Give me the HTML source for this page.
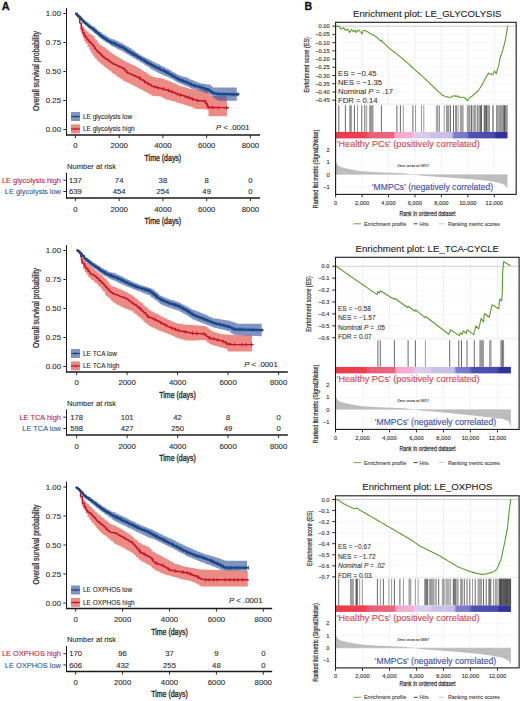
<!DOCTYPE html><html><head><meta charset="utf-8"><style>html,body{margin:0;padding:0;background:#fff;overflow:hidden;}svg{display:block;font-family:"Liberation Sans",sans-serif;}</style></head><body><svg width="520" height="701" viewBox="0 0 520 701" font-family="Liberation Sans, sans-serif">
<rect width="520" height="701" fill="#fff"/>
<text x="1.8" y="10.2" font-size="10.9" font-weight="bold" fill="#111" stroke="#111" stroke-width="0.3">A</text>
<text x="304.4" y="10.0" font-size="10.6" font-weight="bold" fill="#111" stroke="#111" stroke-width="0.3">B</text>
<polygon points="75.40,13.00 76.94,13.00 76.94,14.32 78.62,14.32 78.62,15.80 80.76,15.80 80.76,22.99 82.31,22.99 82.31,26.29 83.92,26.29 83.92,28.63 85.64,28.63 85.64,30.43 86.83,30.43 86.83,31.59 88.45,31.59 88.45,33.16 90.21,33.16 90.21,34.36 92.19,34.36 92.19,35.55 93.27,35.55 93.27,36.37 94.62,36.37 94.62,38.54 95.69,38.54 95.69,40.26 97.69,40.26 97.69,43.23 99.54,43.23 99.54,44.69 100.55,44.69 100.55,45.49 102.77,45.49 102.77,47.05 104.96,47.05 104.96,48.37 106.76,48.37 106.76,49.63 108.51,49.63 108.51,51.09 109.67,51.09 109.67,52.06 110.65,52.06 110.65,52.80 112.29,52.80 112.29,53.87 113.32,53.87 113.32,54.55 114.53,54.55 114.53,55.32 115.80,55.32 115.80,56.11 116.79,56.11 116.79,56.72 118.35,56.72 118.35,57.68 119.87,57.68 119.87,58.62 121.91,58.62 121.91,59.87 123.53,59.87 123.53,60.76 125.31,60.76 125.31,61.64 126.91,61.64 126.91,62.43 128.72,62.43 128.72,63.32 130.27,63.32 130.27,64.09 131.58,64.09 131.58,64.74 133.82,64.74 133.82,65.86 136.05,65.86 136.05,66.98 138.09,66.98 138.09,67.99 139.96,67.99 139.96,68.97 141.32,68.97 141.32,69.89 142.57,69.89 142.57,70.73 143.90,70.73 143.90,71.63 144.95,71.63 144.95,72.34 146.89,72.34 146.89,73.64 148.37,73.64 148.37,74.63 150.41,74.63 150.41,75.93 151.87,75.93 151.87,76.86 154.05,76.86 154.05,77.30 156.10,77.30 156.10,77.64 157.06,77.64 157.06,77.80 158.29,77.80 158.29,78.01 160.41,78.01 160.41,78.37 161.97,78.37 161.97,78.86 164.19,78.86 164.19,79.60 165.66,79.60 165.66,80.11 166.71,80.11 166.71,80.50 168.47,80.50 168.47,81.15 170.43,81.15 170.43,81.86 171.74,81.86 171.74,82.34 172.81,82.34 172.81,82.73 174.19,82.73 174.19,83.38 176.39,83.38 176.39,84.57 178.32,84.57 178.32,85.45 179.43,85.45 179.43,85.77 180.70,85.77 180.70,86.13 181.79,86.13 181.79,86.44 182.83,86.44 182.83,86.74 184.81,86.74 184.81,87.30 186.00,87.30 186.00,87.64 187.67,87.64 187.67,88.16 189.21,88.16 189.21,88.63 190.41,88.63 190.41,89.01 192.31,89.01 192.31,89.51 193.44,89.51 193.44,89.56 195.22,89.56 195.22,89.64 196.33,89.64 196.33,89.69 197.83,89.69 197.83,89.75 199.06,89.75 199.06,89.80 200.36,89.80 200.36,89.86 202.57,89.86 202.57,89.95 204.56,89.95 204.56,90.04 205.90,90.04 205.90,90.10 208.00,90.10 208.00,93.05 209.23,93.05 209.23,94.86 210.69,94.86 210.69,96.00 212.75,96.00 212.75,96.00 214.53,96.00 214.53,96.00 215.62,96.00 215.62,96.00 217.84,96.00 217.84,96.00 219.07,96.00 219.07,96.00 220.37,96.00 220.37,96.00 222.31,96.00 222.31,96.00 223.70,96.00 223.70,96.00 225.03,96.00 225.03,96.00 226.09,96.00 226.09,96.00 226.90,96.00 226.90,96.00 226.90,116.30 226.90,116.30 225.79,116.30 225.79,116.30 224.04,116.30 224.04,116.30 223.03,116.30 223.03,116.30 222.06,116.30 222.06,116.30 220.79,116.30 220.79,116.30 219.39,116.30 219.39,116.30 217.45,116.30 217.45,116.30 216.14,116.30 216.14,116.30 215.17,116.30 215.17,116.30 213.05,116.30 213.05,116.30 211.13,116.30 211.13,116.30 209.93,116.30 209.93,116.30 208.50,116.30 208.50,109.73 206.36,109.73 206.36,109.35 205.18,109.35 205.18,109.24 203.00,109.24 203.00,109.17 201.42,109.17 201.42,109.06 199.24,109.06 199.24,108.99 197.67,108.99 197.67,108.92 196.35,108.92 196.35,108.86 195.12,108.86 195.12,108.60 193.57,108.60 193.57,107.68 192.54,107.68 192.54,106.84 190.77,106.84 190.77,106.43 189.37,106.43 189.37,106.04 188.05,106.04 188.05,105.75 187.05,105.75 187.05,105.21 185.20,105.21 185.20,104.86 184.01,104.86 184.01,104.37 182.35,104.37 182.35,104.05 181.25,104.05 181.25,103.47 179.31,103.47 179.31,103.04 177.85,103.04 177.85,102.43 176.34,102.43 176.34,101.91 175.10,101.91 175.10,101.23 173.47,101.23 173.47,100.92 171.96,100.92 171.96,100.52 169.95,100.52 169.95,100.32 168.95,100.32 168.95,100.00 167.35,100.00 167.35,99.61 165.36,99.61 165.36,98.74 163.74,98.74 163.74,97.73 162.32,97.73 162.32,96.83 161.06,96.83 161.06,96.46 159.95,96.46 159.95,96.34 158.13,96.34 158.13,96.22 156.28,96.22 156.28,96.13 154.86,96.13 154.86,96.04 153.44,96.04 153.44,95.74 151.63,95.74 151.63,94.44 149.42,94.44 149.42,93.18 147.23,93.18 147.23,92.13 145.34,92.13 145.34,91.58 144.34,91.58 144.34,90.77 142.89,90.77 142.89,89.90 141.32,89.90 141.32,88.95 139.59,88.95 139.59,88.20 138.10,88.20 138.10,87.46 136.62,87.46 136.62,86.46 134.62,86.46 134.62,85.87 133.44,85.87 133.44,85.36 132.41,85.36 132.41,84.43 130.56,84.43 130.56,83.86 129.39,83.86 129.39,82.99 127.64,82.99 127.64,82.32 126.28,82.32 126.28,81.76 125.15,81.76 125.15,81.02 123.64,81.02 123.64,80.46 122.54,80.46 122.54,78.94 120.37,78.94 120.37,77.39 118.14,77.39 118.14,76.64 117.07,76.64 117.07,75.52 115.46,75.52 115.46,73.97 113.32,73.97 113.32,73.15 112.29,73.15 112.29,72.37 111.30,72.37 111.30,70.79 109.27,70.79 109.27,69.66 107.79,69.66 107.79,68.60 106.40,68.60 106.40,67.16 104.56,67.16 104.56,66.32 103.50,66.32 103.50,64.73 101.49,64.73 101.49,63.89 100.46,63.89 100.46,62.16 98.34,62.16 98.34,61.13 97.17,61.13 97.17,59.32 95.65,59.32 95.65,57.96 94.50,57.96 94.50,55.66 92.69,55.66 92.69,53.01 91.02,53.01 91.02,50.28 89.29,50.28 89.29,47.06 87.45,47.06 87.45,43.45 85.45,43.45 85.45,40.94 84.14,40.94 84.14,37.81 82.70,37.81 82.70,34.98 81.72,34.98 81.72,31.67 80.58,31.67 80.58,20.45 78.77,20.45 78.77,16.60 76.97,16.60 76.97,14.00 75.40,14.00" fill="rgba(222,62,48,0.6)" />
<polygon points="75.40,13.00 76.53,13.00 76.53,13.83 78.14,13.83 78.14,15.02 79.74,15.02 79.74,16.20 81.54,16.20 81.54,17.80 82.58,17.80 82.58,18.82 83.68,18.82 83.68,19.88 84.69,19.88 84.69,20.83 85.78,20.83 85.78,21.61 87.44,21.61 87.44,22.80 88.43,22.80 88.43,23.51 89.86,23.51 89.86,24.53 90.94,24.53 90.94,25.31 92.11,25.31 92.11,26.14 93.43,26.14 93.43,27.11 95.21,27.11 95.21,28.52 96.73,28.52 96.73,29.72 97.59,29.72 97.59,30.40 98.74,30.40 98.74,31.31 99.74,31.31 99.74,32.10 101.56,32.10 101.56,33.54 103.31,33.54 103.31,34.61 105.05,34.61 105.05,35.65 106.81,35.65 106.81,36.71 108.49,36.71 108.49,37.71 110.39,37.71 110.39,38.78 112.12,38.78 112.12,39.25 113.25,39.25 113.25,39.55 115.04,39.55 115.04,40.26 116.43,40.26 116.43,40.93 118.11,40.93 118.11,41.76 119.58,41.76 119.58,42.48 120.90,42.48 120.90,43.12 122.15,43.12 122.15,43.73 123.47,43.73 123.47,44.48 124.66,44.48 124.66,45.21 125.64,45.21 125.64,45.81 127.39,45.81 127.39,46.88 129.13,46.88 129.13,47.94 131.07,47.94 131.07,49.13 132.69,49.13 132.69,50.24 134.15,50.24 134.15,51.24 135.82,51.24 135.82,52.39 136.82,52.39 136.82,53.07 138.41,53.07 138.41,54.17 139.75,54.17 139.75,55.08 140.79,55.08 140.79,55.60 141.86,55.60 141.86,56.14 143.28,56.14 143.28,56.86 144.40,56.86 144.40,57.43 145.76,57.43 145.76,58.12 147.28,58.12 147.28,58.88 148.56,58.88 148.56,59.54 149.55,59.54 149.55,60.06 150.94,60.06 150.94,60.79 152.04,60.79 152.04,61.37 153.14,61.37 153.14,61.92 154.20,61.92 154.20,62.45 155.45,62.45 155.45,63.08 156.37,63.08 156.37,63.54 157.94,63.54 157.94,64.32 159.85,64.32 159.85,65.28 161.13,65.28 161.13,65.92 162.77,65.92 162.77,66.75 164.66,66.75 164.66,67.70 165.55,67.70 165.55,68.15 166.55,68.15 166.55,68.66 168.29,68.66 168.29,69.54 170.07,69.54 170.07,70.52 171.62,70.52 171.62,71.45 172.64,71.45 172.64,72.05 173.95,72.05 173.95,72.82 175.76,72.82 175.76,73.90 177.59,73.90 177.59,74.98 179.33,74.98 179.33,75.55 180.40,75.55 180.40,75.87 182.19,75.87 182.19,76.42 183.45,76.42 183.45,76.81 185.10,76.81 185.10,77.31 186.09,77.31 186.09,77.62 188.02,77.62 188.02,78.46 189.53,78.46 189.53,79.14 191.18,79.14 191.18,79.88 192.26,79.88 192.26,80.36 193.79,80.36 193.79,81.01 195.28,81.01 195.28,81.65 196.78,81.65 196.78,82.29 198.03,82.29 198.03,82.82 199.68,82.82 199.68,83.29 200.90,83.29 200.90,83.49 202.07,83.49 202.07,83.68 203.10,83.68 203.10,83.84 204.70,83.84 204.70,84.10 205.67,84.10 205.67,84.25 206.76,84.25 206.76,84.43 207.68,84.43 207.68,84.58 209.24,84.58 209.24,84.83 210.70,84.83 210.70,85.65 212.15,85.65 212.15,87.10 213.04,87.10 213.04,87.45 214.37,87.45 214.37,87.45 215.59,87.45 215.59,87.45 216.54,87.45 216.54,87.45 217.38,87.45 217.38,87.45 219.34,87.45 219.34,87.45 220.31,87.45 220.31,87.45 221.49,87.45 221.49,87.45 222.63,87.45 222.63,87.45 224.14,87.45 224.14,87.45 225.07,87.45 225.07,87.45 226.43,87.45 226.43,87.45 227.68,87.45 227.68,87.45 229.46,87.45 229.46,87.45 230.31,87.45 230.31,87.45 231.52,87.45 231.52,87.45 232.92,87.45 232.92,87.45 234.84,87.45 234.84,87.45 236.26,87.45 236.26,87.45 236.80,87.45 236.80,87.45 236.80,100.65 236.80,100.65 236.15,100.65 236.15,100.65 234.44,100.65 234.44,100.65 232.99,100.65 232.99,100.65 231.07,100.65 231.07,100.65 229.80,100.65 229.80,100.65 228.55,100.65 228.55,100.65 226.77,100.65 226.77,100.65 225.36,100.65 225.36,100.65 223.67,100.65 223.67,100.65 221.78,100.65 221.78,100.65 220.27,100.65 220.27,100.65 218.80,100.65 218.80,100.65 217.55,100.65 217.55,99.63 215.85,99.63 215.85,98.91 214.69,98.91 214.69,97.75 212.82,97.75 212.82,96.07 211.30,96.07 211.30,94.68 210.19,94.68 210.19,94.13 209.05,94.13 209.05,93.51 207.23,93.51 207.23,93.14 206.13,93.14 206.13,92.78 205.07,92.78 205.07,92.44 204.07,92.44 204.07,92.14 203.19,92.14 203.19,91.76 202.07,91.76 202.07,91.34 200.83,91.34 200.83,90.70 198.94,90.70 198.94,90.38 197.78,90.38 197.78,89.98 196.28,89.98 196.28,89.47 194.34,89.47 194.34,89.16 193.15,89.16 193.15,88.92 192.27,88.92 192.27,88.40 191.00,88.40 191.00,87.90 189.87,87.90 189.87,87.28 188.51,87.28 188.51,86.59 186.96,86.59 186.96,86.14 185.91,86.14 185.91,85.66 184.73,85.66 184.73,85.21 183.60,85.21 183.60,84.45 181.71,84.45 181.71,83.86 180.23,83.86 180.23,83.37 179.00,83.37 179.00,82.84 177.69,82.84 177.69,81.72 175.79,81.72 175.79,80.75 174.16,80.75 174.16,80.24 173.30,80.24 173.30,79.36 171.82,79.36 171.82,78.40 170.19,78.40 170.19,77.80 169.19,77.80 169.19,77.41 168.28,77.41 168.28,76.63 166.38,76.63 166.38,75.89 164.57,75.89 164.57,75.43 163.47,75.43 163.47,74.87 162.10,74.87 162.10,74.48 161.15,74.48 161.15,73.78 159.65,73.78 159.65,73.13 158.32,73.13 158.32,72.46 156.93,72.46 156.93,71.80 155.58,71.80 155.58,71.10 154.14,71.10 154.14,70.31 152.54,70.31 152.54,69.41 151.16,69.41 151.16,68.69 150.21,68.69 150.21,67.60 148.79,67.60 148.79,66.92 147.82,66.92 147.82,65.89 146.15,65.89 146.15,65.36 145.28,65.36 145.28,64.66 144.12,64.66 144.12,64.08 143.18,64.08 143.18,63.01 141.43,63.01 141.43,62.42 140.47,62.42 140.47,61.58 139.07,61.58 139.07,60.55 137.34,60.55 137.34,59.91 136.25,59.91 136.25,59.11 134.91,59.11 134.91,58.48 133.85,58.48 133.85,57.64 132.43,57.64 132.43,56.56 130.61,56.56 130.61,55.99 129.67,55.99 129.67,55.36 128.62,55.36 128.62,54.43 127.07,54.43 127.07,53.53 125.57,53.53 125.57,52.96 124.61,52.96 124.61,51.99 123.00,51.99 123.00,51.06 121.18,51.06 121.18,50.32 119.66,50.32 119.66,49.67 118.33,49.67 118.33,48.71 116.38,48.71 116.38,48.08 115.09,48.08 115.09,47.01 113.15,47.01 113.15,46.33 112.09,46.33 112.09,45.74 111.15,45.74 111.15,44.96 109.94,44.96 109.94,44.34 108.96,44.34 108.96,43.35 107.39,43.35 107.39,42.70 106.36,42.70 106.36,41.70 104.78,41.70 104.78,40.78 103.32,40.78 103.32,40.14 102.31,40.14 102.31,38.96 100.77,38.96 100.77,37.48 99.03,37.48 99.03,36.52 97.89,36.52 97.89,35.47 96.65,35.47 96.65,33.90 94.80,33.90 94.80,32.97 93.71,32.97 93.71,32.14 92.74,32.14 92.74,30.65 91.03,30.65 91.03,29.54 89.75,29.54 89.75,28.14 88.14,28.14 88.14,27.12 86.96,27.12 86.96,25.75 85.38,25.75 85.38,24.14 83.72,24.14 83.72,22.94 82.59,22.94 82.59,21.73 81.45,21.73 81.45,19.52 79.56,19.52 79.56,17.44 77.99,17.44 77.99,15.27 76.36,15.27 76.36,14.00 75.40,14.00" fill="rgba(55,88,160,0.64)" />
<polyline points="75.40,13.50 77.29,13.50 77.29,15.81 78.02,15.81 78.02,16.28 79.75,16.28 79.75,23.09 81.27,23.09 81.27,28.96 82.71,28.96 82.71,32.72 84.12,32.72 84.12,35.25 85.33,35.25 85.33,37.27 86.92,37.27 86.92,39.74 88.80,39.74 88.80,41.45 90.03,41.45 90.03,42.54 90.73,42.54 90.73,43.14 91.98,43.14 91.98,44.51 93.12,44.51 93.12,45.90 94.46,45.90 94.46,47.97 95.41,47.97 95.41,49.34 96.49,49.34 96.49,50.64 97.80,50.64 97.80,52.30 99.33,52.30 99.33,53.50 101.14,53.50 101.14,55.56 102.74,55.56 102.74,56.95 104.39,56.95 104.39,58.15 105.50,58.15 105.50,59.06 107.40,59.06 107.40,60.07 109.03,60.07 109.03,61.40 110.28,61.40 110.28,62.17 111.56,62.17 111.56,63.05 112.86,63.05 112.86,63.75 113.97,63.75 113.97,64.39 115.79,64.39 115.79,65.10 117.18,65.10 117.18,65.95 118.77,65.95 118.77,66.55 119.71,66.55 119.71,66.94 121.27,66.94 121.27,67.62 123.10,67.62 123.10,68.82 124.94,68.82 124.94,70.71 126.83,70.71 126.83,72.79 128.14,72.79 128.14,73.24 129.63,73.24 129.63,73.85 130.69,73.85 130.69,74.12 132.00,74.12 132.00,75.03 133.46,75.03 133.46,75.41 135.18,75.41 135.18,76.53 137.01,76.53 137.01,77.23 138.63,77.23 138.63,77.99 140.13,77.99 140.13,78.87 141.07,78.87 141.07,79.67 141.86,79.67 141.86,80.00 143.62,80.00 143.62,80.95 144.54,80.95 144.54,81.76 145.74,81.76 145.74,82.41 146.43,82.41 146.43,82.69 147.31,82.69 147.31,83.33 148.07,83.33 148.07,83.90 148.75,83.90 148.75,84.28 149.43,84.28 149.43,84.57 151.13,84.57 151.13,85.75 152.02,85.75 152.02,86.58 153.17,86.58 153.17,86.58 155.11,86.58 155.11,87.05 155.81,87.05 155.81,87.28 157.26,87.28 157.26,87.76 158.05,87.76 158.05,87.77 158.74,87.77 158.74,87.97 160.39,87.97 160.39,88.45 162.21,88.45 162.21,88.96 163.98,88.96 163.98,89.44 165.25,89.44 165.25,89.61 166.76,89.61 166.76,90.09 167.54,90.09 167.54,90.44 169.33,90.44 169.33,90.99 170.74,90.99 170.74,91.64 172.06,91.64 172.06,92.04 173.96,92.04 173.96,92.82 175.39,92.82 175.39,93.46 176.07,93.46 176.07,93.78 176.90,93.78 176.90,93.91 177.59,93.91 177.59,94.22 178.37,94.22 178.37,94.58 179.68,94.58 179.68,94.96 181.54,94.96 181.54,95.31 182.49,95.31 182.49,95.39 183.47,95.39 183.47,95.87 184.93,95.87 184.93,96.58 186.50,96.58 186.50,97.01 187.70,97.01 187.70,97.56 188.36,97.56 188.36,97.60 189.54,97.60 189.54,98.05 191.13,98.05 191.13,98.68 191.91,98.68 191.91,98.94 192.86,98.94 192.86,99.23 194.19,99.23 194.19,99.70 195.24,99.70 195.24,100.06 196.17,100.06 196.17,100.43 198.07,100.43 198.07,100.70 199.29,100.70 199.29,100.73 200.69,100.73 200.69,100.73 201.88,100.73 201.88,101.00 202.77,101.00 202.77,101.00 204.46,101.00 204.46,101.19 205.79,101.19 205.79,103.71 207.23,103.71 207.23,106.86 209.16,106.86 209.16,107.45 209.84,107.45 209.84,107.57 210.62,107.57 210.62,107.57 212.36,107.57 212.36,107.57 213.03,107.57 213.03,107.57 214.21,107.57 214.21,107.57 215.13,107.57 215.13,107.57 215.88,107.57 215.88,107.57 217.02,107.57 217.02,107.67 217.76,107.67 217.76,107.67 218.66,107.67 218.66,107.67 219.82,107.67 219.82,107.67 221.45,107.67 221.45,107.67 222.26,107.67 222.26,107.67 223.02,107.67 223.02,107.67 224.50,107.67 224.50,107.68 226.05,107.68 226.05,107.68 227.56,107.68 227.56,107.68 228.80,107.68 228.80,107.68" fill="none" stroke="#c8102a" stroke-width="1.4" stroke-linejoin="round" />
<polyline points="75.40,13.50 76.03,13.50 76.03,14.27 77.30,14.27 77.30,15.43 78.29,15.43 78.29,16.53 79.45,16.53 79.45,17.85 80.04,17.85 80.04,18.24 81.37,18.24 81.37,19.70 82.64,19.70 82.64,20.83 83.58,20.83 83.58,21.98 84.31,21.98 84.31,22.77 85.71,22.77 85.71,23.70 86.24,23.70 86.24,24.29 87.68,24.29 87.68,25.43 88.39,25.43 88.39,26.04 88.92,26.04 88.92,26.40 89.86,26.40 89.86,27.14 90.59,27.14 90.59,27.57 91.31,27.57 91.31,28.14 92.10,28.14 92.10,28.56 93.44,28.56 93.44,29.73 94.58,29.73 94.58,30.65 96.07,30.65 96.07,32.21 96.70,32.21 96.70,32.61 97.92,32.61 97.92,33.77 99.35,33.77 99.35,34.82 100.68,34.82 100.68,35.95 101.49,35.95 101.49,36.56 102.87,36.56 102.87,37.59 103.87,37.59 103.87,38.19 104.41,38.19 104.41,38.45 105.71,38.45 105.71,39.38 106.38,39.38 106.38,39.85 107.58,39.85 107.58,40.62 108.46,40.62 108.46,41.09 109.47,41.09 109.47,41.81 110.49,41.81 110.49,42.26 111.48,42.26 111.48,42.55 112.02,42.55 112.02,42.97 113.50,42.97 113.50,43.53 114.40,43.53 114.40,43.79 115.40,43.79 115.40,44.51 116.67,44.51 116.67,44.98 118.03,44.98 118.03,45.54 119.04,45.54 119.04,46.24 120.12,46.24 120.12,46.61 120.89,46.61 120.89,47.00 122.35,47.00 122.35,47.53 123.63,47.53 123.63,48.53 125.02,48.53 125.02,49.35 126.33,49.35 126.33,50.09 127.39,50.09 127.39,50.71 127.94,50.71 127.94,51.18 129.01,51.18 129.01,51.63 130.02,51.63 130.02,52.33 130.88,52.33 130.88,52.82 131.91,52.82 131.91,53.52 133.03,53.52 133.03,54.13 133.55,54.13 133.55,54.37 134.23,54.37 134.23,54.88 135.59,54.88 135.59,55.75 136.89,55.75 136.89,56.53 137.65,56.53 137.65,56.98 138.82,56.98 138.82,57.45 139.34,57.45 139.34,57.74 140.59,57.74 140.59,58.57 141.20,58.57 141.20,59.06 142.04,59.06 142.04,59.41 142.70,59.41 142.70,59.95 143.37,59.95 143.37,60.28 144.58,60.28 144.58,61.07 145.41,61.07 145.41,61.58 145.93,61.58 145.93,61.88 146.85,61.88 146.85,62.38 147.46,62.38 147.46,62.97 148.47,62.97 148.47,63.35 149.58,63.35 149.58,64.12 150.10,64.12 150.10,64.15 150.74,64.15 150.74,64.70 151.40,64.70 151.40,65.05 152.58,65.05 152.58,65.60 153.30,65.60 153.30,66.09 154.60,66.09 154.60,66.60 155.32,66.60 155.32,67.01 156.22,67.01 156.22,67.43 157.04,67.43 157.04,67.86 157.60,67.86 157.60,68.04 159.07,68.04 159.07,68.95 159.87,68.95 159.87,69.34 160.68,69.34 160.68,69.77 161.93,69.77 161.93,70.23 162.68,70.23 162.68,70.48 164.06,70.48 164.06,71.17 165.38,71.17 165.38,72.10 166.45,72.10 166.45,72.39 167.81,72.39 167.81,73.31 169.02,73.31 169.02,73.76 169.90,73.76 169.90,74.24 170.60,74.24 170.60,74.76 171.54,74.76 171.54,75.18 172.14,75.18 172.14,75.69 172.94,75.69 172.94,76.12 173.76,76.12 173.76,76.73 175.16,76.73 175.16,77.32 175.86,77.32 175.86,77.84 177.35,77.84 177.35,78.87 178.19,78.87 178.19,79.11 179.36,79.11 179.36,79.77 180.79,79.77 180.79,80.19 182.18,80.19 182.18,80.85 183.16,80.85 183.16,81.33 183.90,81.33 183.90,81.55 184.48,81.55 184.48,81.61 185.89,81.61 185.89,82.19 187.15,82.19 187.15,82.86 188.49,82.86 188.49,83.39 189.33,83.39 189.33,83.74 190.70,83.74 190.70,84.45 192.15,84.45 192.15,85.16 192.79,85.16 192.79,85.24 193.39,85.24 193.39,85.25 193.97,85.25 193.97,85.66 195.25,85.66 195.25,86.01 196.10,86.01 196.10,86.18 197.38,86.18 197.38,86.47 198.45,86.47 198.45,86.72 199.03,86.72 199.03,86.90 200.42,86.90 200.42,87.42 201.85,87.42 201.85,87.83 202.62,87.83 202.62,88.17 203.95,88.17 203.95,88.35 205.12,88.35 205.12,88.74 205.74,88.74 205.74,89.17 206.28,89.17 206.28,89.17 207.76,89.17 207.76,89.66 208.38,89.66 208.38,89.77 209.12,89.77 209.12,90.34 209.72,90.34 209.72,90.90 210.60,90.90 210.60,91.65 212.01,91.65 212.01,92.63 212.77,92.63 212.77,93.14 213.37,93.14 213.37,93.30 213.90,93.30 213.90,93.30 215.39,93.30 215.39,93.56 216.48,93.56 216.48,93.80 217.30,93.80 217.30,93.83 218.71,93.83 218.71,94.16 220.18,94.16 220.18,94.16 220.90,94.16 220.90,94.16 222.38,94.16 222.38,94.16 223.56,94.16 223.56,94.16 224.32,94.16 224.32,94.16 225.13,94.16 225.13,94.16 225.71,94.16 225.71,94.16 227.19,94.16 227.19,94.17 228.35,94.17 228.35,94.25 229.79,94.25 229.79,94.25 230.59,94.25 230.59,94.25 231.41,94.25 231.41,94.37 232.80,94.37 232.80,94.37 233.64,94.37 233.64,94.37 234.72,94.37 234.72,94.37 235.46,94.37 235.46,94.37 236.21,94.37 236.21,94.37 237.26,94.37 237.26,94.37 237.83,94.37 237.83,94.42 238.62,94.42 238.62,94.48 238.80,94.48 238.80,94.51" fill="none" stroke="#1b4787" stroke-width="2.1" stroke-linejoin="round" />
<line x1="140.00" y1="76.09" x2="140.00" y2="79.89" stroke="#c8102a" stroke-width="0.85" />
<line x1="144.62" y1="79.86" x2="144.62" y2="83.66" stroke="#c8102a" stroke-width="0.85" />
<line x1="148.37" y1="82.00" x2="148.37" y2="85.80" stroke="#c8102a" stroke-width="0.85" />
<line x1="154.63" y1="84.68" x2="154.63" y2="88.48" stroke="#c8102a" stroke-width="0.85" />
<line x1="157.99" y1="85.86" x2="157.99" y2="89.66" stroke="#c8102a" stroke-width="0.85" />
<line x1="163.67" y1="87.06" x2="163.67" y2="90.86" stroke="#c8102a" stroke-width="0.85" />
<line x1="168.50" y1="88.54" x2="168.50" y2="92.34" stroke="#c8102a" stroke-width="0.85" />
<line x1="171.79" y1="89.74" x2="171.79" y2="93.54" stroke="#c8102a" stroke-width="0.85" />
<line x1="177.33" y1="92.01" x2="177.33" y2="95.81" stroke="#c8102a" stroke-width="0.85" />
<line x1="180.51" y1="93.06" x2="180.51" y2="96.86" stroke="#c8102a" stroke-width="0.85" />
<line x1="185.68" y1="94.68" x2="185.68" y2="98.48" stroke="#c8102a" stroke-width="0.85" />
<line x1="189.03" y1="95.70" x2="189.03" y2="99.50" stroke="#c8102a" stroke-width="0.85" />
<line x1="192.48" y1="97.04" x2="192.48" y2="100.84" stroke="#c8102a" stroke-width="0.85" />
<line x1="197.61" y1="98.53" x2="197.61" y2="102.33" stroke="#c8102a" stroke-width="0.85" />
<line x1="204.74" y1="99.29" x2="204.74" y2="103.09" stroke="#c8102a" stroke-width="0.85" />
<line x1="208.36" y1="104.96" x2="208.36" y2="108.76" stroke="#c8102a" stroke-width="0.85" />
<line x1="212.48" y1="105.67" x2="212.48" y2="109.47" stroke="#c8102a" stroke-width="0.85" />
<line x1="218.61" y1="105.77" x2="218.61" y2="109.57" stroke="#c8102a" stroke-width="0.85" />
<line x1="226.35" y1="105.78" x2="226.35" y2="109.58" stroke="#c8102a" stroke-width="0.85" />
<line x1="100.00" y1="32.92" x2="100.00" y2="36.72" stroke="#1b4787" stroke-width="0.7" />
<line x1="102.07" y1="34.66" x2="102.07" y2="38.46" stroke="#1b4787" stroke-width="0.7" />
<line x1="105.42" y1="36.55" x2="105.42" y2="40.35" stroke="#1b4787" stroke-width="0.7" />
<line x1="106.72" y1="37.95" x2="106.72" y2="41.75" stroke="#1b4787" stroke-width="0.7" />
<line x1="109.81" y1="39.91" x2="109.81" y2="43.71" stroke="#1b4787" stroke-width="0.7" />
<line x1="111.65" y1="40.65" x2="111.65" y2="44.45" stroke="#1b4787" stroke-width="0.7" />
<line x1="113.17" y1="41.07" x2="113.17" y2="44.87" stroke="#1b4787" stroke-width="0.7" />
<line x1="114.63" y1="41.89" x2="114.63" y2="45.69" stroke="#1b4787" stroke-width="0.7" />
<line x1="116.50" y1="42.61" x2="116.50" y2="46.41" stroke="#1b4787" stroke-width="0.7" />
<line x1="119.50" y1="44.34" x2="119.50" y2="48.14" stroke="#1b4787" stroke-width="0.7" />
<line x1="121.10" y1="45.10" x2="121.10" y2="48.90" stroke="#1b4787" stroke-width="0.7" />
<line x1="123.58" y1="45.63" x2="123.58" y2="49.43" stroke="#1b4787" stroke-width="0.7" />
<line x1="126.18" y1="47.45" x2="126.18" y2="51.25" stroke="#1b4787" stroke-width="0.7" />
<line x1="128.20" y1="49.28" x2="128.20" y2="53.08" stroke="#1b4787" stroke-width="0.7" />
<line x1="130.61" y1="50.43" x2="130.61" y2="54.23" stroke="#1b4787" stroke-width="0.7" />
<line x1="131.94" y1="51.62" x2="131.94" y2="55.42" stroke="#1b4787" stroke-width="0.7" />
<line x1="133.28" y1="52.23" x2="133.28" y2="56.03" stroke="#1b4787" stroke-width="0.7" />
<line x1="134.93" y1="52.98" x2="134.93" y2="56.78" stroke="#1b4787" stroke-width="0.7" />
<line x1="137.63" y1="54.63" x2="137.63" y2="58.43" stroke="#1b4787" stroke-width="0.7" />
<line x1="139.77" y1="55.84" x2="139.77" y2="59.64" stroke="#1b4787" stroke-width="0.7" />
<line x1="141.66" y1="57.16" x2="141.66" y2="60.96" stroke="#1b4787" stroke-width="0.7" />
<line x1="144.15" y1="58.38" x2="144.15" y2="62.18" stroke="#1b4787" stroke-width="0.7" />
<line x1="146.34" y1="59.98" x2="146.34" y2="63.78" stroke="#1b4787" stroke-width="0.7" />
<line x1="148.20" y1="61.07" x2="148.20" y2="64.87" stroke="#1b4787" stroke-width="0.7" />
<line x1="151.15" y1="62.80" x2="151.15" y2="66.60" stroke="#1b4787" stroke-width="0.7" />
<line x1="153.89" y1="64.19" x2="153.89" y2="67.99" stroke="#1b4787" stroke-width="0.7" />
<line x1="155.62" y1="65.11" x2="155.62" y2="68.91" stroke="#1b4787" stroke-width="0.7" />
<line x1="158.09" y1="66.14" x2="158.09" y2="69.94" stroke="#1b4787" stroke-width="0.7" />
<line x1="160.44" y1="67.44" x2="160.44" y2="71.24" stroke="#1b4787" stroke-width="0.7" />
<line x1="163.57" y1="68.58" x2="163.57" y2="72.38" stroke="#1b4787" stroke-width="0.7" />
<line x1="166.37" y1="70.20" x2="166.37" y2="74.00" stroke="#1b4787" stroke-width="0.7" />
<line x1="168.21" y1="71.41" x2="168.21" y2="75.21" stroke="#1b4787" stroke-width="0.7" />
<line x1="171.56" y1="73.28" x2="171.56" y2="77.08" stroke="#1b4787" stroke-width="0.7" />
<line x1="173.02" y1="74.22" x2="173.02" y2="78.02" stroke="#1b4787" stroke-width="0.7" />
<line x1="175.14" y1="74.83" x2="175.14" y2="78.63" stroke="#1b4787" stroke-width="0.7" />
<line x1="178.01" y1="76.97" x2="178.01" y2="80.77" stroke="#1b4787" stroke-width="0.7" />
<line x1="179.54" y1="77.87" x2="179.54" y2="81.67" stroke="#1b4787" stroke-width="0.7" />
<line x1="181.82" y1="78.29" x2="181.82" y2="82.09" stroke="#1b4787" stroke-width="0.7" />
<line x1="183.11" y1="78.95" x2="183.11" y2="82.75" stroke="#1b4787" stroke-width="0.7" />
<line x1="185.78" y1="79.71" x2="185.78" y2="83.51" stroke="#1b4787" stroke-width="0.7" />
<line x1="188.66" y1="81.49" x2="188.66" y2="85.29" stroke="#1b4787" stroke-width="0.7" />
<line x1="191.12" y1="82.55" x2="191.12" y2="86.35" stroke="#1b4787" stroke-width="0.7" />
<line x1="194.24" y1="83.76" x2="194.24" y2="87.56" stroke="#1b4787" stroke-width="0.7" />
<line x1="196.13" y1="84.28" x2="196.13" y2="88.08" stroke="#1b4787" stroke-width="0.7" />
<line x1="198.86" y1="84.82" x2="198.86" y2="88.62" stroke="#1b4787" stroke-width="0.7" />
<line x1="201.37" y1="85.52" x2="201.37" y2="89.32" stroke="#1b4787" stroke-width="0.7" />
<line x1="203.85" y1="86.27" x2="203.85" y2="90.07" stroke="#1b4787" stroke-width="0.7" />
<line x1="206.05" y1="87.27" x2="206.05" y2="91.07" stroke="#1b4787" stroke-width="0.7" />
<line x1="209.10" y1="87.87" x2="209.10" y2="91.67" stroke="#1b4787" stroke-width="0.7" />
<line x1="212.38" y1="90.73" x2="212.38" y2="94.53" stroke="#1b4787" stroke-width="0.7" />
<line x1="214.62" y1="91.40" x2="214.62" y2="95.20" stroke="#1b4787" stroke-width="0.7" />
<line x1="217.28" y1="91.90" x2="217.28" y2="95.70" stroke="#1b4787" stroke-width="0.7" />
<line x1="218.62" y1="91.93" x2="218.62" y2="95.73" stroke="#1b4787" stroke-width="0.7" />
<line x1="221.36" y1="92.26" x2="221.36" y2="96.06" stroke="#1b4787" stroke-width="0.7" />
<line x1="223.98" y1="92.26" x2="223.98" y2="96.06" stroke="#1b4787" stroke-width="0.7" />
<line x1="227.37" y1="92.27" x2="227.37" y2="96.07" stroke="#1b4787" stroke-width="0.7" />
<line x1="230.38" y1="92.35" x2="230.38" y2="96.15" stroke="#1b4787" stroke-width="0.7" />
<line x1="232.20" y1="92.47" x2="232.20" y2="96.27" stroke="#1b4787" stroke-width="0.7" />
<line x1="234.25" y1="92.47" x2="234.25" y2="96.27" stroke="#1b4787" stroke-width="0.7" />
<line x1="236.92" y1="92.47" x2="236.92" y2="96.27" stroke="#1b4787" stroke-width="0.7" />
<line x1="238.17" y1="92.52" x2="238.17" y2="96.32" stroke="#1b4787" stroke-width="0.7" />
<line x1="66.50" y1="8.00" x2="66.50" y2="135.50" stroke="#1a1a1a" stroke-width="1" />
<line x1="66.00" y1="135.00" x2="260.00" y2="135.00" stroke="#1a1a1a" stroke-width="1.35" />
<line x1="63.30" y1="13.50" x2="66.50" y2="13.50" stroke="#1a1a1a" stroke-width="0.9" />
<text x="61.00" y="16.20" font-size="7.8" text-anchor="end" fill="#2a2a2a" stroke="#2a2a2a" stroke-width="0.1" >1.00</text>
<line x1="63.30" y1="42.50" x2="66.50" y2="42.50" stroke="#1a1a1a" stroke-width="0.9" />
<text x="61.00" y="45.20" font-size="7.8" text-anchor="end" fill="#2a2a2a" stroke="#2a2a2a" stroke-width="0.1" >0.75</text>
<line x1="63.30" y1="71.50" x2="66.50" y2="71.50" stroke="#1a1a1a" stroke-width="0.9" />
<text x="61.00" y="74.20" font-size="7.8" text-anchor="end" fill="#2a2a2a" stroke="#2a2a2a" stroke-width="0.1" >0.50</text>
<line x1="63.30" y1="100.50" x2="66.50" y2="100.50" stroke="#1a1a1a" stroke-width="0.9" />
<text x="61.00" y="103.20" font-size="7.8" text-anchor="end" fill="#2a2a2a" stroke="#2a2a2a" stroke-width="0.1" >0.25</text>
<line x1="63.30" y1="129.50" x2="66.50" y2="129.50" stroke="#1a1a1a" stroke-width="0.9" />
<text x="61.00" y="132.20" font-size="7.8" text-anchor="end" fill="#2a2a2a" stroke="#2a2a2a" stroke-width="0.1" >0.00</text>
<line x1="75.40" y1="135.00" x2="75.40" y2="138.20" stroke="#1a1a1a" stroke-width="0.9" />
<text x="75.40" y="148.30" font-size="7.8" text-anchor="middle" fill="#2a2a2a" stroke="#2a2a2a" stroke-width="0.1" >0</text>
<line x1="119.15" y1="135.00" x2="119.15" y2="138.20" stroke="#1a1a1a" stroke-width="0.9" />
<text x="119.15" y="148.30" font-size="7.8" text-anchor="middle" fill="#2a2a2a" stroke="#2a2a2a" stroke-width="0.1" >2000</text>
<line x1="162.90" y1="135.00" x2="162.90" y2="138.20" stroke="#1a1a1a" stroke-width="0.9" />
<text x="162.90" y="148.30" font-size="7.8" text-anchor="middle" fill="#2a2a2a" stroke="#2a2a2a" stroke-width="0.1" >4000</text>
<line x1="206.65" y1="135.00" x2="206.65" y2="138.20" stroke="#1a1a1a" stroke-width="0.9" />
<text x="206.65" y="148.30" font-size="7.8" text-anchor="middle" fill="#2a2a2a" stroke="#2a2a2a" stroke-width="0.1" >6000</text>
<line x1="250.40" y1="135.00" x2="250.40" y2="138.20" stroke="#1a1a1a" stroke-width="0.9" />
<text x="250.40" y="148.30" font-size="7.8" text-anchor="middle" fill="#2a2a2a" stroke="#2a2a2a" stroke-width="0.1" >8000</text>
<text x="144.60" y="161.20" font-size="8.6" fill="#2a2a2a" stroke="#2a2a2a" stroke-width="0.35" textLength="36.60" lengthAdjust="spacingAndGlyphs">Time (days)</text>
<text transform="translate(39.00,71.00) rotate(-90)" x="-40.00" y="0" font-size="8.6" fill="#2a2a2a" stroke="#2a2a2a" stroke-width="0.25" textLength="80.00" lengthAdjust="spacingAndGlyphs">Overall survival probability</text>
<rect x="71" y="112" width="9" height="9" fill="rgba(55,88,160,0.64)"/>
<line x1="71.00" y1="116.50" x2="80.00" y2="116.50" stroke="#1b4787" stroke-width="1.2" />
<line x1="75.50" y1="115.00" x2="75.50" y2="118.00" stroke="#1b4787" stroke-width="0.7" />
<rect x="71" y="124.4" width="9" height="9" fill="rgba(222,62,48,0.6)"/>
<line x1="71.00" y1="129.00" x2="80.00" y2="129.00" stroke="#c8102a" stroke-width="1.2" />
<line x1="75.50" y1="127.50" x2="75.50" y2="130.50" stroke="#c8102a" stroke-width="0.7" />
<text x="83.00" y="118.90" font-size="6.5" text-anchor="start" fill="#2a2a2a" stroke="#2a2a2a" stroke-width="0.1" >LE glycolysis low</text>
<text x="83.00" y="131.40" font-size="6.5" text-anchor="start" fill="#2a2a2a" stroke="#2a2a2a" stroke-width="0.1" >LE glycolysis high</text>
<text x="249.60" y="129.80" font-size="7.8" text-anchor="end" fill="#2a2a2a" stroke="#2a2a2a" stroke-width="0.1"><tspan font-style="italic">P</tspan> &lt; .0001</text>
<text x="67.00" y="168.80" font-size="7.55" text-anchor="start" fill="#2a2a2a" stroke="#2a2a2a" stroke-width="0.1" >Number at risk</text>
<line x1="66.50" y1="172.50" x2="66.50" y2="198.50" stroke="#1a1a1a" stroke-width="1" />
<line x1="66.00" y1="198.00" x2="260.00" y2="198.00" stroke="#1a1a1a" stroke-width="1.35" />
<line x1="63.30" y1="180.20" x2="66.50" y2="180.20" stroke="#1a1a1a" stroke-width="0.9" />
<line x1="63.30" y1="191.50" x2="66.50" y2="191.50" stroke="#1a1a1a" stroke-width="0.9" />
<text x="61.00" y="182.90" font-size="7.45" text-anchor="end" fill="#c4203c" stroke="#c4203c" stroke-width="0.1" >LE glycolysis high</text>
<text x="61.00" y="194.10" font-size="7.45" text-anchor="end" fill="#215d9b" stroke="#215d9b" stroke-width="0.1" >LE glycolysis low</text>
<text x="75.40" y="182.90" font-size="7.7" text-anchor="middle" fill="#2a2a2a" stroke="#2a2a2a" stroke-width="0.1" >137</text>
<text x="75.40" y="194.10" font-size="7.7" text-anchor="middle" fill="#2a2a2a" stroke="#2a2a2a" stroke-width="0.1" >639</text>
<text x="119.15" y="182.90" font-size="7.7" text-anchor="middle" fill="#2a2a2a" stroke="#2a2a2a" stroke-width="0.1" >74</text>
<text x="119.15" y="194.10" font-size="7.7" text-anchor="middle" fill="#2a2a2a" stroke="#2a2a2a" stroke-width="0.1" >454</text>
<text x="162.90" y="182.90" font-size="7.7" text-anchor="middle" fill="#2a2a2a" stroke="#2a2a2a" stroke-width="0.1" >38</text>
<text x="162.90" y="194.10" font-size="7.7" text-anchor="middle" fill="#2a2a2a" stroke="#2a2a2a" stroke-width="0.1" >254</text>
<text x="206.65" y="182.90" font-size="7.7" text-anchor="middle" fill="#2a2a2a" stroke="#2a2a2a" stroke-width="0.1" >8</text>
<text x="206.65" y="194.10" font-size="7.7" text-anchor="middle" fill="#2a2a2a" stroke="#2a2a2a" stroke-width="0.1" >49</text>
<text x="250.40" y="182.90" font-size="7.7" text-anchor="middle" fill="#2a2a2a" stroke="#2a2a2a" stroke-width="0.1" >0</text>
<text x="250.40" y="194.10" font-size="7.7" text-anchor="middle" fill="#2a2a2a" stroke="#2a2a2a" stroke-width="0.1" >0</text>
<line x1="75.40" y1="198.00" x2="75.40" y2="201.20" stroke="#1a1a1a" stroke-width="0.9" />
<text x="75.40" y="211.50" font-size="7.8" text-anchor="middle" fill="#2a2a2a" stroke="#2a2a2a" stroke-width="0.1" >0</text>
<line x1="119.15" y1="198.00" x2="119.15" y2="201.20" stroke="#1a1a1a" stroke-width="0.9" />
<text x="119.15" y="211.50" font-size="7.8" text-anchor="middle" fill="#2a2a2a" stroke="#2a2a2a" stroke-width="0.1" >2000</text>
<line x1="162.90" y1="198.00" x2="162.90" y2="201.20" stroke="#1a1a1a" stroke-width="0.9" />
<text x="162.90" y="211.50" font-size="7.8" text-anchor="middle" fill="#2a2a2a" stroke="#2a2a2a" stroke-width="0.1" >4000</text>
<line x1="206.65" y1="198.00" x2="206.65" y2="201.20" stroke="#1a1a1a" stroke-width="0.9" />
<text x="206.65" y="211.50" font-size="7.8" text-anchor="middle" fill="#2a2a2a" stroke="#2a2a2a" stroke-width="0.1" >6000</text>
<line x1="250.40" y1="198.00" x2="250.40" y2="201.20" stroke="#1a1a1a" stroke-width="0.9" />
<text x="250.40" y="211.50" font-size="7.8" text-anchor="middle" fill="#2a2a2a" stroke="#2a2a2a" stroke-width="0.1" >8000</text>
<text x="144.60" y="223.70" font-size="8.6" fill="#2a2a2a" stroke="#2a2a2a" stroke-width="0.35" textLength="36.60" lengthAdjust="spacingAndGlyphs">Time (days)</text>
<polygon points="76.60,249.80 78.63,249.80 78.63,250.92 80.52,250.92 80.52,254.25 82.50,254.25 82.50,258.70 84.38,258.70 84.38,260.94 86.23,260.94 86.23,262.52 88.07,262.52 88.07,264.01 89.44,264.01 89.44,265.24 91.49,265.24 91.49,267.29 93.33,267.29 93.33,269.08 94.92,269.08 94.92,270.34 95.99,270.34 95.99,271.19 97.74,271.19 97.74,272.58 98.84,272.58 98.84,273.47 100.63,273.47 100.63,274.93 102.80,274.93 102.80,276.88 104.50,276.88 104.50,278.53 106.71,278.53 106.71,280.87 108.53,280.87 108.53,283.14 109.81,283.14 109.81,284.72 111.12,284.72 111.12,285.65 112.82,285.65 112.82,286.46 114.63,286.46 114.63,287.29 116.30,287.29 116.30,287.98 118.05,287.98 118.05,288.71 119.60,288.71 119.60,289.35 121.14,289.35 121.14,289.99 122.84,289.99 122.84,290.72 124.32,290.72 124.32,291.48 125.43,291.48 125.43,292.05 127.01,292.05 127.01,292.86 128.04,292.86 128.04,293.38 130.17,293.38 130.17,294.48 131.17,294.48 131.17,295.02 132.50,295.02 132.50,296.07 133.63,296.07 133.63,296.98 135.40,296.98 135.40,298.39 137.18,298.39 137.18,299.81 138.50,299.81 138.50,300.86 139.56,300.86 139.56,301.71 140.81,301.71 140.81,302.84 142.81,302.84 142.81,304.66 144.31,304.66 144.31,306.03 145.50,306.03 145.50,307.12 147.54,307.12 147.54,308.98 148.60,308.98 148.60,309.82 150.72,309.82 150.72,311.07 151.68,311.07 151.68,311.63 153.72,311.63 153.72,312.68 154.78,312.68 154.78,313.21 155.91,313.21 155.91,313.77 158.02,313.77 158.02,314.82 159.68,314.82 159.68,315.65 161.19,315.65 161.19,316.41 162.61,316.41 162.61,317.14 163.97,317.14 163.97,317.85 164.95,317.85 164.95,318.35 166.99,318.35 166.99,319.40 168.20,319.40 168.20,320.03 170.26,320.03 170.26,320.92 171.76,320.92 171.76,321.47 173.63,321.47 173.63,322.15 175.19,322.15 175.19,322.72 176.46,322.72 176.46,323.19 177.54,323.19 177.54,323.59 178.84,323.59 178.84,323.79 180.99,323.79 180.99,324.05 182.00,324.05 182.00,324.17 183.85,324.17 183.85,324.40 185.72,324.40 185.72,324.63 187.12,324.63 187.12,324.76 188.54,324.76 188.54,324.87 189.78,324.87 189.78,324.97 191.80,324.97 191.80,325.12 193.58,325.12 193.58,325.26 194.69,325.26 194.69,325.34 196.15,325.34 196.15,325.46 198.02,325.46 198.02,325.60 199.83,325.60 199.83,325.74 200.93,325.74 200.93,325.82 202.35,325.82 202.35,325.93 203.88,325.93 203.88,326.05 205.42,326.05 205.42,326.74 207.61,326.74 207.61,328.26 209.01,328.26 209.01,329.24 209.98,329.24 209.98,329.91 211.06,329.91 211.06,330.66 212.43,330.66 212.43,331.61 214.51,331.61 214.51,332.33 216.45,332.33 216.45,332.90 217.82,332.90 217.82,333.30 219.36,333.30 219.36,333.75 220.36,333.75 220.36,334.04 221.91,334.04 221.91,334.27 222.94,334.27 222.94,334.34 224.88,334.34 224.88,334.48 226.45,334.48 226.45,334.59 228.61,334.59 228.61,334.74 230.15,334.74 230.15,334.85 231.33,334.85 231.33,334.93 232.65,334.93 232.65,335.00 234.72,335.00 234.72,335.00 236.08,335.00 236.08,335.00 237.73,335.00 237.73,335.00 239.24,335.00 239.24,335.00 240.84,335.00 240.84,335.00 242.80,335.00 242.80,335.00 243.97,335.00 243.97,335.00 245.03,335.00 245.03,335.00 246.79,335.00 246.79,335.00 248.50,335.00 248.50,335.00 250.38,335.00 250.38,335.00 251.41,335.00 251.41,335.00 251.90,335.00 251.90,335.00 251.90,351.40 251.90,351.40 251.64,351.40 251.64,351.40 249.76,351.40 249.76,351.40 247.96,351.40 247.96,351.40 246.99,351.40 246.99,351.40 245.02,351.40 245.02,351.40 243.40,351.40 243.40,351.40 241.55,351.40 241.55,351.40 239.50,351.40 239.50,351.40 238.06,351.40 238.06,351.40 235.95,351.40 235.95,351.40 234.86,351.40 234.86,351.40 232.89,351.40 232.89,351.40 231.67,351.40 231.67,351.40 230.33,351.40 230.33,351.40 229.13,351.40 229.13,351.40 227.71,351.40 227.71,349.37 226.10,349.37 226.10,348.52 224.49,348.52 224.49,348.10 223.06,348.10 223.06,347.79 221.98,347.79 221.98,347.30 220.31,347.30 220.31,346.92 218.99,346.92 218.99,346.40 217.22,346.40 217.22,345.89 215.46,345.89 215.46,345.39 213.74,345.39 213.74,344.92 212.15,344.92 212.15,344.53 210.82,344.53 210.82,344.01 209.26,344.01 209.26,342.55 207.43,342.55 207.43,341.69 206.36,341.69 206.36,340.21 204.19,340.21 204.19,340.25 202.32,340.25 202.32,340.30 200.50,340.30 200.50,340.33 199.26,340.33 199.26,340.37 197.50,340.37 197.50,340.41 195.74,340.41 195.74,340.45 193.94,340.45 193.94,340.50 192.06,340.50 192.06,340.55 189.93,340.55 189.93,340.58 188.74,340.58 188.74,340.61 187.60,340.61 187.60,340.60 186.06,340.60 186.06,340.20 184.53,340.20 184.53,339.80 182.97,339.80 182.97,339.30 181.07,339.30 181.07,338.85 179.36,338.85 179.36,338.49 177.99,338.49 177.99,337.70 176.15,337.70 176.15,337.18 175.03,337.18 175.03,336.44 173.42,336.44 173.42,335.66 171.74,335.66 171.74,335.08 170.48,335.08 170.48,334.45 169.12,334.45 169.12,333.99 167.79,333.99 167.79,333.26 165.71,333.26 165.71,332.53 163.64,332.53 163.64,332.09 162.38,332.09 162.38,331.53 160.78,331.53 160.78,330.84 159.21,330.84 159.21,330.20 157.79,330.20 157.79,329.51 156.25,329.51 156.25,328.54 154.09,328.54 154.09,327.69 152.20,327.69 152.20,327.06 150.98,327.06 150.98,326.47 149.86,326.47 149.86,325.81 148.60,325.81 148.60,324.58 146.94,324.58 146.94,322.94 144.92,322.94 144.92,321.81 143.61,321.81 143.61,320.46 142.26,320.46 142.26,318.61 140.41,318.61 140.41,317.51 139.21,317.51 139.21,316.19 137.57,316.19 137.57,314.78 135.81,314.78 135.81,313.58 134.31,313.58 134.31,312.76 133.30,312.76 133.30,311.37 131.57,311.37 131.57,310.68 130.30,310.68 130.30,310.08 128.80,310.08 128.80,309.67 127.78,309.67 127.78,309.04 126.21,309.04 126.21,308.59 125.07,308.59 125.07,308.17 124.03,308.17 124.03,307.44 122.29,307.44 122.29,306.46 120.32,306.46 120.32,305.57 118.54,305.57 118.54,304.73 116.86,304.73 116.86,304.21 115.82,304.21 115.82,303.02 113.71,303.02 113.71,301.57 112.19,301.57 112.19,300.40 110.98,300.40 110.98,299.12 109.56,299.12 109.56,297.29 107.33,297.29 107.33,296.09 105.92,296.09 105.92,294.46 104.77,294.46 104.77,291.59 102.75,291.59 102.75,289.53 101.22,289.53 101.22,287.35 99.42,287.35 99.42,286.01 98.31,286.01 98.31,284.50 96.90,284.50 96.90,282.89 94.93,282.89 94.93,281.59 93.32,281.59 93.32,280.00 91.36,280.00 91.36,279.05 90.20,279.05 90.20,276.93 88.13,276.93 88.13,274.62 86.53,274.62 86.53,272.05 84.76,272.05 84.76,268.94 83.00,268.94 83.00,263.58 81.28,263.58 81.28,257.09 79.96,257.09 79.96,252.44 77.91,252.44 77.91,250.80 76.60,250.80" fill="rgba(222,62,48,0.6)" />
<polygon points="76.60,249.80 77.87,249.80 77.87,250.36 79.76,250.36 79.76,251.20 81.23,251.20 81.23,252.59 82.15,252.59 82.15,253.72 83.03,253.72 83.03,254.81 84.14,254.81 84.14,256.17 85.16,256.17 85.16,257.13 86.42,257.13 86.42,258.01 87.72,258.01 87.72,258.91 89.63,258.91 89.63,260.23 90.98,260.23 90.98,261.17 92.43,261.17 92.43,262.17 93.62,262.17 93.62,262.97 95.46,262.97 95.46,264.14 97.21,264.14 97.21,265.26 98.23,265.26 98.23,265.91 99.98,265.91 99.98,267.03 101.30,267.03 101.30,267.87 102.35,267.87 102.35,268.46 103.72,268.46 103.72,269.17 104.80,269.17 104.80,269.72 106.29,269.72 106.29,270.49 108.07,270.49 108.07,271.40 109.38,271.40 109.38,272.08 110.73,272.08 110.73,272.58 112.33,272.58 112.33,272.82 113.60,272.82 113.60,273.00 115.09,273.00 115.09,273.59 116.31,273.59 116.31,274.19 117.39,274.19 117.39,274.71 119.27,274.71 119.27,275.63 120.63,275.63 120.63,276.29 122.50,276.29 122.50,277.20 124.18,277.20 124.18,278.05 125.42,278.05 125.42,278.68 127.12,278.68 127.12,279.54 128.24,279.54 128.24,280.10 130.01,280.10 130.01,281.00 131.80,281.00 131.80,281.83 133.53,281.83 133.53,282.51 134.94,282.51 134.94,283.07 136.75,283.07 136.75,283.78 138.60,283.78 138.60,284.51 139.70,284.51 139.70,284.95 141.07,284.95 141.07,285.37 142.55,285.37 142.55,285.82 143.96,285.82 143.96,286.25 145.68,286.25 145.68,286.78 146.82,286.78 146.82,287.13 148.24,287.13 148.24,287.57 149.30,287.57 149.30,287.99 151.17,287.99 151.17,288.74 152.65,288.74 152.65,289.59 153.91,289.59 153.91,290.60 155.60,290.60 155.60,291.95 156.71,291.95 156.71,292.84 158.38,292.84 158.38,294.18 159.30,294.18 159.30,294.91 160.28,294.91 160.28,295.69 161.29,295.69 161.29,296.22 163.13,296.22 163.13,296.96 164.79,296.96 164.79,297.63 166.74,297.63 166.74,298.41 167.71,298.41 167.71,298.79 168.58,298.79 168.58,299.14 170.20,299.14 170.20,299.70 171.25,299.70 171.25,300.03 173.11,300.03 173.11,300.62 175.06,300.62 175.06,301.24 175.93,301.24 175.93,301.52 177.86,301.52 177.86,302.17 179.04,302.17 179.04,302.78 180.80,302.78 180.80,303.70 181.95,303.70 181.95,304.30 182.84,304.30 182.84,304.76 184.69,304.76 184.69,305.72 185.68,305.72 185.68,306.24 187.42,306.24 187.42,307.20 189.29,307.20 189.29,308.27 190.56,308.27 190.56,309.00 192.12,309.00 192.12,309.85 193.84,309.85 193.84,310.31 194.73,310.31 194.73,310.55 195.97,310.55 195.97,310.88 196.85,310.88 196.85,311.22 198.29,311.22 198.29,311.86 199.82,311.86 199.82,312.54 200.99,312.54 200.99,313.05 201.84,313.05 201.84,313.43 203.09,313.43 203.09,313.99 204.85,313.99 204.85,314.77 206.67,314.77 206.67,315.58 208.29,315.58 208.29,316.29 209.21,316.29 209.21,316.70 210.09,316.70 210.09,317.09 211.22,317.09 211.22,317.59 212.51,317.59 212.51,318.17 213.83,318.17 213.83,318.42 214.98,318.42 214.98,318.60 216.89,318.60 216.89,318.89 218.19,318.89 218.19,319.09 219.56,319.09 219.56,319.30 220.78,319.30 220.78,319.49 222.35,319.49 222.35,319.73 223.68,319.73 223.68,319.93 225.04,319.93 225.04,320.14 226.69,320.14 226.69,320.40 228.63,320.40 228.63,320.69 230.45,320.69 230.45,321.26 231.49,321.26 231.49,321.63 232.46,321.63 232.46,321.97 234.06,321.97 234.06,322.54 235.95,322.54 235.95,323.21 237.62,323.21 237.62,323.65 238.99,323.65 238.99,323.65 239.96,323.65 239.96,323.65 241.79,323.65 241.79,323.65 242.88,323.65 242.88,323.65 243.79,323.65 243.79,323.65 245.12,323.65 245.12,323.65 246.05,323.65 246.05,323.65 247.38,323.65 247.38,323.65 249.05,323.65 249.05,323.65 250.27,323.65 250.27,323.65 251.20,323.65 251.20,323.65 252.11,323.65 252.11,323.65 253.59,323.65 253.59,323.65 254.79,323.65 254.79,323.65 256.63,323.65 256.63,323.65 257.81,323.65 257.81,323.65 259.39,323.65 259.39,323.65 260.29,323.65 260.29,323.65 261.70,323.65 261.70,323.65 261.70,336.35 261.70,336.30 260.89,336.30 260.89,336.23 259.61,336.23 259.61,336.13 257.92,336.13 257.92,336.02 256.02,336.02 256.02,335.93 254.52,335.93 254.52,335.86 253.24,335.86 253.24,335.76 251.54,335.76 251.54,335.70 250.47,335.70 250.47,335.65 249.60,335.65 249.60,335.60 248.69,335.60 248.69,335.49 246.87,335.49 246.87,335.43 245.79,335.43 245.79,335.36 244.60,335.36 244.60,335.27 243.02,335.27 243.02,335.19 241.62,335.19 241.62,335.10 240.06,335.10 240.06,334.99 238.22,334.99 238.22,334.91 236.84,334.91 236.84,334.81 235.07,334.81 235.07,334.75 234.09,334.75 234.09,334.70 233.25,334.70 233.25,333.85 231.48,333.85 231.48,332.92 230.52,332.92 230.52,331.61 229.17,331.61 229.17,331.00 227.22,331.00 227.22,330.52 225.31,330.52 225.31,330.28 224.34,330.28 224.34,330.04 223.40,330.04 223.40,329.55 221.46,329.55 221.46,329.20 220.04,329.20 220.04,328.97 219.16,328.97 219.16,328.70 218.07,328.70 218.07,328.47 217.16,328.47 217.16,327.99 215.26,327.99 215.26,327.74 214.26,327.74 214.26,327.45 213.08,327.45 213.08,326.77 211.22,326.77 211.22,326.16 209.70,326.16 209.70,325.47 207.93,325.47 207.93,325.05 206.87,325.05 206.87,324.65 205.86,324.65 205.86,324.17 204.64,324.17 204.64,323.47 202.88,323.47 202.88,322.88 201.39,322.88 201.39,322.42 200.22,322.42 200.22,321.88 198.86,321.88 198.86,321.29 197.35,321.29 197.35,320.91 196.40,320.91 196.40,320.46 195.24,320.46 195.24,319.81 193.54,319.81 193.54,319.22 192.00,319.22 192.00,318.25 190.63,318.25 190.63,316.93 188.77,316.93 188.77,315.92 187.35,315.92 187.35,314.98 185.96,314.98 185.96,314.16 184.37,314.16 184.37,313.67 183.43,313.67 183.43,313.04 182.23,313.04 182.23,312.37 180.93,312.37 180.93,311.66 179.57,311.66 179.57,310.87 178.06,310.87 178.06,310.29 176.46,310.29 176.46,309.97 175.47,309.97 175.47,309.62 174.35,309.62 174.35,309.09 172.69,309.09 172.69,308.47 170.74,308.47 170.74,307.84 168.84,307.84 168.84,307.29 167.45,307.29 167.45,306.82 166.27,306.82 166.27,306.27 164.90,306.27 164.90,305.66 163.38,305.66 163.38,305.18 162.18,305.18 162.18,304.60 160.73,304.60 160.73,303.95 159.85,303.95 159.85,303.00 158.66,303.00 158.66,301.54 156.84,301.54 156.84,299.98 154.89,299.98 154.89,299.21 153.92,299.21 153.92,297.74 152.09,297.74 152.09,297.07 151.06,297.07 151.06,296.53 150.22,296.53 150.22,295.37 148.40,295.37 148.40,294.83 147.15,294.83 147.15,294.41 146.11,294.41 146.11,293.76 144.48,293.76 144.48,293.23 143.14,293.23 143.14,292.84 142.18,292.84 142.18,292.31 140.84,292.31 140.84,291.61 139.09,291.61 139.09,291.08 137.75,291.08 137.75,290.72 136.84,290.72 136.84,289.96 134.92,289.96 134.92,289.44 133.59,289.44 133.59,288.78 131.93,288.78 131.93,288.31 130.75,288.31 130.75,287.51 128.83,287.51 128.83,287.07 127.74,287.07 127.74,286.44 126.22,286.44 126.22,285.81 124.70,285.81 124.70,285.22 123.26,285.22 123.26,284.44 121.53,284.44 121.53,283.70 119.96,283.70 119.96,283.29 119.10,283.29 119.10,282.83 118.13,282.83 118.13,282.34 117.10,282.34 117.10,281.51 115.36,281.51 115.36,281.01 114.30,281.01 114.30,280.24 112.39,280.24 112.39,279.85 111.36,279.85 111.36,279.31 110.05,279.31 110.05,278.45 108.55,278.45 108.55,277.84 107.48,277.84 107.48,276.80 105.66,276.80 105.66,275.81 103.93,275.81 103.93,275.01 102.54,275.01 102.54,274.52 101.69,274.52 101.69,273.78 100.68,273.78 100.68,272.81 99.35,272.81 99.35,271.46 97.50,271.46 97.50,270.35 95.99,270.35 95.99,268.92 94.04,268.92 94.04,267.62 92.37,267.62 92.37,266.42 90.96,266.42 90.96,264.78 89.02,264.78 89.02,263.69 87.73,263.69 87.73,262.11 85.87,262.11 85.87,261.15 84.73,261.15 84.73,259.20 83.35,259.20 83.35,257.30 82.05,257.30 82.05,255.32 80.69,255.32 80.69,253.58 79.21,253.58 79.21,252.22 77.94,252.22 77.94,250.80 76.60,250.80" fill="rgba(55,88,160,0.64)" />
<polyline points="76.60,250.30 77.40,250.30 77.40,251.09 78.25,251.09 78.25,251.49 78.98,251.49 78.98,252.19 79.65,252.19 79.65,253.43 80.63,253.43 80.63,256.46 81.47,256.46 81.47,259.95 82.15,259.95 82.15,262.66 82.95,262.66 82.95,263.71 84.69,263.71 84.69,266.61 86.13,266.61 86.13,268.77 88.04,268.77 88.04,271.23 89.67,271.23 89.67,273.37 90.95,273.37 90.95,274.12 91.72,274.12 91.72,274.49 93.10,274.49 93.10,274.98 94.03,274.98 94.03,275.65 95.10,275.65 95.10,276.46 96.52,276.46 96.52,277.82 97.44,277.82 97.44,278.65 99.14,278.65 99.14,280.45 100.78,280.45 100.78,281.89 101.79,281.89 101.79,282.97 103.66,282.97 103.66,284.87 105.40,284.87 105.40,286.99 106.67,286.99 106.67,288.17 107.68,288.17 107.68,289.35 109.32,289.35 109.32,291.13 110.06,291.13 110.06,291.79 111.35,291.79 111.35,292.57 112.65,292.57 112.65,293.45 113.60,293.45 113.60,293.70 114.32,293.70 114.32,294.24 115.26,294.24 115.26,294.62 117.05,294.62 117.05,295.03 118.18,295.03 118.18,295.66 119.63,295.66 119.63,296.42 120.69,296.42 120.69,296.90 122.61,296.90 122.61,297.32 124.50,297.32 124.50,298.30 126.07,298.30 126.07,298.78 127.78,298.78 127.78,299.88 128.83,299.88 128.83,300.66 130.17,300.66 130.17,301.89 132.04,301.89 132.04,303.14 133.36,303.14 133.36,304.14 134.85,304.14 134.85,304.80 136.09,304.80 136.09,305.91 137.49,305.91 137.49,306.98 138.66,306.98 138.66,307.96 139.47,307.96 139.47,308.37 141.10,308.37 141.10,310.12 142.43,310.12 142.43,311.39 143.86,311.39 143.86,312.70 145.67,312.70 145.67,314.59 147.31,314.59 147.31,316.27 148.41,316.27 148.41,317.28 150.26,317.28 150.26,317.89 151.24,317.89 151.24,318.04 152.54,318.04 152.54,318.77 154.04,318.77 154.04,319.36 154.79,319.36 154.79,319.82 156.58,319.82 156.58,320.70 158.51,320.70 158.51,321.91 159.17,321.91 159.17,322.01 160.39,322.01 160.39,322.72 161.43,322.72 161.43,323.23 162.83,323.23 162.83,324.02 164.48,324.02 164.48,324.90 165.56,324.90 165.56,325.31 166.77,325.31 166.77,326.04 167.45,326.04 167.45,326.39 168.36,326.39 168.36,326.89 170.22,326.89 170.22,327.50 171.01,327.50 171.01,327.76 171.82,327.76 171.82,328.31 172.89,328.31 172.89,328.55 174.72,328.55 174.72,329.43 176.36,329.43 176.36,330.17 177.82,330.17 177.82,330.50 179.06,330.50 179.06,330.89 180.93,330.89 180.93,331.05 181.99,331.05 181.99,331.51 183.88,331.51 183.88,331.69 184.69,331.69 184.69,331.76 186.45,331.76 186.45,332.39 188.11,332.39 188.11,332.49 189.96,332.49 189.96,332.86 191.27,332.86 191.27,333.19 192.15,333.19 192.15,333.19 193.07,333.19 193.07,333.35 194.17,333.35 194.17,333.35 196.08,333.35 196.08,333.52 197.52,333.52 197.52,333.64 198.35,333.64 198.35,333.64 199.76,333.64 199.76,333.67 201.03,333.67 201.03,333.70 202.48,333.70 202.48,333.84 204.14,333.84 204.14,333.84 204.91,333.84 204.91,334.25 205.95,334.25 205.95,335.51 206.67,335.51 206.67,336.66 208.56,336.66 208.56,337.95 210.29,337.95 210.29,338.55 211.02,338.55 211.02,338.68 212.42,338.68 212.42,338.83 213.08,338.83 213.08,338.88 214.87,338.88 214.87,339.41 216.52,339.41 216.52,340.02 218.16,340.02 218.16,340.20 219.67,340.20 219.67,340.40 220.49,340.40 220.49,340.65 221.68,340.65 221.68,340.95 223.00,340.95 223.00,341.49 223.73,341.49 223.73,341.61 225.04,341.61 225.04,342.57 226.33,342.57 226.33,343.41 227.19,343.41 227.19,344.06 228.95,344.06 228.95,344.26 229.66,344.26 229.66,344.29 231.55,344.29 231.55,344.60 233.12,344.60 233.12,344.60 234.07,344.60 234.07,344.60 235.37,344.60 235.37,344.60 237.13,344.60 237.13,344.60 238.33,344.60 238.33,344.60 239.03,344.60 239.03,344.60 240.80,344.60 240.80,344.60 242.43,344.60 242.43,344.60 243.16,344.60 243.16,344.60 245.06,344.60 245.06,344.60 246.44,344.60 246.44,344.60 248.36,344.60 248.36,344.60 249.87,344.60 249.87,344.60 250.85,344.60 250.85,344.60 252.70,344.60 252.70,344.60 253.60,344.60 253.60,344.60" fill="none" stroke="#c8102a" stroke-width="1.4" stroke-linejoin="round" />
<polyline points="76.60,250.30 77.90,250.30 77.90,251.15 79.12,251.15 79.12,252.07 79.76,252.07 79.76,252.79 80.43,252.79 80.43,253.26 81.49,253.26 81.49,254.45 82.16,254.45 82.16,255.37 82.68,255.37 82.68,256.06 84.11,256.06 84.11,257.80 84.75,257.80 84.75,258.73 85.67,258.73 85.67,259.27 87.11,259.27 87.11,260.61 88.26,260.61 88.26,261.46 89.61,261.46 89.61,262.63 90.95,262.63 90.95,263.63 91.54,263.63 91.54,264.00 92.17,264.00 92.17,264.50 93.27,264.50 93.27,265.32 94.55,265.32 94.55,266.28 96.01,266.28 96.01,267.14 97.50,267.14 97.50,268.10 98.75,268.10 98.75,268.95 99.73,268.95 99.73,269.80 100.28,269.80 100.28,270.21 101.07,270.21 101.07,270.53 101.57,270.53 101.57,271.07 102.41,271.07 102.41,271.40 103.76,271.40 103.76,272.30 104.51,272.30 104.51,272.78 105.41,272.78 105.41,273.40 106.23,273.40 106.23,273.86 107.02,273.86 107.02,274.23 107.92,274.23 107.92,274.45 108.62,274.45 108.62,274.72 110.04,274.72 110.04,275.39 111.52,275.39 111.52,276.10 112.99,276.10 112.99,276.69 113.62,276.69 113.62,276.89 114.96,276.89 114.96,277.30 115.70,277.30 115.70,277.54 116.56,277.54 116.56,277.93 117.82,277.93 117.82,278.46 118.72,278.46 118.72,279.08 119.78,279.08 119.78,279.32 120.77,279.32 120.77,279.76 122.11,279.76 122.11,280.63 123.39,280.63 123.39,281.01 124.11,281.01 124.11,281.60 125.49,281.60 125.49,282.27 126.23,282.27 126.23,282.48 127.70,282.48 127.70,283.22 128.37,283.22 128.37,283.54 129.26,283.54 129.26,284.02 130.60,284.02 130.60,284.67 131.88,284.67 131.88,285.32 132.45,285.32 132.45,285.47 133.92,285.47 133.92,285.87 134.89,285.87 134.89,286.18 135.80,286.18 135.80,286.67 136.80,286.67 136.80,287.08 138.17,287.08 138.17,287.50 139.59,287.50 139.59,287.94 140.48,287.94 140.48,288.32 141.70,288.32 141.70,288.69 143.16,288.69 143.16,288.88 143.74,288.88 143.74,289.10 144.62,289.10 144.62,289.53 146.02,289.53 146.02,289.97 146.63,289.97 146.63,290.12 147.89,290.12 147.89,290.35 148.89,290.35 148.89,290.85 150.23,290.85 150.23,291.87 151.15,291.87 151.15,292.25 151.74,292.25 151.74,292.62 152.75,292.62 152.75,293.39 153.54,293.39 153.54,294.28 155.03,294.28 155.03,295.48 156.16,295.48 156.16,296.35 157.35,296.35 157.35,297.23 157.88,297.23 157.88,297.68 158.74,297.68 158.74,298.32 159.80,298.32 159.80,299.04 160.78,299.04 160.78,299.81 161.82,299.81 161.82,300.31 163.12,300.31 163.12,300.68 163.90,300.68 163.90,301.25 165.31,301.25 165.31,301.79 165.82,301.79 165.82,301.87 166.98,301.87 166.98,302.35 167.98,302.35 167.98,302.76 169.22,302.76 169.22,303.39 169.87,303.39 169.87,303.39 170.95,303.39 170.95,303.76 172.07,303.76 172.07,304.28 173.41,304.28 173.41,304.57 174.88,304.57 174.88,305.08 176.12,305.08 176.12,305.57 177.59,305.57 177.59,305.91 178.34,305.91 178.34,306.14 179.66,306.14 179.66,307.06 180.84,307.06 180.84,307.58 181.64,307.58 181.64,307.89 183.03,307.89 183.03,308.68 184.05,308.68 184.05,309.17 184.61,309.17 184.61,309.58 185.20,309.58 185.20,309.87 186.15,309.87 186.15,310.37 187.41,310.37 187.41,311.32 188.78,311.32 188.78,312.15 190.27,312.15 190.27,313.19 191.20,313.19 191.20,314.01 192.63,314.01 192.63,314.69 193.27,314.69 193.27,315.09 194.56,315.09 194.56,315.54 195.78,315.54 195.78,316.09 196.88,316.09 196.88,316.41 197.79,316.41 197.79,316.97 199.18,316.97 199.18,317.45 200.45,317.45 200.45,317.95 201.88,317.95 201.88,318.47 203.05,318.47 203.05,319.11 203.77,319.11 203.77,319.18 205.20,319.18 205.20,319.72 206.51,319.72 206.51,320.29 207.95,320.29 207.95,320.99 209.17,320.99 209.17,321.27 210.48,321.27 210.48,321.82 211.71,321.82 211.71,322.36 212.60,322.36 212.60,322.62 213.61,322.62 213.61,323.12 214.56,323.12 214.56,323.30 215.11,323.30 215.11,323.54 216.11,323.54 216.11,323.74 217.27,323.74 217.27,324.00 218.37,324.00 218.37,324.09 219.19,324.09 219.19,324.34 220.05,324.34 220.05,324.66 220.84,324.66 220.84,324.93 222.14,324.93 222.14,325.29 223.63,325.29 223.63,325.44 224.98,325.44 224.98,325.87 225.95,325.87 225.95,326.00 227.36,326.00 227.36,326.63 228.29,326.63 228.29,326.73 229.71,326.73 229.71,327.19 231.11,327.19 231.11,327.82 232.07,327.82 232.07,328.40 232.58,328.40 232.58,328.61 233.63,328.61 233.63,329.29 234.73,329.29 234.73,329.34 235.38,329.34 235.38,329.34 235.88,329.34 235.88,329.34 236.91,329.34 236.91,329.50 238.04,329.50 238.04,329.50 238.89,329.50 238.89,329.50 239.97,329.50 239.97,329.50 241.13,329.50 241.13,329.53 242.33,329.53 242.33,329.53 243.74,329.53 243.74,329.55 245.18,329.55 245.18,329.71 246.50,329.71 246.50,329.71 247.44,329.71 247.44,329.71 248.48,329.71 248.48,329.71 249.38,329.71 249.38,329.86 250.85,329.86 250.85,329.90 252.18,329.90 252.18,329.90 253.25,329.90 253.25,329.90 254.12,329.90 254.12,329.90 255.53,329.90 255.53,330.03 256.07,330.03 256.07,330.03 257.25,330.03 257.25,330.07 258.09,330.07 258.09,330.07 259.17,330.07 259.17,330.07 259.94,330.07 259.94,330.07 261.34,330.07 261.34,330.07 262.08,330.07 262.08,330.12 263.37,330.12 263.37,330.12 263.40,330.12 263.40,330.12" fill="none" stroke="#1b4787" stroke-width="2.1" stroke-linejoin="round" />
<line x1="140.00" y1="306.47" x2="140.00" y2="310.27" stroke="#c8102a" stroke-width="0.85" />
<line x1="147.73" y1="314.37" x2="147.73" y2="318.17" stroke="#c8102a" stroke-width="0.85" />
<line x1="154.67" y1="317.46" x2="154.67" y2="321.26" stroke="#c8102a" stroke-width="0.85" />
<line x1="161.07" y1="320.82" x2="161.07" y2="324.62" stroke="#c8102a" stroke-width="0.85" />
<line x1="165.99" y1="323.41" x2="165.99" y2="327.21" stroke="#c8102a" stroke-width="0.85" />
<line x1="171.89" y1="326.41" x2="171.89" y2="330.21" stroke="#c8102a" stroke-width="0.85" />
<line x1="175.21" y1="327.53" x2="175.21" y2="331.33" stroke="#c8102a" stroke-width="0.85" />
<line x1="178.72" y1="328.60" x2="178.72" y2="332.40" stroke="#c8102a" stroke-width="0.85" />
<line x1="185.37" y1="329.86" x2="185.37" y2="333.66" stroke="#c8102a" stroke-width="0.85" />
<line x1="192.52" y1="331.29" x2="192.52" y2="335.09" stroke="#c8102a" stroke-width="0.85" />
<line x1="196.90" y1="331.62" x2="196.90" y2="335.42" stroke="#c8102a" stroke-width="0.85" />
<line x1="203.98" y1="331.94" x2="203.98" y2="335.74" stroke="#c8102a" stroke-width="0.85" />
<line x1="210.06" y1="336.05" x2="210.06" y2="339.85" stroke="#c8102a" stroke-width="0.85" />
<line x1="213.72" y1="336.98" x2="213.72" y2="340.78" stroke="#c8102a" stroke-width="0.85" />
<line x1="217.87" y1="338.12" x2="217.87" y2="341.92" stroke="#c8102a" stroke-width="0.85" />
<line x1="223.02" y1="339.59" x2="223.02" y2="343.39" stroke="#c8102a" stroke-width="0.85" />
<line x1="226.60" y1="341.51" x2="226.60" y2="345.31" stroke="#c8102a" stroke-width="0.85" />
<line x1="229.65" y1="342.36" x2="229.65" y2="346.16" stroke="#c8102a" stroke-width="0.85" />
<line x1="234.42" y1="342.70" x2="234.42" y2="346.50" stroke="#c8102a" stroke-width="0.85" />
<line x1="241.98" y1="342.70" x2="241.98" y2="346.50" stroke="#c8102a" stroke-width="0.85" />
<line x1="246.03" y1="342.70" x2="246.03" y2="346.50" stroke="#c8102a" stroke-width="0.85" />
<line x1="251.33" y1="342.70" x2="251.33" y2="346.50" stroke="#c8102a" stroke-width="0.85" />
<line x1="100.00" y1="267.90" x2="100.00" y2="271.70" stroke="#1b4787" stroke-width="0.7" />
<line x1="102.06" y1="269.17" x2="102.06" y2="272.97" stroke="#1b4787" stroke-width="0.7" />
<line x1="105.35" y1="270.88" x2="105.35" y2="274.68" stroke="#1b4787" stroke-width="0.7" />
<line x1="108.00" y1="272.55" x2="108.00" y2="276.35" stroke="#1b4787" stroke-width="0.7" />
<line x1="110.32" y1="273.49" x2="110.32" y2="277.29" stroke="#1b4787" stroke-width="0.7" />
<line x1="111.52" y1="273.49" x2="111.52" y2="277.29" stroke="#1b4787" stroke-width="0.7" />
<line x1="113.83" y1="274.99" x2="113.83" y2="278.79" stroke="#1b4787" stroke-width="0.7" />
<line x1="116.93" y1="276.03" x2="116.93" y2="279.83" stroke="#1b4787" stroke-width="0.7" />
<line x1="118.67" y1="276.56" x2="118.67" y2="280.36" stroke="#1b4787" stroke-width="0.7" />
<line x1="120.87" y1="277.86" x2="120.87" y2="281.66" stroke="#1b4787" stroke-width="0.7" />
<line x1="124.11" y1="279.11" x2="124.11" y2="282.91" stroke="#1b4787" stroke-width="0.7" />
<line x1="127.13" y1="280.58" x2="127.13" y2="284.38" stroke="#1b4787" stroke-width="0.7" />
<line x1="128.66" y1="281.64" x2="128.66" y2="285.44" stroke="#1b4787" stroke-width="0.7" />
<line x1="131.36" y1="282.77" x2="131.36" y2="286.57" stroke="#1b4787" stroke-width="0.7" />
<line x1="134.24" y1="283.97" x2="134.24" y2="287.77" stroke="#1b4787" stroke-width="0.7" />
<line x1="136.17" y1="284.77" x2="136.17" y2="288.57" stroke="#1b4787" stroke-width="0.7" />
<line x1="139.31" y1="285.60" x2="139.31" y2="289.40" stroke="#1b4787" stroke-width="0.7" />
<line x1="142.49" y1="286.79" x2="142.49" y2="290.59" stroke="#1b4787" stroke-width="0.7" />
<line x1="144.52" y1="287.20" x2="144.52" y2="291.00" stroke="#1b4787" stroke-width="0.7" />
<line x1="146.33" y1="288.07" x2="146.33" y2="291.87" stroke="#1b4787" stroke-width="0.7" />
<line x1="147.60" y1="288.22" x2="147.60" y2="292.02" stroke="#1b4787" stroke-width="0.7" />
<line x1="149.20" y1="288.95" x2="149.20" y2="292.75" stroke="#1b4787" stroke-width="0.7" />
<line x1="150.99" y1="289.97" x2="150.99" y2="293.77" stroke="#1b4787" stroke-width="0.7" />
<line x1="152.77" y1="291.49" x2="152.77" y2="295.29" stroke="#1b4787" stroke-width="0.7" />
<line x1="154.12" y1="292.38" x2="154.12" y2="296.18" stroke="#1b4787" stroke-width="0.7" />
<line x1="155.52" y1="293.58" x2="155.52" y2="297.38" stroke="#1b4787" stroke-width="0.7" />
<line x1="157.13" y1="294.45" x2="157.13" y2="298.25" stroke="#1b4787" stroke-width="0.7" />
<line x1="160.25" y1="297.14" x2="160.25" y2="300.94" stroke="#1b4787" stroke-width="0.7" />
<line x1="161.64" y1="297.91" x2="161.64" y2="301.71" stroke="#1b4787" stroke-width="0.7" />
<line x1="163.80" y1="298.78" x2="163.80" y2="302.58" stroke="#1b4787" stroke-width="0.7" />
<line x1="166.14" y1="299.97" x2="166.14" y2="303.77" stroke="#1b4787" stroke-width="0.7" />
<line x1="168.29" y1="300.86" x2="168.29" y2="304.66" stroke="#1b4787" stroke-width="0.7" />
<line x1="170.68" y1="301.49" x2="170.68" y2="305.29" stroke="#1b4787" stroke-width="0.7" />
<line x1="173.52" y1="302.67" x2="173.52" y2="306.47" stroke="#1b4787" stroke-width="0.7" />
<line x1="174.81" y1="302.67" x2="174.81" y2="306.47" stroke="#1b4787" stroke-width="0.7" />
<line x1="176.04" y1="303.18" x2="176.04" y2="306.98" stroke="#1b4787" stroke-width="0.7" />
<line x1="178.27" y1="304.01" x2="178.27" y2="307.81" stroke="#1b4787" stroke-width="0.7" />
<line x1="180.73" y1="305.16" x2="180.73" y2="308.96" stroke="#1b4787" stroke-width="0.7" />
<line x1="183.20" y1="306.78" x2="183.20" y2="310.58" stroke="#1b4787" stroke-width="0.7" />
<line x1="185.90" y1="307.97" x2="185.90" y2="311.77" stroke="#1b4787" stroke-width="0.7" />
<line x1="187.55" y1="309.42" x2="187.55" y2="313.22" stroke="#1b4787" stroke-width="0.7" />
<line x1="189.52" y1="310.25" x2="189.52" y2="314.05" stroke="#1b4787" stroke-width="0.7" />
<line x1="192.56" y1="312.11" x2="192.56" y2="315.91" stroke="#1b4787" stroke-width="0.7" />
<line x1="194.40" y1="313.19" x2="194.40" y2="316.99" stroke="#1b4787" stroke-width="0.7" />
<line x1="196.44" y1="314.19" x2="196.44" y2="317.99" stroke="#1b4787" stroke-width="0.7" />
<line x1="199.75" y1="315.55" x2="199.75" y2="319.35" stroke="#1b4787" stroke-width="0.7" />
<line x1="201.77" y1="316.05" x2="201.77" y2="319.85" stroke="#1b4787" stroke-width="0.7" />
<line x1="203.74" y1="317.21" x2="203.74" y2="321.01" stroke="#1b4787" stroke-width="0.7" />
<line x1="205.03" y1="317.28" x2="205.03" y2="321.08" stroke="#1b4787" stroke-width="0.7" />
<line x1="207.71" y1="318.39" x2="207.71" y2="322.19" stroke="#1b4787" stroke-width="0.7" />
<line x1="209.94" y1="319.37" x2="209.94" y2="323.17" stroke="#1b4787" stroke-width="0.7" />
<line x1="212.08" y1="320.46" x2="212.08" y2="324.26" stroke="#1b4787" stroke-width="0.7" />
<line x1="215.29" y1="321.64" x2="215.29" y2="325.44" stroke="#1b4787" stroke-width="0.7" />
<line x1="216.56" y1="321.84" x2="216.56" y2="325.64" stroke="#1b4787" stroke-width="0.7" />
<line x1="218.74" y1="322.19" x2="218.74" y2="325.99" stroke="#1b4787" stroke-width="0.7" />
<line x1="220.21" y1="322.76" x2="220.21" y2="326.56" stroke="#1b4787" stroke-width="0.7" />
<line x1="223.37" y1="323.39" x2="223.37" y2="327.19" stroke="#1b4787" stroke-width="0.7" />
<line x1="225.16" y1="323.97" x2="225.16" y2="327.77" stroke="#1b4787" stroke-width="0.7" />
<line x1="227.67" y1="324.73" x2="227.67" y2="328.53" stroke="#1b4787" stroke-width="0.7" />
<line x1="229.01" y1="324.83" x2="229.01" y2="328.63" stroke="#1b4787" stroke-width="0.7" />
<line x1="232.22" y1="326.50" x2="232.22" y2="330.30" stroke="#1b4787" stroke-width="0.7" />
<line x1="234.50" y1="327.39" x2="234.50" y2="331.19" stroke="#1b4787" stroke-width="0.7" />
<line x1="235.82" y1="327.44" x2="235.82" y2="331.24" stroke="#1b4787" stroke-width="0.7" />
<line x1="238.24" y1="327.60" x2="238.24" y2="331.40" stroke="#1b4787" stroke-width="0.7" />
<line x1="239.95" y1="327.60" x2="239.95" y2="331.40" stroke="#1b4787" stroke-width="0.7" />
<line x1="241.18" y1="327.63" x2="241.18" y2="331.43" stroke="#1b4787" stroke-width="0.7" />
<line x1="242.94" y1="327.63" x2="242.94" y2="331.43" stroke="#1b4787" stroke-width="0.7" />
<line x1="244.59" y1="327.65" x2="244.59" y2="331.45" stroke="#1b4787" stroke-width="0.7" />
<line x1="247.94" y1="327.81" x2="247.94" y2="331.61" stroke="#1b4787" stroke-width="0.7" />
<line x1="251.11" y1="328.00" x2="251.11" y2="331.80" stroke="#1b4787" stroke-width="0.7" />
<line x1="253.54" y1="328.00" x2="253.54" y2="331.80" stroke="#1b4787" stroke-width="0.7" />
<line x1="256.85" y1="328.13" x2="256.85" y2="331.93" stroke="#1b4787" stroke-width="0.7" />
<line x1="259.27" y1="328.17" x2="259.27" y2="331.97" stroke="#1b4787" stroke-width="0.7" />
<line x1="261.75" y1="328.17" x2="261.75" y2="331.97" stroke="#1b4787" stroke-width="0.7" />
<line x1="66.50" y1="245.00" x2="66.50" y2="372.50" stroke="#1a1a1a" stroke-width="1" />
<line x1="66.00" y1="372.00" x2="287.80" y2="372.00" stroke="#1a1a1a" stroke-width="1.35" />
<line x1="63.30" y1="250.50" x2="66.50" y2="250.50" stroke="#1a1a1a" stroke-width="0.9" />
<text x="61.00" y="253.20" font-size="7.8" text-anchor="end" fill="#2a2a2a" stroke="#2a2a2a" stroke-width="0.1" >1.00</text>
<line x1="63.30" y1="279.50" x2="66.50" y2="279.50" stroke="#1a1a1a" stroke-width="0.9" />
<text x="61.00" y="282.20" font-size="7.8" text-anchor="end" fill="#2a2a2a" stroke="#2a2a2a" stroke-width="0.1" >0.75</text>
<line x1="63.30" y1="308.50" x2="66.50" y2="308.50" stroke="#1a1a1a" stroke-width="0.9" />
<text x="61.00" y="311.20" font-size="7.8" text-anchor="end" fill="#2a2a2a" stroke="#2a2a2a" stroke-width="0.1" >0.50</text>
<line x1="63.30" y1="337.50" x2="66.50" y2="337.50" stroke="#1a1a1a" stroke-width="0.9" />
<text x="61.00" y="340.20" font-size="7.8" text-anchor="end" fill="#2a2a2a" stroke="#2a2a2a" stroke-width="0.1" >0.25</text>
<line x1="63.30" y1="366.50" x2="66.50" y2="366.50" stroke="#1a1a1a" stroke-width="0.9" />
<text x="61.00" y="369.20" font-size="7.8" text-anchor="end" fill="#2a2a2a" stroke="#2a2a2a" stroke-width="0.1" >0.00</text>
<line x1="76.60" y1="372.00" x2="76.60" y2="375.20" stroke="#1a1a1a" stroke-width="0.9" />
<text x="76.60" y="385.30" font-size="7.8" text-anchor="middle" fill="#2a2a2a" stroke="#2a2a2a" stroke-width="0.1" >0</text>
<line x1="127.10" y1="372.00" x2="127.10" y2="375.20" stroke="#1a1a1a" stroke-width="0.9" />
<text x="127.10" y="385.30" font-size="7.8" text-anchor="middle" fill="#2a2a2a" stroke="#2a2a2a" stroke-width="0.1" >2000</text>
<line x1="177.60" y1="372.00" x2="177.60" y2="375.20" stroke="#1a1a1a" stroke-width="0.9" />
<text x="177.60" y="385.30" font-size="7.8" text-anchor="middle" fill="#2a2a2a" stroke="#2a2a2a" stroke-width="0.1" >4000</text>
<line x1="228.10" y1="372.00" x2="228.10" y2="375.20" stroke="#1a1a1a" stroke-width="0.9" />
<text x="228.10" y="385.30" font-size="7.8" text-anchor="middle" fill="#2a2a2a" stroke="#2a2a2a" stroke-width="0.1" >6000</text>
<line x1="278.60" y1="372.00" x2="278.60" y2="375.20" stroke="#1a1a1a" stroke-width="0.9" />
<text x="278.60" y="385.30" font-size="7.8" text-anchor="middle" fill="#2a2a2a" stroke="#2a2a2a" stroke-width="0.1" >8000</text>
<text x="159.30" y="398.20" font-size="8.6" fill="#2a2a2a" stroke="#2a2a2a" stroke-width="0.35" textLength="36.60" lengthAdjust="spacingAndGlyphs">Time (days)</text>
<text transform="translate(39.00,308.00) rotate(-90)" x="-40.00" y="0" font-size="8.6" fill="#2a2a2a" stroke="#2a2a2a" stroke-width="0.25" textLength="80.00" lengthAdjust="spacingAndGlyphs">Overall survival probability</text>
<rect x="71" y="349" width="9" height="9" fill="rgba(55,88,160,0.64)"/>
<line x1="71.00" y1="353.50" x2="80.00" y2="353.50" stroke="#1b4787" stroke-width="1.2" />
<line x1="75.50" y1="352.00" x2="75.50" y2="355.00" stroke="#1b4787" stroke-width="0.7" />
<rect x="71" y="361.4" width="9" height="9" fill="rgba(222,62,48,0.6)"/>
<line x1="71.00" y1="366.00" x2="80.00" y2="366.00" stroke="#c8102a" stroke-width="1.2" />
<line x1="75.50" y1="364.50" x2="75.50" y2="367.50" stroke="#c8102a" stroke-width="0.7" />
<text x="83.00" y="355.90" font-size="6.5" text-anchor="start" fill="#2a2a2a" stroke="#2a2a2a" stroke-width="0.1" >LE TCA low</text>
<text x="83.00" y="368.40" font-size="6.5" text-anchor="start" fill="#2a2a2a" stroke="#2a2a2a" stroke-width="0.1" >LE TCA high</text>
<text x="277.80" y="366.80" font-size="7.8" text-anchor="end" fill="#2a2a2a" stroke="#2a2a2a" stroke-width="0.1"><tspan font-style="italic">P</tspan> &lt; .0001</text>
<text x="67.00" y="405.80" font-size="7.55" text-anchor="start" fill="#2a2a2a" stroke="#2a2a2a" stroke-width="0.1" >Number at risk</text>
<line x1="66.50" y1="409.50" x2="66.50" y2="435.50" stroke="#1a1a1a" stroke-width="1" />
<line x1="66.00" y1="435.00" x2="287.80" y2="435.00" stroke="#1a1a1a" stroke-width="1.35" />
<line x1="63.30" y1="417.20" x2="66.50" y2="417.20" stroke="#1a1a1a" stroke-width="0.9" />
<line x1="63.30" y1="428.50" x2="66.50" y2="428.50" stroke="#1a1a1a" stroke-width="0.9" />
<text x="61.00" y="419.90" font-size="7.45" text-anchor="end" fill="#c4203c" stroke="#c4203c" stroke-width="0.1" >LE TCA high</text>
<text x="61.00" y="431.10" font-size="7.45" text-anchor="end" fill="#215d9b" stroke="#215d9b" stroke-width="0.1" >LE TCA low</text>
<text x="76.60" y="419.90" font-size="7.7" text-anchor="middle" fill="#2a2a2a" stroke="#2a2a2a" stroke-width="0.1" >178</text>
<text x="76.60" y="431.10" font-size="7.7" text-anchor="middle" fill="#2a2a2a" stroke="#2a2a2a" stroke-width="0.1" >598</text>
<text x="127.10" y="419.90" font-size="7.7" text-anchor="middle" fill="#2a2a2a" stroke="#2a2a2a" stroke-width="0.1" >101</text>
<text x="127.10" y="431.10" font-size="7.7" text-anchor="middle" fill="#2a2a2a" stroke="#2a2a2a" stroke-width="0.1" >427</text>
<text x="177.60" y="419.90" font-size="7.7" text-anchor="middle" fill="#2a2a2a" stroke="#2a2a2a" stroke-width="0.1" >42</text>
<text x="177.60" y="431.10" font-size="7.7" text-anchor="middle" fill="#2a2a2a" stroke="#2a2a2a" stroke-width="0.1" >250</text>
<text x="228.10" y="419.90" font-size="7.7" text-anchor="middle" fill="#2a2a2a" stroke="#2a2a2a" stroke-width="0.1" >8</text>
<text x="228.10" y="431.10" font-size="7.7" text-anchor="middle" fill="#2a2a2a" stroke="#2a2a2a" stroke-width="0.1" >49</text>
<text x="278.60" y="419.90" font-size="7.7" text-anchor="middle" fill="#2a2a2a" stroke="#2a2a2a" stroke-width="0.1" >0</text>
<text x="278.60" y="431.10" font-size="7.7" text-anchor="middle" fill="#2a2a2a" stroke="#2a2a2a" stroke-width="0.1" >0</text>
<line x1="76.60" y1="435.00" x2="76.60" y2="438.20" stroke="#1a1a1a" stroke-width="0.9" />
<text x="76.60" y="448.50" font-size="7.8" text-anchor="middle" fill="#2a2a2a" stroke="#2a2a2a" stroke-width="0.1" >0</text>
<line x1="127.10" y1="435.00" x2="127.10" y2="438.20" stroke="#1a1a1a" stroke-width="0.9" />
<text x="127.10" y="448.50" font-size="7.8" text-anchor="middle" fill="#2a2a2a" stroke="#2a2a2a" stroke-width="0.1" >2000</text>
<line x1="177.60" y1="435.00" x2="177.60" y2="438.20" stroke="#1a1a1a" stroke-width="0.9" />
<text x="177.60" y="448.50" font-size="7.8" text-anchor="middle" fill="#2a2a2a" stroke="#2a2a2a" stroke-width="0.1" >4000</text>
<line x1="228.10" y1="435.00" x2="228.10" y2="438.20" stroke="#1a1a1a" stroke-width="0.9" />
<text x="228.10" y="448.50" font-size="7.8" text-anchor="middle" fill="#2a2a2a" stroke="#2a2a2a" stroke-width="0.1" >6000</text>
<line x1="278.60" y1="435.00" x2="278.60" y2="438.20" stroke="#1a1a1a" stroke-width="0.9" />
<text x="278.60" y="448.50" font-size="7.8" text-anchor="middle" fill="#2a2a2a" stroke="#2a2a2a" stroke-width="0.1" >8000</text>
<text x="159.30" y="460.70" font-size="8.6" fill="#2a2a2a" stroke="#2a2a2a" stroke-width="0.35" textLength="36.60" lengthAdjust="spacingAndGlyphs">Time (days)</text>
<polygon points="75.70,487.00 77.39,487.00 77.39,488.13 78.92,488.13 78.92,489.15 79.93,489.15 79.93,491.24 81.01,491.24 81.01,494.84 82.29,494.84 82.29,497.50 83.39,497.50 83.39,499.69 85.20,499.69 85.20,502.59 86.95,502.59 86.95,504.00 88.86,504.00 88.86,505.56 90.30,505.56 90.30,507.00 92.26,507.00 92.26,508.96 93.64,508.96 93.64,510.34 95.12,510.34 95.12,511.82 96.86,511.82 96.86,513.56 98.51,513.56 98.51,514.98 100.70,514.98 100.70,516.71 102.09,516.71 102.09,517.81 104.16,517.81 104.16,519.50 105.81,519.50 105.81,520.85 107.98,520.85 107.98,522.60 110.14,522.60 110.14,524.35 112.23,524.35 112.23,524.99 114.20,524.99 114.20,525.61 116.16,525.61 116.16,526.66 117.60,526.66 117.60,527.42 119.71,527.42 119.71,528.56 121.35,528.56 121.35,529.43 123.09,529.43 123.09,530.44 124.34,530.44 124.34,531.33 125.79,531.33 125.79,532.35 126.76,532.35 126.76,533.04 128.91,533.04 128.91,534.56 130.77,534.56 130.77,535.87 132.31,535.87 132.31,537.14 134.16,537.14 134.16,538.73 135.35,538.73 135.35,539.75 137.39,539.75 137.39,541.51 138.80,541.51 138.80,542.73 141.02,542.73 141.02,544.05 142.47,544.05 142.47,544.64 143.67,544.64 143.67,545.13 145.68,545.13 145.68,545.96 146.71,545.96 146.71,546.39 147.99,546.39 147.99,546.91 149.65,546.91 149.65,548.66 151.67,548.66 151.67,550.96 153.16,550.96 153.16,551.96 154.38,551.96 154.38,552.62 156.06,552.62 156.06,553.53 157.30,553.53 157.30,554.20 158.30,554.20 158.30,554.74 159.66,554.74 159.66,555.48 161.83,555.48 161.83,556.65 162.94,556.65 162.94,557.25 164.00,557.25 164.00,557.85 165.44,557.85 165.44,558.65 167.59,558.65 167.59,559.86 168.90,559.86 168.90,560.59 169.88,560.59 169.88,561.14 171.61,561.14 171.61,562.10 173.06,562.10 173.06,562.91 174.86,562.91 174.86,563.92 176.99,563.92 176.99,564.54 178.43,564.54 178.43,564.93 180.04,564.93 180.04,565.37 181.04,565.37 181.04,565.65 182.34,565.65 182.34,566.00 183.97,566.00 183.97,566.45 186.03,566.45 186.03,567.01 187.62,567.01 187.62,567.29 189.62,567.29 189.62,567.65 191.84,567.65 191.84,568.04 193.52,568.04 193.52,568.34 195.20,568.34 195.20,568.64 196.55,568.64 196.55,568.88 198.06,568.88 198.06,569.15 199.60,569.15 199.60,569.43 201.57,569.43 201.57,569.55 203.23,569.55 203.23,569.59 205.39,569.59 205.39,569.66 206.65,569.66 206.65,569.69 208.56,569.69 208.56,569.75 209.82,569.75 209.82,569.79 211.67,569.79 211.67,569.84 213.40,569.84 213.40,569.89 214.44,569.89 214.44,569.92 215.84,569.92 215.84,569.96 217.61,569.96 217.61,570.02 219.65,570.02 219.65,570.08 220.90,570.08 220.90,570.11 222.61,570.11 222.61,570.16 223.79,570.16 223.79,570.20 225.89,570.20 225.89,570.26 228.12,570.26 228.12,570.32 229.30,570.32 229.30,570.36 230.27,570.36 230.27,570.39 231.37,570.39 231.37,570.42 232.55,570.42 232.55,570.45 234.10,570.45 234.10,570.50 236.26,570.50 236.26,570.56 237.97,570.56 237.97,570.61 239.22,570.61 239.22,570.65 240.81,570.65 240.81,570.70 242.76,570.70 242.76,570.75 244.25,570.75 244.25,570.80 246.48,570.80 246.48,570.86 247.80,570.86 247.80,570.90 247.80,586.40 247.80,586.40 247.30,586.40 247.30,586.40 245.98,586.40 245.98,586.40 244.16,586.40 244.16,586.40 242.68,586.40 242.68,586.40 241.49,586.40 241.49,586.40 239.56,586.40 239.56,586.40 238.13,586.40 238.13,586.40 236.29,586.40 236.29,586.40 234.70,586.40 234.70,586.40 232.76,586.40 232.76,586.40 230.61,586.40 230.61,586.40 229.61,586.40 229.61,586.40 228.16,586.40 228.16,586.40 226.19,586.40 226.19,586.40 224.36,586.40 224.36,586.40 222.50,586.40 222.50,586.40 221.54,586.40 221.54,586.40 219.38,586.40 219.38,586.40 217.69,586.40 217.69,586.40 216.45,586.40 216.45,586.40 214.75,586.40 214.75,586.40 213.33,586.40 213.33,586.40 212.05,586.40 212.05,586.40 209.91,586.40 209.91,586.40 208.32,586.40 208.32,586.40 207.26,586.40 207.26,586.40 205.54,586.40 205.54,586.40 203.96,586.40 203.96,586.40 202.97,586.40 202.97,586.40 201.77,586.40 201.77,586.28 199.83,586.28 199.83,584.83 197.84,584.83 197.84,583.67 196.24,583.67 196.24,582.74 194.17,582.74 194.17,581.95 192.28,581.95 192.28,581.16 190.38,581.16 190.38,580.84 189.14,580.84 189.14,580.56 187.67,580.56 187.67,580.32 186.37,580.32 186.37,580.05 184.95,580.05 184.95,579.67 182.93,579.67 182.93,579.23 181.09,579.23 181.09,578.87 179.90,578.87 179.90,578.48 178.61,578.48 178.61,577.96 176.85,577.96 176.85,577.30 174.67,577.30 174.67,576.86 173.21,576.86 173.21,576.38 171.52,576.38 171.52,576.05 170.29,576.05 170.29,575.54 168.34,575.54 168.34,575.17 166.91,575.17 166.91,574.66 164.95,574.66 164.95,574.34 163.74,574.34 163.74,573.45 161.54,573.45 161.54,572.85 160.29,572.85 160.29,572.32 159.18,572.32 159.18,571.32 157.09,571.32 157.09,570.81 156.03,570.81 156.03,569.84 154.01,569.84 154.01,568.15 151.90,568.15 151.90,566.37 149.77,566.37 149.77,564.75 147.64,564.75 147.64,564.06 146.40,564.06 146.40,563.15 144.75,563.15 144.75,562.21 143.06,562.21 143.06,561.61 141.99,561.61 141.99,560.69 140.32,560.69 140.32,559.78 139.08,559.78 139.08,558.77 137.95,558.77 137.95,556.93 135.89,556.93 135.89,554.98 133.73,554.98 133.73,552.98 131.49,552.98 131.49,552.07 130.10,552.07 130.10,551.18 128.55,551.18 128.55,550.39 127.15,550.39 127.15,549.69 125.91,549.69 125.91,548.58 123.95,548.58 123.95,547.81 122.59,547.81 122.59,547.31 121.57,547.31 121.57,546.60 120.13,546.60 120.13,545.59 118.05,545.59 118.05,544.74 116.32,544.74 116.32,543.94 114.70,543.94 114.70,542.92 113.19,542.92 113.19,541.05 110.97,541.05 110.97,539.51 109.10,539.51 109.10,538.18 107.46,538.18 107.46,536.51 105.38,536.51 105.38,535.11 103.62,535.11 103.62,534.16 102.41,534.16 102.41,533.21 101.31,533.21 101.31,531.92 100.02,531.92 100.02,530.66 98.76,530.66 98.76,529.27 97.37,529.27 97.37,527.77 96.11,527.77 96.11,525.38 94.09,525.38 94.09,523.41 92.45,523.41 92.45,521.74 91.06,521.74 91.06,519.67 89.35,519.67 89.35,516.79 87.44,516.79 87.44,513.52 85.42,513.52 85.42,509.13 83.20,509.13 83.20,505.93 81.75,505.93 81.75,498.91 80.35,498.91 80.35,491.17 78.77,491.17 78.77,489.18 76.84,489.18 76.84,488.00 75.70,488.00" fill="rgba(222,62,48,0.6)" />
<polygon points="75.70,487.00 76.73,487.00 76.73,487.56 78.12,487.56 78.12,488.32 79.16,488.32 79.16,488.89 81.05,488.89 81.05,490.37 82.23,490.37 82.23,491.73 83.50,491.73 83.50,493.19 84.69,493.19 84.69,494.50 86.59,494.50 86.59,495.64 87.52,495.64 87.52,496.20 89.24,496.20 89.24,497.23 90.98,497.23 90.98,498.28 92.16,498.28 92.16,498.99 93.18,498.99 93.18,499.61 94.28,499.61 94.28,500.44 95.49,500.44 95.49,501.36 97.09,501.36 97.09,502.57 98.60,502.57 98.60,503.71 100.39,503.71 100.39,505.06 101.92,505.06 101.92,506.18 103.27,506.18 103.27,506.98 104.32,506.98 104.32,507.60 106.11,507.60 106.11,508.66 107.18,508.66 107.18,509.30 108.17,509.30 108.17,509.89 110.09,509.89 110.09,511.02 111.18,511.02 111.18,511.42 112.03,511.42 112.03,511.71 113.73,511.71 113.73,512.29 115.56,512.29 115.56,513.14 116.92,513.14 116.92,513.79 118.17,513.79 118.17,514.40 119.77,514.40 119.77,515.17 120.92,515.17 120.92,515.73 122.15,515.73 122.15,516.32 123.14,516.32 123.14,516.81 124.24,516.81 124.24,517.35 126.10,517.35 126.10,518.26 127.56,518.26 127.56,518.98 128.43,518.98 128.43,519.41 130.24,519.41 130.24,520.30 131.45,520.30 131.45,520.89 133.03,520.89 133.03,521.66 134.95,521.66 134.95,522.59 136.29,522.59 136.29,523.24 137.15,523.24 137.15,523.66 138.05,523.66 138.05,524.09 139.07,524.09 139.07,524.59 140.23,524.59 140.23,525.13 141.66,525.13 141.66,525.75 143.19,525.75 143.19,526.41 144.75,526.41 144.75,527.08 145.86,527.08 145.86,527.56 147.46,527.56 147.46,528.25 149.39,528.25 149.39,528.98 151.30,528.98 151.30,529.62 153.03,529.62 153.03,530.38 154.25,530.38 154.25,531.01 155.73,531.01 155.73,531.78 156.81,531.78 156.81,532.34 158.52,532.34 158.52,533.23 159.52,533.23 159.52,533.75 160.90,533.75 160.90,534.46 162.74,534.46 162.74,535.42 164.59,535.42 164.59,536.26 166.28,536.26 166.28,537.01 167.79,537.01 167.79,537.68 169.32,537.68 169.32,538.36 170.81,538.36 170.81,539.02 171.92,539.02 171.92,539.51 172.87,539.51 172.87,539.99 174.56,539.99 174.56,540.83 175.53,540.83 175.53,541.31 176.72,541.31 176.72,541.91 177.75,541.91 177.75,542.42 179.16,542.42 179.16,543.13 180.51,543.13 180.51,543.81 181.92,543.81 181.92,544.51 183.37,544.51 183.37,545.24 184.98,545.24 184.98,546.04 186.33,546.04 186.33,546.69 187.67,546.69 187.67,547.26 189.56,547.26 189.56,548.06 191.49,548.06 191.49,548.88 193.38,548.88 193.38,549.68 194.74,549.68 194.74,550.25 196.15,550.25 196.15,550.85 197.11,550.85 197.11,551.25 198.05,551.25 198.05,551.65 199.93,551.65 199.93,552.45 201.21,552.45 201.21,552.99 203.01,552.99 203.01,553.75 204.05,553.75 204.05,554.04 205.35,554.04 205.35,554.41 206.50,554.41 206.50,554.73 208.26,554.73 208.26,555.22 209.83,555.22 209.83,555.66 210.85,555.66 210.85,555.95 212.41,555.95 212.41,556.39 214.11,556.39 214.11,556.92 215.01,556.92 215.01,557.22 215.88,557.22 215.88,557.51 217.69,557.51 217.69,558.11 218.82,558.11 218.82,558.49 220.74,558.49 220.74,559.13 221.90,559.13 221.90,559.52 222.94,559.52 222.94,559.93 224.52,559.93 224.52,560.56 225.81,560.56 225.81,560.75 227.27,560.75 227.27,560.75 228.74,560.75 228.74,560.75 229.92,560.75 229.92,560.75 231.59,560.75 231.59,560.75 233.06,560.75 233.06,560.75 234.58,560.75 234.58,560.75 236.04,560.75 236.04,560.75 236.89,560.75 236.89,560.75 237.80,560.75 237.80,560.75 238.94,560.75 238.94,560.75 240.86,560.75 240.86,560.75 241.84,560.75 241.84,560.75 243.06,560.75 243.06,560.75 244.06,560.75 244.06,560.75 246.02,560.75 246.02,560.75 247.00,560.75 247.00,560.75 247.00,570.85 247.00,570.85 245.47,570.85 245.47,570.85 244.03,570.85 244.03,570.85 242.80,570.85 242.80,570.85 241.91,570.85 241.91,570.85 240.40,570.85 240.40,570.85 239.00,570.85 239.00,570.85 238.04,570.85 238.04,570.85 236.11,570.85 236.11,570.85 234.55,570.85 234.55,570.85 232.91,570.85 232.91,570.85 231.24,570.85 231.24,570.85 230.19,570.85 230.19,570.85 228.24,570.85 228.24,570.85 226.83,570.85 226.83,570.85 225.64,570.85 225.64,570.77 224.70,570.77 224.70,570.48 223.68,570.48 223.68,569.94 221.74,569.94 221.74,569.68 220.81,569.68 220.81,569.14 219.27,569.14 219.27,568.76 218.40,568.76 218.40,568.14 216.94,568.14 216.94,567.43 215.28,567.43 215.28,566.79 213.80,566.79 213.80,566.39 212.81,566.39 212.81,566.06 211.89,566.06 211.89,565.72 210.92,565.72 210.92,565.09 209.11,565.09 209.11,564.43 207.23,564.43 207.23,564.11 206.31,564.11 206.31,563.69 205.12,563.69 205.12,563.28 203.94,563.28 203.94,562.56 202.04,562.56 202.04,562.15 201.05,562.15 201.05,561.67 199.88,561.67 199.88,560.91 198.05,560.91 198.05,560.54 197.14,560.54 197.14,559.75 195.24,559.75 195.24,559.41 194.39,559.41 194.39,558.86 193.07,558.86 193.07,558.38 191.91,558.38 191.91,557.73 190.32,557.73 190.32,557.06 188.69,557.06 188.69,556.40 187.08,556.40 187.08,556.02 186.16,556.02 186.16,555.37 184.91,555.37 184.91,554.33 182.97,554.33 182.97,553.31 181.08,553.31 181.08,552.51 179.58,552.51 179.58,552.03 178.69,552.03 178.69,551.23 177.19,551.23 177.19,550.27 175.40,550.27 175.40,549.53 174.02,549.53 174.02,548.58 172.24,548.58 172.24,547.82 170.73,547.82 170.73,547.25 169.61,547.25 169.61,546.53 168.16,546.53 168.16,545.91 166.91,545.91 166.91,545.01 165.13,545.01 165.13,544.25 163.60,544.25 163.60,543.48 162.00,543.48 162.00,542.56 160.05,542.56 160.05,542.01 158.89,542.01 158.89,541.19 157.16,541.19 157.16,540.34 155.36,540.34 155.36,539.94 154.52,539.94 154.52,539.11 152.76,539.11 152.76,538.46 150.97,538.46 150.97,538.15 149.89,538.15 149.89,537.83 148.75,537.83 148.75,537.51 147.85,537.51 147.85,536.97 146.77,536.97 146.77,536.08 144.96,536.08 144.96,535.18 143.12,535.18 143.12,534.40 141.55,534.40 141.55,533.45 139.60,533.45 139.60,532.80 138.27,532.80 138.27,531.92 136.45,531.92 136.45,531.48 135.54,531.48 135.54,530.83 134.22,530.83 134.22,530.22 132.96,530.22 132.96,529.32 131.10,529.32 131.10,528.41 129.25,528.41 129.25,527.87 128.15,527.87 128.15,527.43 127.26,527.43 127.26,526.59 125.54,526.59 125.54,525.84 124.02,525.84 124.02,525.10 122.52,525.10 122.52,524.22 120.65,524.22 120.65,523.46 119.03,523.46 119.03,522.60 117.23,522.60 117.23,522.17 116.31,522.17 116.31,521.28 114.43,521.28 114.43,520.37 113.13,520.37 113.13,519.68 112.29,519.68 112.29,518.27 110.55,518.27 110.55,517.27 109.18,517.27 109.18,516.68 108.34,516.68 108.34,515.54 106.70,515.54 106.70,514.54 105.26,514.54 105.26,513.79 104.20,513.79 104.20,512.62 102.52,512.62 102.52,511.78 101.36,511.78 101.36,510.89 100.25,510.89 100.25,510.07 99.24,510.07 99.24,508.63 97.44,508.63 97.44,507.88 96.50,507.88 96.50,507.01 95.42,507.01 95.42,506.06 94.23,506.06 94.23,504.95 92.85,504.95 92.85,503.45 90.98,503.45 90.98,502.48 89.77,502.48 89.77,501.09 88.02,501.09 88.02,499.92 86.57,499.92 86.57,498.58 84.88,498.58 84.88,497.35 83.83,497.35 83.83,494.87 81.95,494.87 81.95,493.31 80.76,493.31 80.76,491.62 79.24,491.62 79.24,489.80 77.46,489.80 77.46,488.00 75.70,488.00" fill="rgba(55,88,160,0.64)" />
<polyline points="75.70,487.50 77.62,487.50 77.62,488.76 79.31,488.76 79.31,490.23 80.54,490.23 80.54,496.41 82.42,496.41 82.42,503.15 84.37,503.15 84.37,506.75 85.62,506.75 85.62,509.14 86.75,509.14 86.75,510.74 87.76,510.74 87.76,511.98 88.41,511.98 88.41,512.18 89.23,512.18 89.23,512.96 90.98,512.96 90.98,514.53 92.39,514.53 92.39,515.81 93.12,515.81 93.12,516.46 93.79,516.46 93.79,517.43 95.44,517.43 95.44,519.15 96.41,519.15 96.41,520.35 97.13,520.35 97.13,521.36 97.78,521.36 97.78,521.82 99.61,521.82 99.61,523.29 100.46,523.29 100.46,524.06 102.23,524.06 102.23,525.40 104.00,525.40 104.00,526.92 105.69,526.92 105.69,528.95 107.15,528.95 107.15,529.93 108.16,529.93 108.16,530.65 109.32,530.65 109.32,531.84 110.20,531.84 110.20,532.36 111.74,532.36 111.74,532.63 112.76,532.63 112.76,532.63 114.51,532.63 114.51,533.04 116.05,533.04 116.05,533.62 117.56,533.62 117.56,534.59 118.67,534.59 118.67,535.33 120.28,535.33 120.28,535.94 121.05,535.94 121.05,536.53 122.93,536.53 122.93,537.50 124.12,537.50 124.12,538.22 125.50,538.22 125.50,539.22 127.01,539.22 127.01,539.86 128.32,539.86 128.32,540.54 129.13,540.54 129.13,541.16 129.82,541.16 129.82,541.40 131.01,541.40 131.01,542.27 132.74,542.27 132.74,543.95 133.96,543.95 133.96,545.10 135.45,545.10 135.45,546.74 136.60,546.74 136.60,547.92 137.29,547.92 137.29,549.16 139.06,549.16 139.06,551.26 140.25,551.26 140.25,552.72 141.99,552.72 141.99,553.28 143.55,553.28 143.55,554.27 145.15,554.27 145.15,555.07 146.03,555.07 146.03,555.21 147.15,555.21 147.15,555.99 148.75,555.99 148.75,556.75 149.67,556.75 149.67,557.40 151.47,557.40 151.47,559.17 152.99,559.17 152.99,561.35 154.66,561.35 154.66,562.87 155.48,562.87 155.48,563.43 157.16,563.43 157.16,563.62 158.52,563.62 158.52,564.10 159.77,564.10 159.77,564.63 161.14,564.63 161.14,565.37 163.06,565.37 163.06,565.94 164.36,565.94 164.36,566.86 166.29,566.86 166.29,567.89 167.40,567.89 167.40,568.56 168.06,568.56 168.06,569.00 169.33,569.00 169.33,570.09 170.42,570.09 170.42,570.28 171.96,570.28 171.96,570.80 173.36,570.80 173.36,570.84 175.21,570.84 175.21,571.06 176.09,571.06 176.09,571.29 176.88,571.29 176.88,571.52 178.58,571.52 178.58,571.66 179.69,571.66 179.69,571.66 181.22,571.66 181.22,572.06 182.20,572.06 182.20,572.06 183.65,572.06 183.65,572.52 184.48,572.52 184.48,572.52 185.62,572.52 185.62,572.67 186.45,572.67 186.45,572.90 187.89,572.90 187.89,573.31 189.69,573.31 189.69,573.93 190.63,573.93 190.63,574.25 192.16,574.25 192.16,574.97 193.40,574.97 193.40,575.55 194.13,575.55 194.13,575.77 195.29,575.77 195.29,576.02 197.06,576.02 197.06,577.06 198.87,577.06 198.87,577.95 200.03,577.95 200.03,578.46 201.39,578.46 201.39,579.35 202.50,579.35 202.50,579.43 203.54,579.43 203.54,579.43 205.37,579.43 205.37,579.79 206.69,579.79 206.69,579.79 207.48,579.79 207.48,579.79 209.26,579.79 209.26,579.79 210.50,579.79 210.50,579.79 212.44,579.79 212.44,579.79 213.23,579.79 213.23,579.79 214.23,579.79 214.23,579.79 216.08,579.79 216.08,579.79 217.68,579.79 217.68,579.79 219.40,579.79 219.40,579.79 221.12,579.79 221.12,579.80 222.89,579.80 222.89,579.80 224.18,579.80 224.18,579.80 225.85,579.80 225.85,579.80 227.76,579.80 227.76,579.80 229.09,579.80 229.09,579.80 229.75,579.80 229.75,579.80 231.27,579.80 231.27,579.80 232.22,579.80 232.22,579.80 233.95,579.80 233.95,579.80 234.82,579.80 234.82,579.80 235.56,579.80 235.56,579.80 237.44,579.80 237.44,579.80 238.57,579.80 238.57,579.80 239.30,579.80 239.30,579.80 240.07,579.80 240.07,579.80 241.91,579.80 241.91,579.80 242.72,579.80 242.72,579.80 244.08,579.80 244.08,579.80 245.82,579.80 245.82,579.80 247.49,579.80 247.49,579.80 248.70,579.80 248.70,579.80" fill="none" stroke="#c8102a" stroke-width="1.4" stroke-linejoin="round" />
<polyline points="75.70,487.50 76.27,487.50 76.27,487.82 77.77,487.82 77.77,489.04 79.19,489.04 79.19,490.24 80.06,490.24 80.06,490.88 80.64,490.88 80.64,491.46 81.17,491.46 81.17,492.19 82.56,492.19 82.56,493.89 83.47,493.89 83.47,494.86 84.30,494.86 84.30,495.90 85.62,495.90 85.62,497.01 86.76,497.01 86.76,497.72 87.77,497.72 87.77,498.38 89.23,498.38 89.23,499.42 89.76,499.42 89.76,499.73 90.39,499.73 90.39,500.28 91.69,500.28 91.69,501.19 92.39,501.19 92.39,501.78 93.44,501.78 93.44,502.56 94.41,502.56 94.41,503.13 95.44,503.13 95.44,504.04 96.26,504.04 96.26,504.58 96.81,504.58 96.81,505.16 97.38,505.16 97.38,505.54 97.92,505.54 97.92,506.00 99.25,506.00 99.25,506.94 100.23,506.94 100.23,507.92 101.57,507.92 101.57,508.82 102.81,508.82 102.81,509.63 104.07,509.63 104.07,510.47 104.92,510.47 104.92,510.91 105.94,510.91 105.94,511.60 107.37,511.60 107.37,512.56 108.31,512.56 108.31,512.92 109.07,512.92 109.07,513.32 110.38,513.32 110.38,514.32 111.38,514.32 111.38,514.94 112.41,514.94 112.41,515.29 113.18,515.29 113.18,515.92 114.22,515.92 114.22,516.55 115.39,516.55 115.39,517.09 116.34,517.09 116.34,517.32 117.52,517.32 117.52,517.92 118.18,517.92 118.18,518.24 119.06,518.24 119.06,518.67 120.36,518.67 120.36,519.43 121.63,519.43 121.63,520.14 122.27,520.14 122.27,520.33 122.87,520.33 122.87,520.63 123.53,520.63 123.53,521.01 124.83,521.01 124.83,521.56 125.77,521.56 125.77,522.08 127.13,522.08 127.13,522.53 128.14,522.53 128.14,523.25 128.86,523.25 128.86,523.63 129.74,523.63 129.74,524.06 130.43,524.06 130.43,524.24 131.16,524.24 131.16,524.58 132.32,524.58 132.32,525.28 133.54,525.28 133.54,525.68 134.28,525.68 134.28,526.01 135.64,526.01 135.64,526.77 136.94,526.77 136.94,527.39 137.53,527.39 137.53,527.75 138.43,527.75 138.43,528.04 139.49,528.04 139.49,528.52 140.17,528.52 140.17,528.98 141.33,528.98 141.33,529.50 142.67,529.50 142.67,530.01 144.02,530.01 144.02,530.28 144.96,530.28 144.96,530.85 145.74,530.85 145.74,531.13 147.01,531.13 147.01,531.42 148.03,531.42 148.03,532.09 149.17,532.09 149.17,532.59 150.51,532.59 150.51,533.51 151.57,533.51 151.57,534.15 152.48,534.15 152.48,534.60 153.75,534.60 153.75,535.29 154.76,535.29 154.76,535.79 155.73,535.79 155.73,536.14 157.09,536.14 157.09,536.97 157.88,536.97 157.88,537.28 158.45,537.28 158.45,537.72 159.35,537.72 159.35,538.14 160.44,538.14 160.44,538.68 161.54,538.68 161.54,539.17 162.05,539.17 162.05,539.41 163.21,539.41 163.21,540.16 164.41,540.16 164.41,540.64 165.34,540.64 165.34,541.22 166.60,541.22 166.60,541.91 167.55,541.91 167.55,542.20 168.64,542.20 168.64,542.95 169.51,542.95 169.51,543.26 170.76,543.26 170.76,543.73 171.94,543.73 171.94,544.55 172.97,544.55 172.97,544.97 174.20,544.97 174.20,545.70 174.74,545.70 174.74,546.00 175.66,546.00 175.66,546.40 177.08,546.40 177.08,547.32 178.25,547.32 178.25,547.71 179.02,547.71 179.02,548.08 180.04,548.08 180.04,548.80 181.32,548.80 181.32,549.53 182.65,549.53 182.65,550.21 184.15,550.21 184.15,550.79 185.59,550.79 185.59,551.57 186.94,551.57 186.94,552.40 187.63,552.40 187.63,552.47 189.10,552.47 189.10,553.05 189.76,553.05 189.76,553.41 190.57,553.41 190.57,553.61 191.69,553.61 191.69,554.06 192.89,554.06 192.89,554.44 193.49,554.44 193.49,554.86 194.73,554.86 194.73,555.26 195.31,555.26 195.31,555.50 196.32,555.50 196.32,555.74 197.01,555.74 197.01,555.95 197.65,555.95 197.65,556.21 198.76,556.21 198.76,556.50 200.21,556.50 200.21,557.06 201.66,557.06 201.66,557.42 202.98,557.42 202.98,557.99 203.61,557.99 203.61,558.16 204.65,558.16 204.65,558.54 205.99,558.54 205.99,559.05 206.85,559.05 206.85,559.28 207.51,559.28 207.51,559.57 208.27,559.57 208.27,559.73 209.63,559.73 209.63,560.22 210.74,560.22 210.74,560.95 211.80,560.95 211.80,561.40 213.28,561.40 213.28,562.12 214.49,562.12 214.49,562.77 215.94,562.77 215.94,563.28 217.41,563.28 217.41,563.83 218.33,563.83 218.33,564.11 219.01,564.11 219.01,564.63 219.56,564.63 219.56,564.79 220.72,564.79 220.72,565.51 221.55,565.51 221.55,566.14 223.00,566.14 223.00,567.01 224.33,567.01 224.33,567.25 224.83,567.25 224.83,567.63 226.03,567.63 226.03,567.69 226.75,567.69 226.75,567.69 227.82,567.69 227.82,567.69 229.07,567.69 229.07,567.69 230.30,567.69 230.30,567.73 230.96,567.73 230.96,567.73 231.75,567.73 231.75,567.73 232.27,567.73 232.27,567.73 233.13,567.73 233.13,567.73 234.58,567.73 234.58,567.73 235.63,567.73 235.63,567.73 236.63,567.73 236.63,567.73 237.23,567.73 237.23,567.73 238.67,567.73 238.67,567.73 239.65,567.73 239.65,567.73 240.40,567.73 240.40,567.73 241.33,567.73 241.33,567.73 242.25,567.73 242.25,567.73 243.15,567.73 243.15,567.73 244.25,567.73 244.25,567.73 245.60,567.73 245.60,567.73 246.65,567.73 246.65,567.73 247.20,567.73 247.20,567.73 248.50,567.73 248.50,567.73 248.70,567.73 248.70,567.73" fill="none" stroke="#1b4787" stroke-width="2.1" stroke-linejoin="round" />
<line x1="140.00" y1="549.36" x2="140.00" y2="553.16" stroke="#c8102a" stroke-width="0.85" />
<line x1="144.96" y1="552.37" x2="144.96" y2="556.17" stroke="#c8102a" stroke-width="0.85" />
<line x1="152.21" y1="557.27" x2="152.21" y2="561.07" stroke="#c8102a" stroke-width="0.85" />
<line x1="156.66" y1="561.53" x2="156.66" y2="565.33" stroke="#c8102a" stroke-width="0.85" />
<line x1="162.99" y1="563.47" x2="162.99" y2="567.27" stroke="#c8102a" stroke-width="0.85" />
<line x1="168.27" y1="567.10" x2="168.27" y2="570.90" stroke="#c8102a" stroke-width="0.85" />
<line x1="174.98" y1="568.94" x2="174.98" y2="572.74" stroke="#c8102a" stroke-width="0.85" />
<line x1="182.73" y1="570.16" x2="182.73" y2="573.96" stroke="#c8102a" stroke-width="0.85" />
<line x1="187.28" y1="571.00" x2="187.28" y2="574.80" stroke="#c8102a" stroke-width="0.85" />
<line x1="190.74" y1="572.35" x2="190.74" y2="576.15" stroke="#c8102a" stroke-width="0.85" />
<line x1="197.94" y1="575.16" x2="197.94" y2="578.96" stroke="#c8102a" stroke-width="0.85" />
<line x1="205.74" y1="577.89" x2="205.74" y2="581.69" stroke="#c8102a" stroke-width="0.85" />
<line x1="209.30" y1="577.89" x2="209.30" y2="581.69" stroke="#c8102a" stroke-width="0.85" />
<line x1="213.59" y1="577.89" x2="213.59" y2="581.69" stroke="#c8102a" stroke-width="0.85" />
<line x1="217.24" y1="577.89" x2="217.24" y2="581.69" stroke="#c8102a" stroke-width="0.85" />
<line x1="225.10" y1="577.90" x2="225.10" y2="581.70" stroke="#c8102a" stroke-width="0.85" />
<line x1="229.73" y1="577.90" x2="229.73" y2="581.70" stroke="#c8102a" stroke-width="0.85" />
<line x1="234.08" y1="577.90" x2="234.08" y2="581.70" stroke="#c8102a" stroke-width="0.85" />
<line x1="237.75" y1="577.90" x2="237.75" y2="581.70" stroke="#c8102a" stroke-width="0.85" />
<line x1="242.62" y1="577.90" x2="242.62" y2="581.70" stroke="#c8102a" stroke-width="0.85" />
<line x1="100.00" y1="505.04" x2="100.00" y2="508.84" stroke="#1b4787" stroke-width="0.7" />
<line x1="103.24" y1="507.73" x2="103.24" y2="511.53" stroke="#1b4787" stroke-width="0.7" />
<line x1="105.97" y1="509.70" x2="105.97" y2="513.50" stroke="#1b4787" stroke-width="0.7" />
<line x1="108.10" y1="510.66" x2="108.10" y2="514.46" stroke="#1b4787" stroke-width="0.7" />
<line x1="110.66" y1="512.42" x2="110.66" y2="516.22" stroke="#1b4787" stroke-width="0.7" />
<line x1="113.41" y1="514.02" x2="113.41" y2="517.82" stroke="#1b4787" stroke-width="0.7" />
<line x1="115.89" y1="515.19" x2="115.89" y2="518.99" stroke="#1b4787" stroke-width="0.7" />
<line x1="117.27" y1="515.42" x2="117.27" y2="519.22" stroke="#1b4787" stroke-width="0.7" />
<line x1="120.19" y1="516.77" x2="120.19" y2="520.57" stroke="#1b4787" stroke-width="0.7" />
<line x1="122.17" y1="518.24" x2="122.17" y2="522.04" stroke="#1b4787" stroke-width="0.7" />
<line x1="124.67" y1="519.11" x2="124.67" y2="522.91" stroke="#1b4787" stroke-width="0.7" />
<line x1="126.81" y1="520.18" x2="126.81" y2="523.98" stroke="#1b4787" stroke-width="0.7" />
<line x1="129.30" y1="521.73" x2="129.30" y2="525.53" stroke="#1b4787" stroke-width="0.7" />
<line x1="132.02" y1="522.68" x2="132.02" y2="526.48" stroke="#1b4787" stroke-width="0.7" />
<line x1="133.71" y1="523.78" x2="133.71" y2="527.58" stroke="#1b4787" stroke-width="0.7" />
<line x1="134.97" y1="524.11" x2="134.97" y2="527.91" stroke="#1b4787" stroke-width="0.7" />
<line x1="136.99" y1="525.49" x2="136.99" y2="529.29" stroke="#1b4787" stroke-width="0.7" />
<line x1="138.98" y1="526.14" x2="138.98" y2="529.94" stroke="#1b4787" stroke-width="0.7" />
<line x1="141.84" y1="527.60" x2="141.84" y2="531.40" stroke="#1b4787" stroke-width="0.7" />
<line x1="144.34" y1="528.38" x2="144.34" y2="532.18" stroke="#1b4787" stroke-width="0.7" />
<line x1="146.67" y1="529.23" x2="146.67" y2="533.03" stroke="#1b4787" stroke-width="0.7" />
<line x1="149.61" y1="530.69" x2="149.61" y2="534.49" stroke="#1b4787" stroke-width="0.7" />
<line x1="152.92" y1="532.70" x2="152.92" y2="536.50" stroke="#1b4787" stroke-width="0.7" />
<line x1="154.36" y1="533.39" x2="154.36" y2="537.19" stroke="#1b4787" stroke-width="0.7" />
<line x1="155.74" y1="534.24" x2="155.74" y2="538.04" stroke="#1b4787" stroke-width="0.7" />
<line x1="157.09" y1="535.07" x2="157.09" y2="538.87" stroke="#1b4787" stroke-width="0.7" />
<line x1="159.82" y1="536.24" x2="159.82" y2="540.04" stroke="#1b4787" stroke-width="0.7" />
<line x1="163.04" y1="537.51" x2="163.04" y2="541.31" stroke="#1b4787" stroke-width="0.7" />
<line x1="164.87" y1="538.74" x2="164.87" y2="542.54" stroke="#1b4787" stroke-width="0.7" />
<line x1="166.25" y1="539.32" x2="166.25" y2="543.12" stroke="#1b4787" stroke-width="0.7" />
<line x1="168.88" y1="541.05" x2="168.88" y2="544.85" stroke="#1b4787" stroke-width="0.7" />
<line x1="172.13" y1="542.65" x2="172.13" y2="546.45" stroke="#1b4787" stroke-width="0.7" />
<line x1="173.42" y1="543.07" x2="173.42" y2="546.87" stroke="#1b4787" stroke-width="0.7" />
<line x1="176.68" y1="544.50" x2="176.68" y2="548.30" stroke="#1b4787" stroke-width="0.7" />
<line x1="179.40" y1="546.18" x2="179.40" y2="549.98" stroke="#1b4787" stroke-width="0.7" />
<line x1="181.49" y1="547.63" x2="181.49" y2="551.43" stroke="#1b4787" stroke-width="0.7" />
<line x1="183.20" y1="548.31" x2="183.20" y2="552.11" stroke="#1b4787" stroke-width="0.7" />
<line x1="186.14" y1="549.67" x2="186.14" y2="553.47" stroke="#1b4787" stroke-width="0.7" />
<line x1="187.69" y1="550.57" x2="187.69" y2="554.37" stroke="#1b4787" stroke-width="0.7" />
<line x1="190.17" y1="551.51" x2="190.17" y2="555.31" stroke="#1b4787" stroke-width="0.7" />
<line x1="193.55" y1="552.96" x2="193.55" y2="556.76" stroke="#1b4787" stroke-width="0.7" />
<line x1="195.60" y1="553.60" x2="195.60" y2="557.40" stroke="#1b4787" stroke-width="0.7" />
<line x1="197.33" y1="554.05" x2="197.33" y2="557.85" stroke="#1b4787" stroke-width="0.7" />
<line x1="198.85" y1="554.60" x2="198.85" y2="558.40" stroke="#1b4787" stroke-width="0.7" />
<line x1="201.50" y1="555.16" x2="201.50" y2="558.96" stroke="#1b4787" stroke-width="0.7" />
<line x1="204.46" y1="556.26" x2="204.46" y2="560.06" stroke="#1b4787" stroke-width="0.7" />
<line x1="206.98" y1="557.38" x2="206.98" y2="561.18" stroke="#1b4787" stroke-width="0.7" />
<line x1="209.66" y1="558.32" x2="209.66" y2="562.12" stroke="#1b4787" stroke-width="0.7" />
<line x1="211.12" y1="559.05" x2="211.12" y2="562.85" stroke="#1b4787" stroke-width="0.7" />
<line x1="212.59" y1="559.50" x2="212.59" y2="563.30" stroke="#1b4787" stroke-width="0.7" />
<line x1="214.17" y1="560.22" x2="214.17" y2="564.02" stroke="#1b4787" stroke-width="0.7" />
<line x1="216.26" y1="561.38" x2="216.26" y2="565.18" stroke="#1b4787" stroke-width="0.7" />
<line x1="217.92" y1="561.93" x2="217.92" y2="565.73" stroke="#1b4787" stroke-width="0.7" />
<line x1="220.69" y1="562.89" x2="220.69" y2="566.69" stroke="#1b4787" stroke-width="0.7" />
<line x1="222.90" y1="564.24" x2="222.90" y2="568.04" stroke="#1b4787" stroke-width="0.7" />
<line x1="226.13" y1="565.79" x2="226.13" y2="569.59" stroke="#1b4787" stroke-width="0.7" />
<line x1="227.37" y1="565.79" x2="227.37" y2="569.59" stroke="#1b4787" stroke-width="0.7" />
<line x1="229.15" y1="565.79" x2="229.15" y2="569.59" stroke="#1b4787" stroke-width="0.7" />
<line x1="230.40" y1="565.83" x2="230.40" y2="569.63" stroke="#1b4787" stroke-width="0.7" />
<line x1="231.87" y1="565.83" x2="231.87" y2="569.63" stroke="#1b4787" stroke-width="0.7" />
<line x1="235.10" y1="565.83" x2="235.10" y2="569.63" stroke="#1b4787" stroke-width="0.7" />
<line x1="236.78" y1="565.83" x2="236.78" y2="569.63" stroke="#1b4787" stroke-width="0.7" />
<line x1="238.46" y1="565.83" x2="238.46" y2="569.63" stroke="#1b4787" stroke-width="0.7" />
<line x1="240.17" y1="565.83" x2="240.17" y2="569.63" stroke="#1b4787" stroke-width="0.7" />
<line x1="243.55" y1="565.83" x2="243.55" y2="569.63" stroke="#1b4787" stroke-width="0.7" />
<line x1="246.17" y1="565.83" x2="246.17" y2="569.63" stroke="#1b4787" stroke-width="0.7" />
<line x1="248.50" y1="565.83" x2="248.50" y2="569.63" stroke="#1b4787" stroke-width="0.7" />
<line x1="66.50" y1="481.50" x2="66.50" y2="609.00" stroke="#1a1a1a" stroke-width="1" />
<line x1="66.00" y1="608.50" x2="272.20" y2="608.50" stroke="#1a1a1a" stroke-width="1.35" />
<line x1="63.30" y1="487.00" x2="66.50" y2="487.00" stroke="#1a1a1a" stroke-width="0.9" />
<text x="61.00" y="489.70" font-size="7.8" text-anchor="end" fill="#2a2a2a" stroke="#2a2a2a" stroke-width="0.1" >1.00</text>
<line x1="63.30" y1="516.00" x2="66.50" y2="516.00" stroke="#1a1a1a" stroke-width="0.9" />
<text x="61.00" y="518.70" font-size="7.8" text-anchor="end" fill="#2a2a2a" stroke="#2a2a2a" stroke-width="0.1" >0.75</text>
<line x1="63.30" y1="545.00" x2="66.50" y2="545.00" stroke="#1a1a1a" stroke-width="0.9" />
<text x="61.00" y="547.70" font-size="7.8" text-anchor="end" fill="#2a2a2a" stroke="#2a2a2a" stroke-width="0.1" >0.50</text>
<line x1="63.30" y1="574.00" x2="66.50" y2="574.00" stroke="#1a1a1a" stroke-width="0.9" />
<text x="61.00" y="576.70" font-size="7.8" text-anchor="end" fill="#2a2a2a" stroke="#2a2a2a" stroke-width="0.1" >0.25</text>
<line x1="63.30" y1="603.00" x2="66.50" y2="603.00" stroke="#1a1a1a" stroke-width="0.9" />
<text x="61.00" y="605.70" font-size="7.8" text-anchor="end" fill="#2a2a2a" stroke="#2a2a2a" stroke-width="0.1" >0.00</text>
<line x1="75.70" y1="608.50" x2="75.70" y2="611.70" stroke="#1a1a1a" stroke-width="0.9" />
<text x="75.70" y="621.80" font-size="7.8" text-anchor="middle" fill="#2a2a2a" stroke="#2a2a2a" stroke-width="0.1" >0</text>
<line x1="122.60" y1="608.50" x2="122.60" y2="611.70" stroke="#1a1a1a" stroke-width="0.9" />
<text x="122.60" y="621.80" font-size="7.8" text-anchor="middle" fill="#2a2a2a" stroke="#2a2a2a" stroke-width="0.1" >2000</text>
<line x1="169.50" y1="608.50" x2="169.50" y2="611.70" stroke="#1a1a1a" stroke-width="0.9" />
<text x="169.50" y="621.80" font-size="7.8" text-anchor="middle" fill="#2a2a2a" stroke="#2a2a2a" stroke-width="0.1" >4000</text>
<line x1="216.40" y1="608.50" x2="216.40" y2="611.70" stroke="#1a1a1a" stroke-width="0.9" />
<text x="216.40" y="621.80" font-size="7.8" text-anchor="middle" fill="#2a2a2a" stroke="#2a2a2a" stroke-width="0.1" >6000</text>
<line x1="263.30" y1="608.50" x2="263.30" y2="611.70" stroke="#1a1a1a" stroke-width="0.9" />
<text x="263.30" y="621.80" font-size="7.8" text-anchor="middle" fill="#2a2a2a" stroke="#2a2a2a" stroke-width="0.1" >8000</text>
<text x="151.20" y="634.70" font-size="8.6" fill="#2a2a2a" stroke="#2a2a2a" stroke-width="0.35" textLength="36.60" lengthAdjust="spacingAndGlyphs">Time (days)</text>
<text transform="translate(39.00,544.50) rotate(-90)" x="-40.00" y="0" font-size="8.6" fill="#2a2a2a" stroke="#2a2a2a" stroke-width="0.25" textLength="80.00" lengthAdjust="spacingAndGlyphs">Overall survival probability</text>
<rect x="71" y="585.5" width="9" height="9" fill="rgba(55,88,160,0.64)"/>
<line x1="71.00" y1="590.00" x2="80.00" y2="590.00" stroke="#1b4787" stroke-width="1.2" />
<line x1="75.50" y1="588.50" x2="75.50" y2="591.50" stroke="#1b4787" stroke-width="0.7" />
<rect x="71" y="597.9" width="9" height="9" fill="rgba(222,62,48,0.6)"/>
<line x1="71.00" y1="602.50" x2="80.00" y2="602.50" stroke="#c8102a" stroke-width="1.2" />
<line x1="75.50" y1="601.00" x2="75.50" y2="604.00" stroke="#c8102a" stroke-width="0.7" />
<text x="83.00" y="592.40" font-size="6.5" text-anchor="start" fill="#2a2a2a" stroke="#2a2a2a" stroke-width="0.1" >LE OXPHOS low</text>
<text x="83.00" y="604.90" font-size="6.5" text-anchor="start" fill="#2a2a2a" stroke="#2a2a2a" stroke-width="0.1" >LE OXPHOS high</text>
<text x="262.50" y="603.30" font-size="7.8" text-anchor="end" fill="#2a2a2a" stroke="#2a2a2a" stroke-width="0.1"><tspan font-style="italic">P</tspan> &lt; .0001</text>
<text x="67.00" y="642.30" font-size="7.55" text-anchor="start" fill="#2a2a2a" stroke="#2a2a2a" stroke-width="0.1" >Number at risk</text>
<line x1="66.50" y1="646.00" x2="66.50" y2="672.00" stroke="#1a1a1a" stroke-width="1" />
<line x1="66.00" y1="671.50" x2="272.20" y2="671.50" stroke="#1a1a1a" stroke-width="1.35" />
<line x1="63.30" y1="653.70" x2="66.50" y2="653.70" stroke="#1a1a1a" stroke-width="0.9" />
<line x1="63.30" y1="665.00" x2="66.50" y2="665.00" stroke="#1a1a1a" stroke-width="0.9" />
<text x="61.00" y="656.40" font-size="7.45" text-anchor="end" fill="#c4203c" stroke="#c4203c" stroke-width="0.1" >LE OXPHOS high</text>
<text x="61.00" y="667.60" font-size="7.45" text-anchor="end" fill="#215d9b" stroke="#215d9b" stroke-width="0.1" >LE OXPHOS low</text>
<text x="75.70" y="656.40" font-size="7.7" text-anchor="middle" fill="#2a2a2a" stroke="#2a2a2a" stroke-width="0.1" >170</text>
<text x="75.70" y="667.60" font-size="7.7" text-anchor="middle" fill="#2a2a2a" stroke="#2a2a2a" stroke-width="0.1" >606</text>
<text x="122.60" y="656.40" font-size="7.7" text-anchor="middle" fill="#2a2a2a" stroke="#2a2a2a" stroke-width="0.1" >96</text>
<text x="122.60" y="667.60" font-size="7.7" text-anchor="middle" fill="#2a2a2a" stroke="#2a2a2a" stroke-width="0.1" >432</text>
<text x="169.50" y="656.40" font-size="7.7" text-anchor="middle" fill="#2a2a2a" stroke="#2a2a2a" stroke-width="0.1" >37</text>
<text x="169.50" y="667.60" font-size="7.7" text-anchor="middle" fill="#2a2a2a" stroke="#2a2a2a" stroke-width="0.1" >255</text>
<text x="216.40" y="656.40" font-size="7.7" text-anchor="middle" fill="#2a2a2a" stroke="#2a2a2a" stroke-width="0.1" >9</text>
<text x="216.40" y="667.60" font-size="7.7" text-anchor="middle" fill="#2a2a2a" stroke="#2a2a2a" stroke-width="0.1" >48</text>
<text x="263.30" y="656.40" font-size="7.7" text-anchor="middle" fill="#2a2a2a" stroke="#2a2a2a" stroke-width="0.1" >0</text>
<text x="263.30" y="667.60" font-size="7.7" text-anchor="middle" fill="#2a2a2a" stroke="#2a2a2a" stroke-width="0.1" >0</text>
<line x1="75.70" y1="671.50" x2="75.70" y2="674.70" stroke="#1a1a1a" stroke-width="0.9" />
<text x="75.70" y="685.00" font-size="7.8" text-anchor="middle" fill="#2a2a2a" stroke="#2a2a2a" stroke-width="0.1" >0</text>
<line x1="122.60" y1="671.50" x2="122.60" y2="674.70" stroke="#1a1a1a" stroke-width="0.9" />
<text x="122.60" y="685.00" font-size="7.8" text-anchor="middle" fill="#2a2a2a" stroke="#2a2a2a" stroke-width="0.1" >2000</text>
<line x1="169.50" y1="671.50" x2="169.50" y2="674.70" stroke="#1a1a1a" stroke-width="0.9" />
<text x="169.50" y="685.00" font-size="7.8" text-anchor="middle" fill="#2a2a2a" stroke="#2a2a2a" stroke-width="0.1" >4000</text>
<line x1="216.40" y1="671.50" x2="216.40" y2="674.70" stroke="#1a1a1a" stroke-width="0.9" />
<text x="216.40" y="685.00" font-size="7.8" text-anchor="middle" fill="#2a2a2a" stroke="#2a2a2a" stroke-width="0.1" >6000</text>
<line x1="263.30" y1="671.50" x2="263.30" y2="674.70" stroke="#1a1a1a" stroke-width="0.9" />
<text x="263.30" y="685.00" font-size="7.8" text-anchor="middle" fill="#2a2a2a" stroke="#2a2a2a" stroke-width="0.1" >8000</text>
<text x="151.20" y="697.20" font-size="8.6" fill="#2a2a2a" stroke="#2a2a2a" stroke-width="0.35" textLength="36.60" lengthAdjust="spacingAndGlyphs">Time (days)</text>
<line x1="362.05" y1="22.30" x2="362.05" y2="104.10" stroke="#e6e6e6" stroke-width="0.6" />
<line x1="362.05" y1="138.90" x2="362.05" y2="194.40" stroke="#ececec" stroke-width="0.6" />
<line x1="388.49" y1="22.30" x2="388.49" y2="104.10" stroke="#e6e6e6" stroke-width="0.6" />
<line x1="388.49" y1="138.90" x2="388.49" y2="194.40" stroke="#ececec" stroke-width="0.6" />
<line x1="414.94" y1="22.30" x2="414.94" y2="104.10" stroke="#e6e6e6" stroke-width="0.6" />
<line x1="414.94" y1="138.90" x2="414.94" y2="194.40" stroke="#ececec" stroke-width="0.6" />
<line x1="441.38" y1="22.30" x2="441.38" y2="104.10" stroke="#e6e6e6" stroke-width="0.6" />
<line x1="441.38" y1="138.90" x2="441.38" y2="194.40" stroke="#ececec" stroke-width="0.6" />
<line x1="467.83" y1="22.30" x2="467.83" y2="104.10" stroke="#e6e6e6" stroke-width="0.6" />
<line x1="467.83" y1="138.90" x2="467.83" y2="194.40" stroke="#ececec" stroke-width="0.6" />
<line x1="494.28" y1="22.30" x2="494.28" y2="104.10" stroke="#e6e6e6" stroke-width="0.6" />
<line x1="494.28" y1="138.90" x2="494.28" y2="194.40" stroke="#ececec" stroke-width="0.6" />
<line x1="335.60" y1="26.20" x2="516.20" y2="26.20" stroke="#eeeeee" stroke-width="0.5" />
<line x1="335.60" y1="34.42" x2="516.20" y2="34.42" stroke="#eeeeee" stroke-width="0.5" />
<line x1="335.60" y1="42.64" x2="516.20" y2="42.64" stroke="#eeeeee" stroke-width="0.5" />
<line x1="335.60" y1="50.86" x2="516.20" y2="50.86" stroke="#eeeeee" stroke-width="0.5" />
<line x1="335.60" y1="59.08" x2="516.20" y2="59.08" stroke="#eeeeee" stroke-width="0.5" />
<line x1="335.60" y1="67.30" x2="516.20" y2="67.30" stroke="#eeeeee" stroke-width="0.5" />
<line x1="335.60" y1="75.52" x2="516.20" y2="75.52" stroke="#eeeeee" stroke-width="0.5" />
<line x1="335.60" y1="83.74" x2="516.20" y2="83.74" stroke="#eeeeee" stroke-width="0.5" />
<line x1="335.60" y1="91.96" x2="516.20" y2="91.96" stroke="#eeeeee" stroke-width="0.5" />
<line x1="335.60" y1="100.18" x2="516.20" y2="100.18" stroke="#eeeeee" stroke-width="0.5" />
<line x1="335.60" y1="149.90" x2="516.20" y2="149.90" stroke="#efefef" stroke-width="0.5" />
<line x1="335.60" y1="162.20" x2="516.20" y2="162.20" stroke="#efefef" stroke-width="0.5" />
<line x1="335.60" y1="186.80" x2="516.20" y2="186.80" stroke="#efefef" stroke-width="0.5" />
<line x1="335.60" y1="26.20" x2="516.20" y2="26.20" stroke="#cccccc" stroke-width="0.9" />
<line x1="335.60" y1="104.10" x2="516.20" y2="104.10" stroke="#dddddd" stroke-width="0.6" />
<line x1="338.80" y1="105.30" x2="338.80" y2="131.90" stroke="#363636" stroke-width="0.75" />
<line x1="345.40" y1="105.30" x2="345.40" y2="131.90" stroke="#363636" stroke-width="0.75" />
<line x1="349.70" y1="105.30" x2="349.70" y2="131.90" stroke="#7a7a7a" stroke-width="0.75" />
<line x1="350.50" y1="105.30" x2="350.50" y2="131.90" stroke="#7a7a7a" stroke-width="0.75" />
<line x1="351.40" y1="105.30" x2="351.40" y2="131.90" stroke="#7a7a7a" stroke-width="0.75" />
<line x1="354.40" y1="105.30" x2="354.40" y2="131.90" stroke="#363636" stroke-width="0.75" />
<line x1="357.50" y1="105.30" x2="357.50" y2="131.90" stroke="#7a7a7a" stroke-width="0.75" />
<line x1="361.80" y1="105.30" x2="361.80" y2="131.90" stroke="#363636" stroke-width="0.75" />
<line x1="364.80" y1="105.30" x2="364.80" y2="131.90" stroke="#363636" stroke-width="0.75" />
<line x1="366.70" y1="105.30" x2="366.70" y2="131.90" stroke="#7a7a7a" stroke-width="0.75" />
<line x1="369.60" y1="105.30" x2="369.60" y2="131.90" stroke="#7a7a7a" stroke-width="0.75" />
<line x1="370.50" y1="105.30" x2="370.50" y2="131.90" stroke="#7a7a7a" stroke-width="0.75" />
<line x1="371.50" y1="105.30" x2="371.50" y2="131.90" stroke="#7a7a7a" stroke-width="0.75" />
<line x1="372.30" y1="105.30" x2="372.30" y2="131.90" stroke="#7a7a7a" stroke-width="0.75" />
<line x1="373.00" y1="105.30" x2="373.00" y2="131.90" stroke="#7a7a7a" stroke-width="0.75" />
<line x1="381.40" y1="105.30" x2="381.40" y2="131.90" stroke="#363636" stroke-width="0.75" />
<line x1="396.90" y1="105.30" x2="396.90" y2="131.90" stroke="#363636" stroke-width="0.75" />
<line x1="400.40" y1="105.30" x2="400.40" y2="131.90" stroke="#363636" stroke-width="0.75" />
<line x1="403.30" y1="105.30" x2="403.30" y2="131.90" stroke="#7a7a7a" stroke-width="0.75" />
<line x1="412.90" y1="105.30" x2="412.90" y2="131.90" stroke="#363636" stroke-width="0.75" />
<line x1="415.50" y1="105.30" x2="415.50" y2="131.90" stroke="#7a7a7a" stroke-width="0.75" />
<line x1="421.50" y1="105.30" x2="421.50" y2="131.90" stroke="#7a7a7a" stroke-width="0.75" />
<line x1="423.80" y1="105.30" x2="423.80" y2="131.90" stroke="#7a7a7a" stroke-width="0.75" />
<line x1="436.30" y1="105.30" x2="436.30" y2="131.90" stroke="#7a7a7a" stroke-width="0.75" />
<line x1="437.50" y1="105.30" x2="437.50" y2="131.90" stroke="#7a7a7a" stroke-width="0.75" />
<line x1="439.20" y1="105.30" x2="439.20" y2="131.90" stroke="#363636" stroke-width="0.75" />
<line x1="444.20" y1="105.30" x2="444.20" y2="131.90" stroke="#7a7a7a" stroke-width="0.75" />
<line x1="446.50" y1="105.30" x2="446.50" y2="131.90" stroke="#7a7a7a" stroke-width="0.75" />
<line x1="447.30" y1="105.30" x2="447.30" y2="131.90" stroke="#7a7a7a" stroke-width="0.75" />
<line x1="448.10" y1="105.30" x2="448.10" y2="131.90" stroke="#7a7a7a" stroke-width="0.75" />
<line x1="448.80" y1="105.30" x2="448.80" y2="131.90" stroke="#7a7a7a" stroke-width="0.75" />
<line x1="450.40" y1="105.30" x2="450.40" y2="131.90" stroke="#363636" stroke-width="0.75" />
<line x1="453.50" y1="105.30" x2="453.50" y2="131.90" stroke="#363636" stroke-width="0.75" />
<line x1="455.80" y1="105.30" x2="455.80" y2="131.90" stroke="#363636" stroke-width="0.75" />
<line x1="456.50" y1="105.30" x2="456.50" y2="131.90" stroke="#7a7a7a" stroke-width="0.75" />
<line x1="458.10" y1="105.30" x2="458.10" y2="131.90" stroke="#7a7a7a" stroke-width="0.75" />
<line x1="460.40" y1="105.30" x2="460.40" y2="131.90" stroke="#7a7a7a" stroke-width="0.75" />
<line x1="461.30" y1="105.30" x2="461.30" y2="131.90" stroke="#7a7a7a" stroke-width="0.75" />
<line x1="462.20" y1="105.30" x2="462.20" y2="131.90" stroke="#7a7a7a" stroke-width="0.75" />
<line x1="463.10" y1="105.30" x2="463.10" y2="131.90" stroke="#7a7a7a" stroke-width="0.75" />
<line x1="467.30" y1="105.30" x2="467.30" y2="131.90" stroke="#7a7a7a" stroke-width="0.75" />
<line x1="468.10" y1="105.30" x2="468.10" y2="131.90" stroke="#7a7a7a" stroke-width="0.75" />
<line x1="468.90" y1="105.30" x2="468.90" y2="131.90" stroke="#7a7a7a" stroke-width="0.75" />
<line x1="469.60" y1="105.30" x2="469.60" y2="131.90" stroke="#7a7a7a" stroke-width="0.75" />
<line x1="471.20" y1="105.30" x2="471.20" y2="131.90" stroke="#363636" stroke-width="0.75" />
<line x1="471.90" y1="105.30" x2="471.90" y2="131.90" stroke="#363636" stroke-width="0.75" />
<line x1="473.80" y1="105.30" x2="473.80" y2="131.90" stroke="#7a7a7a" stroke-width="0.75" />
<line x1="474.60" y1="105.30" x2="474.60" y2="131.90" stroke="#7a7a7a" stroke-width="0.75" />
<line x1="475.40" y1="105.30" x2="475.40" y2="131.90" stroke="#7a7a7a" stroke-width="0.75" />
<line x1="477.30" y1="105.30" x2="477.30" y2="131.90" stroke="#363636" stroke-width="0.75" />
<line x1="478.80" y1="105.30" x2="478.80" y2="131.90" stroke="#7a7a7a" stroke-width="0.75" />
<line x1="480.00" y1="105.30" x2="480.00" y2="131.90" stroke="#363636" stroke-width="0.75" />
<line x1="480.80" y1="105.30" x2="480.80" y2="131.90" stroke="#363636" stroke-width="0.75" />
<line x1="481.50" y1="105.30" x2="481.50" y2="131.90" stroke="#363636" stroke-width="0.75" />
<line x1="484.20" y1="105.30" x2="484.20" y2="131.90" stroke="#363636" stroke-width="0.75" />
<line x1="485.00" y1="105.30" x2="485.00" y2="131.90" stroke="#363636" stroke-width="0.75" />
<line x1="485.80" y1="105.30" x2="485.80" y2="131.90" stroke="#363636" stroke-width="0.75" />
<line x1="486.50" y1="105.30" x2="486.50" y2="131.90" stroke="#363636" stroke-width="0.75" />
<line x1="487.20" y1="105.30" x2="487.20" y2="131.90" stroke="#7a7a7a" stroke-width="0.75" />
<line x1="488.00" y1="105.30" x2="488.00" y2="131.90" stroke="#7a7a7a" stroke-width="0.75" />
<line x1="488.80" y1="105.30" x2="488.80" y2="131.90" stroke="#7a7a7a" stroke-width="0.75" />
<line x1="489.50" y1="105.30" x2="489.50" y2="131.90" stroke="#7a7a7a" stroke-width="0.75" />
<line x1="492.60" y1="105.30" x2="492.60" y2="131.90" stroke="#7a7a7a" stroke-width="0.75" />
<line x1="493.40" y1="105.30" x2="493.40" y2="131.90" stroke="#7a7a7a" stroke-width="0.75" />
<line x1="496.50" y1="105.30" x2="496.50" y2="131.90" stroke="#7a7a7a" stroke-width="0.75" />
<line x1="497.30" y1="105.30" x2="497.30" y2="131.90" stroke="#7a7a7a" stroke-width="0.75" />
<line x1="498.10" y1="105.30" x2="498.10" y2="131.90" stroke="#7a7a7a" stroke-width="0.75" />
<line x1="499.00" y1="105.30" x2="499.00" y2="131.90" stroke="#7a7a7a" stroke-width="0.75" />
<line x1="499.80" y1="105.30" x2="499.80" y2="131.90" stroke="#7a7a7a" stroke-width="0.75" />
<line x1="500.60" y1="105.30" x2="500.60" y2="131.90" stroke="#7a7a7a" stroke-width="0.75" />
<line x1="501.40" y1="105.30" x2="501.40" y2="131.90" stroke="#7a7a7a" stroke-width="0.75" />
<line x1="502.20" y1="105.30" x2="502.20" y2="131.90" stroke="#7a7a7a" stroke-width="0.75" />
<line x1="503.00" y1="105.30" x2="503.00" y2="131.90" stroke="#7a7a7a" stroke-width="0.75" />
<line x1="503.80" y1="105.30" x2="503.80" y2="131.90" stroke="#363636" stroke-width="0.75" />
<line x1="504.50" y1="105.30" x2="504.50" y2="131.90" stroke="#363636" stroke-width="0.75" />
<line x1="505.30" y1="105.30" x2="505.30" y2="131.90" stroke="#363636" stroke-width="0.75" />
<line x1="506.50" y1="105.30" x2="506.50" y2="131.90" stroke="#7a7a7a" stroke-width="0.75" />
<line x1="507.30" y1="105.30" x2="507.30" y2="131.90" stroke="#7a7a7a" stroke-width="0.75" />
<defs><linearGradient id="cb0" x1="0" x2="1" y1="0" y2="0"><stop offset="0.0" stop-color="#ec3a4a"/><stop offset="0.17" stop-color="#ec4152"/><stop offset="0.2" stop-color="#e7617a"/><stop offset="0.335" stop-color="#e8667e"/><stop offset="0.35" stop-color="#f2a8cf"/><stop offset="0.44" stop-color="#f3b0d4"/><stop offset="0.455" stop-color="#dccdec"/><stop offset="0.54" stop-color="#d6cbec"/><stop offset="0.555" stop-color="#c9c3e8"/><stop offset="0.675" stop-color="#c5bfe6"/><stop offset="0.69" stop-color="#7d7dcc"/><stop offset="0.762" stop-color="#7777c8"/><stop offset="0.778" stop-color="#5050b4"/><stop offset="0.92" stop-color="#4a4ab0"/><stop offset="0.935" stop-color="#33339e"/><stop offset="1.0" stop-color="#30309a"/></linearGradient></defs>
<rect x="335.60" y="131.90" width="171.90" height="6.50" fill="url(#cb0)"/>
<polygon points="335.60,174.50 335.60,162.30 336.60,162.80 337.50,165.00 340.90,167.00 347.80,168.80 360.00,170.90 377.30,172.30 403.20,173.30 413.80,174.50 413.80,174.50" fill="#bdbdbd" />
<polygon points="413.80,174.50 413.80,174.50 420.00,175.40 439.20,176.90 458.50,178.30 477.70,179.80 493.00,181.50 502.70,184.00 505.50,185.50 507.30,188.00 507.50,191.70 507.50,174.50" fill="#bdbdbd" />
<line x1="335.60" y1="174.50" x2="507.50" y2="174.50" stroke="#cfcfcf" stroke-width="0.6" />
<polyline points="335.60,26.30 336.55,26.32 337.50,26.35 338.45,26.38 339.40,26.40 340.80,29.10 341.70,28.67 342.60,28.23 343.50,27.80 344.50,29.15 345.50,30.50 346.50,29.80 347.50,29.10 348.50,30.80 349.50,32.50 350.50,31.00 351.50,29.50 352.55,30.65 353.60,31.80 354.90,30.10 356.20,32.50 357.25,31.15 358.30,29.80 359.60,30.90 360.50,31.87 361.40,32.83 362.30,33.80 363.00,30.50 364.00,30.50 365.00,30.50 365.90,30.93 366.80,31.37 367.70,31.80 368.60,32.47 369.50,33.13 370.40,33.80 371.22,34.15 372.05,34.50 372.88,34.85 373.70,35.20 374.60,35.80 375.50,36.40 376.40,37.00 377.30,37.60 378.18,38.45 379.05,39.30 379.93,40.15 380.80,41.00 381.60,40.20 382.50,41.90 383.31,42.64 384.12,43.38 384.93,44.12 385.74,44.86 386.55,45.60 387.36,46.34 388.17,47.08 388.98,47.82 389.79,48.56 390.60,49.30 391.40,49.90 392.20,50.50 393.00,51.10 393.80,51.70 394.60,52.30 395.47,52.99 396.34,53.68 397.21,54.37 398.08,55.06 398.95,55.75 399.82,56.44 400.69,57.13 401.56,57.82 402.43,58.51 403.30,59.20 404.16,59.98 405.02,60.76 405.88,61.54 406.74,62.32 407.60,63.10 408.46,63.88 409.32,64.66 410.18,65.44 411.04,66.22 411.90,67.00 412.77,67.78 413.64,68.56 414.51,69.34 415.38,70.12 416.25,70.90 417.12,71.68 417.99,72.46 418.86,73.24 419.73,74.02 420.60,74.80 421.46,75.58 422.32,76.36 423.18,77.14 424.04,77.92 424.90,78.70 425.76,79.48 426.62,80.26 427.48,81.04 428.34,81.82 429.20,82.60 430.07,83.46 430.94,84.32 431.81,85.18 432.68,86.04 433.55,86.90 434.42,87.76 435.29,88.62 436.16,89.48 437.03,90.34 437.90,91.20 438.75,91.92 439.60,92.63 440.45,93.29 441.30,94.14 442.15,95.29 443.00,95.50 443.88,95.83 444.75,96.26 445.62,96.73 446.50,97.00 447.44,96.66 448.38,97.09 449.32,97.28 450.26,97.51 451.20,97.20 452.10,96.26 453.00,96.30 453.82,95.99 454.65,95.66 455.48,96.45 456.30,96.00 457.20,96.50 458.10,95.98 459.00,96.80 459.86,97.46 460.72,97.52 461.58,97.22 462.44,97.26 463.30,97.20 464.15,97.44 465.00,98.50 465.87,98.65 466.73,100.00 467.60,100.70 469.00,98.50 469.97,97.24 470.93,96.66 471.90,96.30 472.95,95.09 474.00,94.50 475.03,93.10 476.07,92.79 477.10,92.00 478.05,90.68 479.00,89.50 479.82,88.59 480.65,86.87 481.48,85.69 482.30,84.20 483.20,82.47 484.10,80.93 485.00,79.00 485.85,77.45 486.70,75.73 487.55,75.10 488.40,73.00 489.20,73.86 490.00,73.94 490.80,73.80 491.75,74.50 492.70,74.70 493.55,72.73 494.40,71.20 495.30,72.18 496.20,73.80 497.03,70.98 497.87,68.15 498.70,66.10 499.60,60.00 500.00,58.50 501.03,55.40 502.07,52.30 503.10,49.20 504.25,44.60 505.40,40.00 506.90,30.80 507.70,25.60" fill="none" stroke="#5c9c2e" stroke-width="1.1" stroke-linejoin="round" />
<rect x="335.60" y="22.30" width="180.60" height="172.10" fill="none" stroke="#1a1a1a" stroke-width="1.1"/>
<line x1="332.30" y1="26.20" x2="335.60" y2="26.20" stroke="#1a1a1a" stroke-width="0.9" />
<text x="329.60" y="28.20" font-size="5.7" text-anchor="end" fill="#333" stroke="#333" stroke-width="0.12" >0.00</text>
<line x1="332.30" y1="34.42" x2="335.60" y2="34.42" stroke="#1a1a1a" stroke-width="0.9" />
<text x="329.60" y="36.42" font-size="5.7" text-anchor="end" fill="#333" stroke="#333" stroke-width="0.12" >−0.05</text>
<line x1="332.30" y1="42.64" x2="335.60" y2="42.64" stroke="#1a1a1a" stroke-width="0.9" />
<text x="329.60" y="44.64" font-size="5.7" text-anchor="end" fill="#333" stroke="#333" stroke-width="0.12" >−0.10</text>
<line x1="332.30" y1="50.86" x2="335.60" y2="50.86" stroke="#1a1a1a" stroke-width="0.9" />
<text x="329.60" y="52.86" font-size="5.7" text-anchor="end" fill="#333" stroke="#333" stroke-width="0.12" >−0.15</text>
<line x1="332.30" y1="59.08" x2="335.60" y2="59.08" stroke="#1a1a1a" stroke-width="0.9" />
<text x="329.60" y="61.08" font-size="5.7" text-anchor="end" fill="#333" stroke="#333" stroke-width="0.12" >−0.20</text>
<line x1="332.30" y1="67.30" x2="335.60" y2="67.30" stroke="#1a1a1a" stroke-width="0.9" />
<text x="329.60" y="69.30" font-size="5.7" text-anchor="end" fill="#333" stroke="#333" stroke-width="0.12" >−0.25</text>
<line x1="332.30" y1="75.52" x2="335.60" y2="75.52" stroke="#1a1a1a" stroke-width="0.9" />
<text x="329.60" y="77.52" font-size="5.7" text-anchor="end" fill="#333" stroke="#333" stroke-width="0.12" >−0.30</text>
<line x1="332.30" y1="83.74" x2="335.60" y2="83.74" stroke="#1a1a1a" stroke-width="0.9" />
<text x="329.60" y="85.74" font-size="5.7" text-anchor="end" fill="#333" stroke="#333" stroke-width="0.12" >−0.35</text>
<line x1="332.30" y1="91.96" x2="335.60" y2="91.96" stroke="#1a1a1a" stroke-width="0.9" />
<text x="329.60" y="93.96" font-size="5.7" text-anchor="end" fill="#333" stroke="#333" stroke-width="0.12" >−0.40</text>
<line x1="332.30" y1="100.18" x2="335.60" y2="100.18" stroke="#1a1a1a" stroke-width="0.9" />
<text x="329.60" y="102.18" font-size="5.7" text-anchor="end" fill="#333" stroke="#333" stroke-width="0.12" >−0.45</text>
<text x="329.60" y="151.90" font-size="5.7" text-anchor="end" fill="#333" stroke="#333" stroke-width="0.12" >2</text>
<text x="329.60" y="164.20" font-size="5.7" text-anchor="end" fill="#333" stroke="#333" stroke-width="0.12" >1</text>
<text x="329.60" y="176.50" font-size="5.7" text-anchor="end" fill="#333" stroke="#333" stroke-width="0.12" >0</text>
<text x="329.60" y="188.80" font-size="5.7" text-anchor="end" fill="#333" stroke="#333" stroke-width="0.12" >−1</text>
<line x1="335.60" y1="194.40" x2="335.60" y2="197.40" stroke="#1a1a1a" stroke-width="0.9" />
<text x="335.60" y="205.00" font-size="5.7" text-anchor="middle" fill="#333" stroke="#333" stroke-width="0.12" >0</text>
<line x1="362.05" y1="194.40" x2="362.05" y2="197.40" stroke="#1a1a1a" stroke-width="0.9" />
<text x="362.05" y="205.00" font-size="5.7" text-anchor="middle" fill="#333" stroke="#333" stroke-width="0.12" >2,000</text>
<line x1="388.49" y1="194.40" x2="388.49" y2="197.40" stroke="#1a1a1a" stroke-width="0.9" />
<text x="388.49" y="205.00" font-size="5.7" text-anchor="middle" fill="#333" stroke="#333" stroke-width="0.12" >4,000</text>
<line x1="414.94" y1="194.40" x2="414.94" y2="197.40" stroke="#1a1a1a" stroke-width="0.9" />
<text x="414.94" y="205.00" font-size="5.7" text-anchor="middle" fill="#333" stroke="#333" stroke-width="0.12" >6,000</text>
<line x1="441.38" y1="194.40" x2="441.38" y2="197.40" stroke="#1a1a1a" stroke-width="0.9" />
<text x="441.38" y="205.00" font-size="5.7" text-anchor="middle" fill="#333" stroke="#333" stroke-width="0.12" >8,000</text>
<line x1="467.83" y1="194.40" x2="467.83" y2="197.40" stroke="#1a1a1a" stroke-width="0.9" />
<text x="467.83" y="205.00" font-size="5.7" text-anchor="middle" fill="#333" stroke="#333" stroke-width="0.12" >10,000</text>
<line x1="494.28" y1="194.40" x2="494.28" y2="197.40" stroke="#1a1a1a" stroke-width="0.9" />
<text x="494.28" y="205.00" font-size="5.7" text-anchor="middle" fill="#333" stroke="#333" stroke-width="0.12" >12,000</text>
<text transform="translate(309.00,64.80) rotate(-90)" x="-27.75" y="0" font-size="6.3" fill="#333" stroke="#333" stroke-width="0.22" textLength="55.50" lengthAdjust="spacingAndGlyphs">Enrichment score (ES)</text>
<text transform="translate(318.20,168.90) rotate(-90)" x="-39.25" y="0" font-size="6.3" fill="#333" stroke="#333" stroke-width="0.22" textLength="78.50" lengthAdjust="spacingAndGlyphs">Ranked list metric (Signal2Noise)</text>
<text x="399.50" y="216.20" font-size="7.6" fill="#333" stroke="#333" stroke-width="0.25" textLength="56.00" lengthAdjust="spacingAndGlyphs">Rank in ordered dataset</text>
<text x="427.30" y="16.60" font-size="9.6" text-anchor="middle" fill="#222" stroke="#222" stroke-width="0.1" >Enrichment plot: LE_GLYCOLYSIS</text>
<text x="338.00" y="75.60" font-size="7.7" fill="#2a2a2a" stroke="#2a2a2a" stroke-width="0.05">ES = −0.45</text>
<text x="338.00" y="84.70" font-size="7.7" fill="#2a2a2a" stroke="#2a2a2a" stroke-width="0.05">NES = −1.35</text>
<text x="338.00" y="93.80" font-size="7.7" fill="#2a2a2a" stroke="#2a2a2a" stroke-width="0.05">Nominal <tspan font-style="italic">P</tspan> = .17</text>
<text x="338.00" y="102.90" font-size="7.7" fill="#2a2a2a" stroke="#2a2a2a" stroke-width="0.05">FDR = 0.14</text>
<text x="336.80" y="147.40" font-size="9.1" text-anchor="start" fill="#d9414f" stroke="#d9414f" stroke-width="0.1" >'Healthy PCs' (positively correlated)</text>
<text x="493.20" y="190.40" font-size="8.6" text-anchor="end" fill="#3b4aa6" stroke="#3b4aa6" stroke-width="0.1" >'MMPCs' (negatively correlated)</text>
<text x="397.30" y="167.40" font-size="3.8" text-anchor="start" fill="#333" stroke="#333" stroke-width="0.1" >Zero cross at 5917</text>
<line x1="353.50" y1="223.80" x2="361.00" y2="223.80" stroke="#5c9c2e" stroke-width="0.9" />
<text x="364.00" y="225.70" font-size="5.25" text-anchor="start" fill="#444" stroke="#444" stroke-width="0.1" >Enrichment profile</text>
<line x1="413.70" y1="223.80" x2="417.60" y2="223.80" stroke="#222" stroke-width="0.9" />
<text x="419.50" y="225.70" font-size="5.25" text-anchor="start" fill="#444" stroke="#444" stroke-width="0.1" >Hits</text>
<line x1="438.70" y1="223.80" x2="444.50" y2="223.80" stroke="#c4c4c4" stroke-width="0.9" />
<text x="448.00" y="225.70" font-size="5.25" text-anchor="start" fill="#444" stroke="#444" stroke-width="0.1" >Ranking metric scores</text>
<line x1="362.48" y1="257.30" x2="362.48" y2="339.10" stroke="#e6e6e6" stroke-width="0.6" />
<line x1="362.48" y1="373.90" x2="362.48" y2="429.40" stroke="#ececec" stroke-width="0.6" />
<line x1="389.47" y1="257.30" x2="389.47" y2="339.10" stroke="#e6e6e6" stroke-width="0.6" />
<line x1="389.47" y1="373.90" x2="389.47" y2="429.40" stroke="#ececec" stroke-width="0.6" />
<line x1="416.45" y1="257.30" x2="416.45" y2="339.10" stroke="#e6e6e6" stroke-width="0.6" />
<line x1="416.45" y1="373.90" x2="416.45" y2="429.40" stroke="#ececec" stroke-width="0.6" />
<line x1="443.44" y1="257.30" x2="443.44" y2="339.10" stroke="#e6e6e6" stroke-width="0.6" />
<line x1="443.44" y1="373.90" x2="443.44" y2="429.40" stroke="#ececec" stroke-width="0.6" />
<line x1="470.42" y1="257.30" x2="470.42" y2="339.10" stroke="#e6e6e6" stroke-width="0.6" />
<line x1="470.42" y1="373.90" x2="470.42" y2="429.40" stroke="#ececec" stroke-width="0.6" />
<line x1="497.41" y1="257.30" x2="497.41" y2="339.10" stroke="#e6e6e6" stroke-width="0.6" />
<line x1="497.41" y1="373.90" x2="497.41" y2="429.40" stroke="#ececec" stroke-width="0.6" />
<line x1="335.50" y1="266.30" x2="519.10" y2="266.30" stroke="#eeeeee" stroke-width="0.5" />
<line x1="335.50" y1="278.20" x2="519.10" y2="278.20" stroke="#eeeeee" stroke-width="0.5" />
<line x1="335.50" y1="290.10" x2="519.10" y2="290.10" stroke="#eeeeee" stroke-width="0.5" />
<line x1="335.50" y1="302.00" x2="519.10" y2="302.00" stroke="#eeeeee" stroke-width="0.5" />
<line x1="335.50" y1="313.90" x2="519.10" y2="313.90" stroke="#eeeeee" stroke-width="0.5" />
<line x1="335.50" y1="325.80" x2="519.10" y2="325.80" stroke="#eeeeee" stroke-width="0.5" />
<line x1="335.50" y1="337.70" x2="519.10" y2="337.70" stroke="#eeeeee" stroke-width="0.5" />
<line x1="335.50" y1="384.90" x2="519.10" y2="384.90" stroke="#efefef" stroke-width="0.5" />
<line x1="335.50" y1="397.20" x2="519.10" y2="397.20" stroke="#efefef" stroke-width="0.5" />
<line x1="335.50" y1="421.80" x2="519.10" y2="421.80" stroke="#efefef" stroke-width="0.5" />
<line x1="335.50" y1="266.30" x2="519.10" y2="266.30" stroke="#cccccc" stroke-width="0.9" />
<line x1="335.50" y1="339.10" x2="519.10" y2="339.10" stroke="#dddddd" stroke-width="0.6" />
<line x1="377.90" y1="340.30" x2="377.90" y2="366.90" stroke="#363636" stroke-width="0.75" />
<line x1="380.30" y1="340.30" x2="380.30" y2="366.90" stroke="#363636" stroke-width="0.75" />
<line x1="394.40" y1="340.30" x2="394.40" y2="366.90" stroke="#363636" stroke-width="0.75" />
<line x1="408.10" y1="340.30" x2="408.10" y2="366.90" stroke="#363636" stroke-width="0.75" />
<line x1="415.40" y1="340.30" x2="415.40" y2="366.90" stroke="#363636" stroke-width="0.75" />
<line x1="425.40" y1="340.30" x2="425.40" y2="366.90" stroke="#7a7a7a" stroke-width="0.75" />
<line x1="449.70" y1="340.30" x2="449.70" y2="366.90" stroke="#363636" stroke-width="0.75" />
<line x1="458.80" y1="340.30" x2="458.80" y2="366.90" stroke="#363636" stroke-width="0.75" />
<line x1="461.50" y1="340.30" x2="461.50" y2="366.90" stroke="#363636" stroke-width="0.75" />
<line x1="467.00" y1="340.30" x2="467.00" y2="366.90" stroke="#363636" stroke-width="0.75" />
<line x1="474.30" y1="340.30" x2="474.30" y2="366.90" stroke="#363636" stroke-width="0.75" />
<line x1="479.80" y1="340.30" x2="479.80" y2="366.90" stroke="#7a7a7a" stroke-width="0.75" />
<line x1="480.60" y1="340.30" x2="480.60" y2="366.90" stroke="#7a7a7a" stroke-width="0.75" />
<line x1="481.50" y1="340.30" x2="481.50" y2="366.90" stroke="#7a7a7a" stroke-width="0.75" />
<line x1="482.50" y1="340.30" x2="482.50" y2="366.90" stroke="#7a7a7a" stroke-width="0.75" />
<line x1="483.50" y1="340.30" x2="483.50" y2="366.90" stroke="#7a7a7a" stroke-width="0.75" />
<line x1="489.90" y1="340.30" x2="489.90" y2="366.90" stroke="#363636" stroke-width="0.75" />
<line x1="491.10" y1="340.30" x2="491.10" y2="366.90" stroke="#7a7a7a" stroke-width="0.75" />
<line x1="500.80" y1="340.30" x2="500.80" y2="366.90" stroke="#7a7a7a" stroke-width="0.75" />
<line x1="501.60" y1="340.30" x2="501.60" y2="366.90" stroke="#7a7a7a" stroke-width="0.75" />
<line x1="502.40" y1="340.30" x2="502.40" y2="366.90" stroke="#363636" stroke-width="0.75" />
<line x1="503.20" y1="340.30" x2="503.20" y2="366.90" stroke="#7a7a7a" stroke-width="0.75" />
<line x1="503.60" y1="340.30" x2="503.60" y2="366.90" stroke="#7a7a7a" stroke-width="0.75" />
<defs><linearGradient id="cb235" x1="0" x2="1" y1="0" y2="0"><stop offset="0.0" stop-color="#ec3a4a"/><stop offset="0.17" stop-color="#ec4152"/><stop offset="0.2" stop-color="#e7617a"/><stop offset="0.335" stop-color="#e8667e"/><stop offset="0.35" stop-color="#f2a8cf"/><stop offset="0.44" stop-color="#f3b0d4"/><stop offset="0.455" stop-color="#dccdec"/><stop offset="0.54" stop-color="#d6cbec"/><stop offset="0.555" stop-color="#c9c3e8"/><stop offset="0.675" stop-color="#c5bfe6"/><stop offset="0.69" stop-color="#7d7dcc"/><stop offset="0.762" stop-color="#7777c8"/><stop offset="0.778" stop-color="#5050b4"/><stop offset="0.92" stop-color="#4a4ab0"/><stop offset="0.935" stop-color="#33339e"/><stop offset="1.0" stop-color="#30309a"/></linearGradient></defs>
<rect x="335.50" y="366.90" width="175.40" height="6.50" fill="url(#cb235)"/>
<polygon points="335.50,409.50 335.50,397.30 336.52,397.80 337.44,400.00 340.90,402.00 347.94,403.80 360.38,405.90 378.02,407.30 404.44,408.30 415.25,409.50 415.25,409.50" fill="#bdbdbd" />
<polygon points="416.00,409.50 416.00,409.50 420.00,410.50 439.20,412.00 458.50,413.90 477.70,415.90 493.00,417.80 502.70,419.10 508.50,421.10 510.40,425.90 510.90,427.50 510.90,409.50" fill="#bdbdbd" />
<line x1="335.50" y1="409.50" x2="510.90" y2="409.50" stroke="#cfcfcf" stroke-width="0.6" />
<polyline points="335.40,265.80 377.10,294.60 378.00,291.50 379.50,293.00 380.50,290.80 394.00,299.20 394.60,298.20 407.50,307.50 408.20,306.20 415.00,311.20 415.60,309.80 425.00,317.60 425.60,316.50 448.80,334.20 450.40,329.80 459.40,335.60 460.40,332.70 462.30,334.20 463.30,330.80 466.20,333.70 467.10,329.80 473.80,334.60 475.80,326.00 478.70,328.80 481.20,318.30 483.50,322.10 484.40,313.50 489.20,317.30 492.10,304.80 498.80,308.70 499.80,299.00 501.70,301.00 502.30,291.30 502.70,271.20 503.70,261.50 510.40,265.80" fill="none" stroke="#5c9c2e" stroke-width="1.1" stroke-linejoin="round" />
<rect x="335.50" y="257.30" width="183.60" height="172.10" fill="none" stroke="#1a1a1a" stroke-width="1.1"/>
<line x1="332.20" y1="266.30" x2="335.50" y2="266.30" stroke="#1a1a1a" stroke-width="0.9" />
<text x="329.50" y="268.30" font-size="5.7" text-anchor="end" fill="#333" stroke="#333" stroke-width="0.12" >0.0</text>
<line x1="332.20" y1="278.20" x2="335.50" y2="278.20" stroke="#1a1a1a" stroke-width="0.9" />
<text x="329.50" y="280.20" font-size="5.7" text-anchor="end" fill="#333" stroke="#333" stroke-width="0.12" >−0.1</text>
<line x1="332.20" y1="290.10" x2="335.50" y2="290.10" stroke="#1a1a1a" stroke-width="0.9" />
<text x="329.50" y="292.10" font-size="5.7" text-anchor="end" fill="#333" stroke="#333" stroke-width="0.12" >−0.2</text>
<line x1="332.20" y1="302.00" x2="335.50" y2="302.00" stroke="#1a1a1a" stroke-width="0.9" />
<text x="329.50" y="304.00" font-size="5.7" text-anchor="end" fill="#333" stroke="#333" stroke-width="0.12" >−0.3</text>
<line x1="332.20" y1="313.90" x2="335.50" y2="313.90" stroke="#1a1a1a" stroke-width="0.9" />
<text x="329.50" y="315.90" font-size="5.7" text-anchor="end" fill="#333" stroke="#333" stroke-width="0.12" >−0.4</text>
<line x1="332.20" y1="325.80" x2="335.50" y2="325.80" stroke="#1a1a1a" stroke-width="0.9" />
<text x="329.50" y="327.80" font-size="5.7" text-anchor="end" fill="#333" stroke="#333" stroke-width="0.12" >−0.5</text>
<line x1="332.20" y1="337.70" x2="335.50" y2="337.70" stroke="#1a1a1a" stroke-width="0.9" />
<text x="329.50" y="339.70" font-size="5.7" text-anchor="end" fill="#333" stroke="#333" stroke-width="0.12" >−0.6</text>
<text x="329.50" y="386.90" font-size="5.7" text-anchor="end" fill="#333" stroke="#333" stroke-width="0.12" >2</text>
<text x="329.50" y="399.20" font-size="5.7" text-anchor="end" fill="#333" stroke="#333" stroke-width="0.12" >1</text>
<text x="329.50" y="411.50" font-size="5.7" text-anchor="end" fill="#333" stroke="#333" stroke-width="0.12" >0</text>
<text x="329.50" y="423.80" font-size="5.7" text-anchor="end" fill="#333" stroke="#333" stroke-width="0.12" >−1</text>
<line x1="335.50" y1="429.40" x2="335.50" y2="432.40" stroke="#1a1a1a" stroke-width="0.9" />
<text x="335.50" y="440.00" font-size="5.7" text-anchor="middle" fill="#333" stroke="#333" stroke-width="0.12" >0</text>
<line x1="362.48" y1="429.40" x2="362.48" y2="432.40" stroke="#1a1a1a" stroke-width="0.9" />
<text x="362.48" y="440.00" font-size="5.7" text-anchor="middle" fill="#333" stroke="#333" stroke-width="0.12" >2,000</text>
<line x1="389.47" y1="429.40" x2="389.47" y2="432.40" stroke="#1a1a1a" stroke-width="0.9" />
<text x="389.47" y="440.00" font-size="5.7" text-anchor="middle" fill="#333" stroke="#333" stroke-width="0.12" >4,000</text>
<line x1="416.45" y1="429.40" x2="416.45" y2="432.40" stroke="#1a1a1a" stroke-width="0.9" />
<text x="416.45" y="440.00" font-size="5.7" text-anchor="middle" fill="#333" stroke="#333" stroke-width="0.12" >6,000</text>
<line x1="443.44" y1="429.40" x2="443.44" y2="432.40" stroke="#1a1a1a" stroke-width="0.9" />
<text x="443.44" y="440.00" font-size="5.7" text-anchor="middle" fill="#333" stroke="#333" stroke-width="0.12" >8,000</text>
<line x1="470.42" y1="429.40" x2="470.42" y2="432.40" stroke="#1a1a1a" stroke-width="0.9" />
<text x="470.42" y="440.00" font-size="5.7" text-anchor="middle" fill="#333" stroke="#333" stroke-width="0.12" >10,000</text>
<line x1="497.41" y1="429.40" x2="497.41" y2="432.40" stroke="#1a1a1a" stroke-width="0.9" />
<text x="497.41" y="440.00" font-size="5.7" text-anchor="middle" fill="#333" stroke="#333" stroke-width="0.12" >12,000</text>
<text transform="translate(311.40,303.90) rotate(-90)" x="-27.75" y="0" font-size="6.3" fill="#333" stroke="#333" stroke-width="0.22" textLength="55.50" lengthAdjust="spacingAndGlyphs">Enrichment score (ES)</text>
<text transform="translate(318.20,403.90) rotate(-90)" x="-39.25" y="0" font-size="6.3" fill="#333" stroke="#333" stroke-width="0.22" textLength="78.50" lengthAdjust="spacingAndGlyphs">Ranked list metric (Signal2Noise)</text>
<text x="399.50" y="451.20" font-size="7.6" fill="#333" stroke="#333" stroke-width="0.25" textLength="56.00" lengthAdjust="spacingAndGlyphs">Rank in ordered dataset</text>
<text x="427.30" y="251.60" font-size="9.6" text-anchor="middle" fill="#222" stroke="#222" stroke-width="0.1" >Enrichment plot: LE_TCA-CYCLE</text>
<text x="337.90" y="311.20" font-size="6.6" fill="#2a2a2a" stroke="#2a2a2a" stroke-width="0.05">ES = −0.58</text>
<text x="337.90" y="320.10" font-size="6.6" fill="#2a2a2a" stroke="#2a2a2a" stroke-width="0.05">NES = −1.57</text>
<text x="337.90" y="329.60" font-size="6.6" fill="#2a2a2a" stroke="#2a2a2a" stroke-width="0.05">Nominal <tspan font-style="italic">P</tspan> = .05</text>
<text x="337.90" y="338.50" font-size="6.6" fill="#2a2a2a" stroke="#2a2a2a" stroke-width="0.05">FDR = 0.07</text>
<text x="336.70" y="382.40" font-size="9.1" text-anchor="start" fill="#d9414f" stroke="#d9414f" stroke-width="0.1" >'Healthy PCs' (positively correlated)</text>
<text x="496.10" y="425.40" font-size="8.6" text-anchor="end" fill="#3b4aa6" stroke="#3b4aa6" stroke-width="0.1" >'MMPCs' (negatively correlated)</text>
<text x="397.30" y="402.40" font-size="3.8" text-anchor="start" fill="#333" stroke="#333" stroke-width="0.1" >Zero cross at 5917</text>
<line x1="353.50" y1="462.60" x2="361.00" y2="462.60" stroke="#5c9c2e" stroke-width="0.9" />
<text x="364.00" y="464.50" font-size="5.25" text-anchor="start" fill="#444" stroke="#444" stroke-width="0.1" >Enrichment profile</text>
<line x1="413.70" y1="462.60" x2="417.60" y2="462.60" stroke="#222" stroke-width="0.9" />
<text x="419.50" y="464.50" font-size="5.25" text-anchor="start" fill="#444" stroke="#444" stroke-width="0.1" >Hits</text>
<line x1="438.70" y1="462.60" x2="444.50" y2="462.60" stroke="#c4c4c4" stroke-width="0.9" />
<text x="448.00" y="464.50" font-size="5.25" text-anchor="start" fill="#444" stroke="#444" stroke-width="0.1" >Ranking metric scores</text>
<line x1="362.48" y1="495.80" x2="362.48" y2="577.60" stroke="#e6e6e6" stroke-width="0.6" />
<line x1="362.48" y1="612.40" x2="362.48" y2="667.90" stroke="#ececec" stroke-width="0.6" />
<line x1="389.47" y1="495.80" x2="389.47" y2="577.60" stroke="#e6e6e6" stroke-width="0.6" />
<line x1="389.47" y1="612.40" x2="389.47" y2="667.90" stroke="#ececec" stroke-width="0.6" />
<line x1="416.45" y1="495.80" x2="416.45" y2="577.60" stroke="#e6e6e6" stroke-width="0.6" />
<line x1="416.45" y1="612.40" x2="416.45" y2="667.90" stroke="#ececec" stroke-width="0.6" />
<line x1="443.44" y1="495.80" x2="443.44" y2="577.60" stroke="#e6e6e6" stroke-width="0.6" />
<line x1="443.44" y1="612.40" x2="443.44" y2="667.90" stroke="#ececec" stroke-width="0.6" />
<line x1="470.42" y1="495.80" x2="470.42" y2="577.60" stroke="#e6e6e6" stroke-width="0.6" />
<line x1="470.42" y1="612.40" x2="470.42" y2="667.90" stroke="#ececec" stroke-width="0.6" />
<line x1="497.41" y1="495.80" x2="497.41" y2="577.60" stroke="#e6e6e6" stroke-width="0.6" />
<line x1="497.41" y1="612.40" x2="497.41" y2="667.90" stroke="#ececec" stroke-width="0.6" />
<line x1="335.50" y1="499.50" x2="519.10" y2="499.50" stroke="#eeeeee" stroke-width="0.5" />
<line x1="335.50" y1="510.55" x2="519.10" y2="510.55" stroke="#eeeeee" stroke-width="0.5" />
<line x1="335.50" y1="521.60" x2="519.10" y2="521.60" stroke="#eeeeee" stroke-width="0.5" />
<line x1="335.50" y1="532.65" x2="519.10" y2="532.65" stroke="#eeeeee" stroke-width="0.5" />
<line x1="335.50" y1="543.70" x2="519.10" y2="543.70" stroke="#eeeeee" stroke-width="0.5" />
<line x1="335.50" y1="554.75" x2="519.10" y2="554.75" stroke="#eeeeee" stroke-width="0.5" />
<line x1="335.50" y1="565.80" x2="519.10" y2="565.80" stroke="#eeeeee" stroke-width="0.5" />
<line x1="335.50" y1="576.85" x2="519.10" y2="576.85" stroke="#eeeeee" stroke-width="0.5" />
<line x1="335.50" y1="623.40" x2="519.10" y2="623.40" stroke="#efefef" stroke-width="0.5" />
<line x1="335.50" y1="635.70" x2="519.10" y2="635.70" stroke="#efefef" stroke-width="0.5" />
<line x1="335.50" y1="660.30" x2="519.10" y2="660.30" stroke="#efefef" stroke-width="0.5" />
<line x1="335.50" y1="499.50" x2="519.10" y2="499.50" stroke="#cccccc" stroke-width="0.9" />
<line x1="335.50" y1="577.60" x2="519.10" y2="577.60" stroke="#dddddd" stroke-width="0.6" />
<line x1="338.70" y1="578.80" x2="338.70" y2="605.40" stroke="#363636" stroke-width="0.75" />
<line x1="350.50" y1="578.80" x2="350.50" y2="605.40" stroke="#7a7a7a" stroke-width="0.75" />
<line x1="351.40" y1="578.80" x2="351.40" y2="605.40" stroke="#7a7a7a" stroke-width="0.75" />
<line x1="352.40" y1="578.80" x2="352.40" y2="605.40" stroke="#7a7a7a" stroke-width="0.75" />
<line x1="353.30" y1="578.80" x2="353.30" y2="605.40" stroke="#7a7a7a" stroke-width="0.75" />
<line x1="356.00" y1="578.80" x2="356.00" y2="605.40" stroke="#363636" stroke-width="0.75" />
<line x1="356.70" y1="578.80" x2="356.70" y2="605.40" stroke="#363636" stroke-width="0.75" />
<line x1="357.30" y1="578.80" x2="357.30" y2="605.40" stroke="#363636" stroke-width="0.75" />
<line x1="359.70" y1="578.80" x2="359.70" y2="605.40" stroke="#7a7a7a" stroke-width="0.75" />
<line x1="362.40" y1="578.80" x2="362.40" y2="605.40" stroke="#7a7a7a" stroke-width="0.75" />
<line x1="377.40" y1="578.80" x2="377.40" y2="605.40" stroke="#363636" stroke-width="0.75" />
<line x1="380.30" y1="578.80" x2="380.30" y2="605.40" stroke="#7a7a7a" stroke-width="0.75" />
<line x1="383.40" y1="578.80" x2="383.40" y2="605.40" stroke="#363636" stroke-width="0.75" />
<line x1="388.90" y1="578.80" x2="388.90" y2="605.40" stroke="#7a7a7a" stroke-width="0.75" />
<line x1="391.60" y1="578.80" x2="391.60" y2="605.40" stroke="#7a7a7a" stroke-width="0.75" />
<line x1="394.40" y1="578.80" x2="394.40" y2="605.40" stroke="#363636" stroke-width="0.75" />
<line x1="399.90" y1="578.80" x2="399.90" y2="605.40" stroke="#363636" stroke-width="0.75" />
<line x1="403.50" y1="578.80" x2="403.50" y2="605.40" stroke="#7a7a7a" stroke-width="0.75" />
<line x1="409.00" y1="578.80" x2="409.00" y2="605.40" stroke="#7a7a7a" stroke-width="0.75" />
<line x1="409.90" y1="578.80" x2="409.90" y2="605.40" stroke="#7a7a7a" stroke-width="0.75" />
<line x1="410.80" y1="578.80" x2="410.80" y2="605.40" stroke="#7a7a7a" stroke-width="0.75" />
<line x1="415.40" y1="578.80" x2="415.40" y2="605.40" stroke="#7a7a7a" stroke-width="0.75" />
<line x1="418.10" y1="578.80" x2="418.10" y2="605.40" stroke="#7a7a7a" stroke-width="0.75" />
<line x1="424.90" y1="578.80" x2="424.90" y2="605.40" stroke="#363636" stroke-width="0.75" />
<line x1="425.90" y1="578.80" x2="425.90" y2="605.40" stroke="#363636" stroke-width="0.75" />
<line x1="426.80" y1="578.80" x2="426.80" y2="605.40" stroke="#363636" stroke-width="0.75" />
<line x1="427.70" y1="578.80" x2="427.70" y2="605.40" stroke="#363636" stroke-width="0.75" />
<line x1="429.60" y1="578.80" x2="429.60" y2="605.40" stroke="#7a7a7a" stroke-width="0.75" />
<line x1="430.50" y1="578.80" x2="430.50" y2="605.40" stroke="#7a7a7a" stroke-width="0.75" />
<line x1="431.40" y1="578.80" x2="431.40" y2="605.40" stroke="#7a7a7a" stroke-width="0.75" />
<line x1="432.30" y1="578.80" x2="432.30" y2="605.40" stroke="#7a7a7a" stroke-width="0.75" />
<line x1="433.20" y1="578.80" x2="433.20" y2="605.40" stroke="#7a7a7a" stroke-width="0.75" />
<line x1="434.10" y1="578.80" x2="434.10" y2="605.40" stroke="#7a7a7a" stroke-width="0.75" />
<line x1="436.00" y1="578.80" x2="436.00" y2="605.40" stroke="#363636" stroke-width="0.75" />
<line x1="438.70" y1="578.80" x2="438.70" y2="605.40" stroke="#363636" stroke-width="0.75" />
<line x1="442.40" y1="578.80" x2="442.40" y2="605.40" stroke="#7a7a7a" stroke-width="0.75" />
<line x1="443.30" y1="578.80" x2="443.30" y2="605.40" stroke="#7a7a7a" stroke-width="0.75" />
<line x1="444.20" y1="578.80" x2="444.20" y2="605.40" stroke="#7a7a7a" stroke-width="0.75" />
<line x1="446.00" y1="578.80" x2="446.00" y2="605.40" stroke="#7a7a7a" stroke-width="0.75" />
<line x1="447.00" y1="578.80" x2="447.00" y2="605.40" stroke="#7a7a7a" stroke-width="0.75" />
<line x1="448.00" y1="578.80" x2="448.00" y2="605.40" stroke="#7a7a7a" stroke-width="0.75" />
<line x1="449.00" y1="578.80" x2="449.00" y2="605.40" stroke="#7a7a7a" stroke-width="0.75" />
<line x1="450.60" y1="578.80" x2="450.60" y2="605.40" stroke="#7a7a7a" stroke-width="0.75" />
<line x1="453.30" y1="578.80" x2="453.30" y2="605.40" stroke="#363636" stroke-width="0.75" />
<line x1="454.20" y1="578.80" x2="454.20" y2="605.40" stroke="#363636" stroke-width="0.75" />
<line x1="455.10" y1="578.80" x2="455.10" y2="605.40" stroke="#363636" stroke-width="0.75" />
<line x1="456.00" y1="578.80" x2="456.00" y2="605.40" stroke="#363636" stroke-width="0.75" />
<line x1="457.90" y1="578.80" x2="457.90" y2="605.40" stroke="#363636" stroke-width="0.75" />
<line x1="460.60" y1="578.80" x2="460.60" y2="605.40" stroke="#7a7a7a" stroke-width="0.75" />
<line x1="461.50" y1="578.80" x2="461.50" y2="605.40" stroke="#7a7a7a" stroke-width="0.75" />
<line x1="462.40" y1="578.80" x2="462.40" y2="605.40" stroke="#7a7a7a" stroke-width="0.75" />
<line x1="464.30" y1="578.80" x2="464.30" y2="605.40" stroke="#363636" stroke-width="0.75" />
<line x1="467.00" y1="578.80" x2="467.00" y2="605.40" stroke="#363636" stroke-width="0.75" />
<line x1="469.80" y1="578.80" x2="469.80" y2="605.40" stroke="#363636" stroke-width="0.75" />
<line x1="472.50" y1="578.80" x2="472.50" y2="605.40" stroke="#7a7a7a" stroke-width="0.75" />
<line x1="475.20" y1="578.80" x2="475.20" y2="605.40" stroke="#363636" stroke-width="0.75" />
<line x1="478.00" y1="578.80" x2="478.00" y2="605.40" stroke="#7a7a7a" stroke-width="0.75" />
<line x1="478.90" y1="578.80" x2="478.90" y2="605.40" stroke="#7a7a7a" stroke-width="0.75" />
<line x1="479.80" y1="578.80" x2="479.80" y2="605.40" stroke="#7a7a7a" stroke-width="0.75" />
<line x1="480.70" y1="578.80" x2="480.70" y2="605.40" stroke="#7a7a7a" stroke-width="0.75" />
<line x1="481.60" y1="578.80" x2="481.60" y2="605.40" stroke="#7a7a7a" stroke-width="0.75" />
<line x1="483.50" y1="578.80" x2="483.50" y2="605.40" stroke="#363636" stroke-width="0.75" />
<line x1="486.20" y1="578.80" x2="486.20" y2="605.40" stroke="#363636" stroke-width="0.75" />
<line x1="488.90" y1="578.80" x2="488.90" y2="605.40" stroke="#363636" stroke-width="0.75" />
<line x1="489.80" y1="578.80" x2="489.80" y2="605.40" stroke="#363636" stroke-width="0.75" />
<line x1="490.80" y1="578.80" x2="490.80" y2="605.40" stroke="#363636" stroke-width="0.75" />
<line x1="493.50" y1="578.80" x2="493.50" y2="605.40" stroke="#7a7a7a" stroke-width="0.75" />
<line x1="495.30" y1="578.80" x2="495.30" y2="605.40" stroke="#7a7a7a" stroke-width="0.75" />
<line x1="496.20" y1="578.80" x2="496.20" y2="605.40" stroke="#7a7a7a" stroke-width="0.75" />
<line x1="497.20" y1="578.80" x2="497.20" y2="605.40" stroke="#7a7a7a" stroke-width="0.75" />
<line x1="499.00" y1="578.80" x2="499.00" y2="605.40" stroke="#7a7a7a" stroke-width="0.75" />
<line x1="499.40" y1="578.80" x2="499.40" y2="605.40" stroke="#363636" stroke-width="0.75" />
<line x1="499.80" y1="578.80" x2="499.80" y2="605.40" stroke="#363636" stroke-width="0.75" />
<line x1="500.20" y1="578.80" x2="500.20" y2="605.40" stroke="#7a7a7a" stroke-width="0.75" />
<line x1="500.60" y1="578.80" x2="500.60" y2="605.40" stroke="#363636" stroke-width="0.75" />
<line x1="501.00" y1="578.80" x2="501.00" y2="605.40" stroke="#363636" stroke-width="0.75" />
<line x1="501.40" y1="578.80" x2="501.40" y2="605.40" stroke="#7a7a7a" stroke-width="0.75" />
<line x1="501.80" y1="578.80" x2="501.80" y2="605.40" stroke="#363636" stroke-width="0.75" />
<line x1="502.20" y1="578.80" x2="502.20" y2="605.40" stroke="#363636" stroke-width="0.75" />
<line x1="502.60" y1="578.80" x2="502.60" y2="605.40" stroke="#7a7a7a" stroke-width="0.75" />
<line x1="503.00" y1="578.80" x2="503.00" y2="605.40" stroke="#363636" stroke-width="0.75" />
<line x1="503.40" y1="578.80" x2="503.40" y2="605.40" stroke="#363636" stroke-width="0.75" />
<line x1="503.80" y1="578.80" x2="503.80" y2="605.40" stroke="#7a7a7a" stroke-width="0.75" />
<line x1="504.20" y1="578.80" x2="504.20" y2="605.40" stroke="#363636" stroke-width="0.75" />
<line x1="504.60" y1="578.80" x2="504.60" y2="605.40" stroke="#363636" stroke-width="0.75" />
<line x1="505.00" y1="578.80" x2="505.00" y2="605.40" stroke="#7a7a7a" stroke-width="0.75" />
<line x1="505.40" y1="578.80" x2="505.40" y2="605.40" stroke="#363636" stroke-width="0.75" />
<line x1="505.80" y1="578.80" x2="505.80" y2="605.40" stroke="#363636" stroke-width="0.75" />
<line x1="506.20" y1="578.80" x2="506.20" y2="605.40" stroke="#7a7a7a" stroke-width="0.75" />
<line x1="506.60" y1="578.80" x2="506.60" y2="605.40" stroke="#363636" stroke-width="0.75" />
<line x1="507.00" y1="578.80" x2="507.00" y2="605.40" stroke="#363636" stroke-width="0.75" />
<line x1="507.40" y1="578.80" x2="507.40" y2="605.40" stroke="#7a7a7a" stroke-width="0.75" />
<line x1="507.80" y1="578.80" x2="507.80" y2="605.40" stroke="#363636" stroke-width="0.75" />
<line x1="508.20" y1="578.80" x2="508.20" y2="605.40" stroke="#363636" stroke-width="0.75" />
<line x1="508.60" y1="578.80" x2="508.60" y2="605.40" stroke="#7a7a7a" stroke-width="0.75" />
<line x1="509.00" y1="578.80" x2="509.00" y2="605.40" stroke="#363636" stroke-width="0.75" />
<line x1="509.40" y1="578.80" x2="509.40" y2="605.40" stroke="#363636" stroke-width="0.75" />
<line x1="509.80" y1="578.80" x2="509.80" y2="605.40" stroke="#7a7a7a" stroke-width="0.75" />
<line x1="510.20" y1="578.80" x2="510.20" y2="605.40" stroke="#363636" stroke-width="0.75" />
<line x1="510.60" y1="578.80" x2="510.60" y2="605.40" stroke="#363636" stroke-width="0.75" />
<defs><linearGradient id="cb473" x1="0" x2="1" y1="0" y2="0"><stop offset="0.0" stop-color="#ec3a4a"/><stop offset="0.17" stop-color="#ec4152"/><stop offset="0.2" stop-color="#e7617a"/><stop offset="0.335" stop-color="#e8667e"/><stop offset="0.35" stop-color="#f2a8cf"/><stop offset="0.44" stop-color="#f3b0d4"/><stop offset="0.455" stop-color="#dccdec"/><stop offset="0.54" stop-color="#d6cbec"/><stop offset="0.555" stop-color="#c9c3e8"/><stop offset="0.675" stop-color="#c5bfe6"/><stop offset="0.69" stop-color="#7d7dcc"/><stop offset="0.762" stop-color="#7777c8"/><stop offset="0.778" stop-color="#5050b4"/><stop offset="0.92" stop-color="#4a4ab0"/><stop offset="0.935" stop-color="#33339e"/><stop offset="1.0" stop-color="#30309a"/></linearGradient></defs>
<rect x="335.50" y="605.40" width="175.40" height="6.50" fill="url(#cb473)"/>
<polygon points="335.50,648.00 335.50,635.80 336.52,636.30 337.44,638.50 340.90,640.50 347.94,642.30 360.38,644.40 378.02,645.80 404.44,646.80 415.25,648.00 415.25,648.00" fill="#bdbdbd" />
<polygon points="416.00,648.00 416.00,648.00 420.00,649.00 439.20,650.40 458.50,651.90 477.70,653.80 493.00,655.70 502.70,657.70 508.50,660.50 510.40,663.40 510.90,665.00 510.90,648.00" fill="#bdbdbd" />
<line x1="335.50" y1="648.00" x2="510.90" y2="648.00" stroke="#cfcfcf" stroke-width="0.6" />
<polyline points="335.50,499.50 336.50,499.67 337.50,499.83 338.50,500.00 339.42,500.70 340.34,501.40 341.26,502.10 342.18,502.80 343.10,503.50 343.96,503.93 344.83,504.35 345.69,504.77 346.55,505.20 347.41,505.62 348.27,506.05 349.14,506.47 350.00,506.90 350.92,507.28 351.84,507.66 352.76,508.04 353.68,508.42 354.60,508.80 355.75,508.45 356.90,508.10 358.05,508.90 359.20,509.70 360.02,510.18 360.85,510.66 361.68,511.14 362.50,511.61 363.32,512.09 364.15,512.57 364.98,513.05 365.80,513.53 366.62,514.01 367.45,514.49 368.27,514.96 369.10,515.44 369.93,515.92 370.75,516.40 371.57,516.88 372.40,517.36 373.23,517.84 374.05,518.31 374.88,518.79 375.70,519.27 376.52,519.75 377.35,520.23 378.18,520.71 379.00,521.19 379.82,521.66 380.65,522.14 381.48,522.62 382.30,523.10 383.11,523.57 383.93,524.05 384.74,524.52 385.56,524.99 386.37,525.47 387.19,525.94 388.00,526.41 388.82,526.89 389.63,527.36 390.45,527.84 391.26,528.31 392.08,528.78 392.89,529.26 393.71,529.73 394.52,530.20 395.34,530.68 396.15,531.15 396.96,531.62 397.78,532.10 398.59,532.57 399.41,533.04 400.22,533.52 401.04,533.99 401.85,534.46 402.67,534.94 403.48,535.41 404.30,535.89 405.11,536.36 405.93,536.83 406.74,537.31 407.56,537.78 408.37,538.25 409.19,538.73 410.00,539.20 410.83,539.77 411.67,540.33 412.50,540.90 413.33,541.47 414.17,542.03 415.00,542.60 415.83,543.17 416.67,543.73 417.50,544.30 418.33,544.87 419.17,545.43 420.00,546.00 420.83,546.42 421.67,546.83 422.50,547.25 423.34,547.67 424.17,548.09 425.01,548.50 425.84,548.92 426.68,549.34 427.51,549.76 428.35,550.17 429.18,550.59 430.02,551.01 430.85,551.43 431.69,551.84 432.52,552.26 433.36,552.68 434.19,553.10 435.03,553.51 435.86,553.93 436.70,554.35 437.53,554.77 438.37,555.18 439.20,555.60 440.00,556.08 440.81,556.56 441.61,557.04 442.42,557.52 443.22,558.00 444.02,558.48 444.83,558.95 445.63,559.43 446.44,559.91 447.24,560.39 448.05,560.87 448.85,561.35 449.65,561.83 450.46,562.31 451.26,562.79 452.07,563.27 452.87,563.75 453.68,564.23 454.48,564.70 455.28,565.18 456.09,565.66 456.89,566.14 457.70,566.62 458.50,567.10 459.32,567.41 460.14,567.73 460.96,568.04 461.79,568.36 462.61,568.67 463.43,568.99 464.25,569.30 465.07,569.61 465.89,569.93 466.71,570.24 467.54,570.56 468.36,570.87 469.18,571.19 470.00,571.50 470.86,571.79 471.71,572.08 472.57,572.48 473.42,572.17 474.28,572.76 475.13,573.22 475.99,573.46 476.84,572.96 477.70,573.50 478.56,573.79 479.42,573.90 480.28,573.92 481.14,574.53 482.00,574.20 482.88,574.16 483.77,574.01 484.65,574.44 485.53,574.07 486.42,573.67 487.30,573.80 488.24,573.35 489.18,573.28 490.12,572.57 491.06,572.87 492.00,572.50 492.82,572.15 493.63,571.26 494.45,571.10 495.27,570.59 496.08,569.64 496.90,569.00 497.88,567.03 498.85,564.32 499.82,562.11 500.80,560.40 501.75,556.05 502.70,551.70 503.65,547.35 504.60,543.00 505.57,537.90 506.53,532.80 507.50,527.70 508.45,518.10 509.40,508.50 510.80,498.80" fill="none" stroke="#5c9c2e" stroke-width="1.1" stroke-linejoin="round" />
<rect x="335.50" y="495.80" width="183.60" height="172.10" fill="none" stroke="#1a1a1a" stroke-width="1.1"/>
<line x1="332.20" y1="499.50" x2="335.50" y2="499.50" stroke="#1a1a1a" stroke-width="0.9" />
<text x="329.50" y="501.50" font-size="5.7" text-anchor="end" fill="#333" stroke="#333" stroke-width="0.12" >0.0</text>
<line x1="332.20" y1="510.55" x2="335.50" y2="510.55" stroke="#1a1a1a" stroke-width="0.9" />
<text x="329.50" y="512.55" font-size="5.7" text-anchor="end" fill="#333" stroke="#333" stroke-width="0.12" >−0.1</text>
<line x1="332.20" y1="521.60" x2="335.50" y2="521.60" stroke="#1a1a1a" stroke-width="0.9" />
<text x="329.50" y="523.60" font-size="5.7" text-anchor="end" fill="#333" stroke="#333" stroke-width="0.12" >−0.2</text>
<line x1="332.20" y1="532.65" x2="335.50" y2="532.65" stroke="#1a1a1a" stroke-width="0.9" />
<text x="329.50" y="534.65" font-size="5.7" text-anchor="end" fill="#333" stroke="#333" stroke-width="0.12" >−0.3</text>
<line x1="332.20" y1="543.70" x2="335.50" y2="543.70" stroke="#1a1a1a" stroke-width="0.9" />
<text x="329.50" y="545.70" font-size="5.7" text-anchor="end" fill="#333" stroke="#333" stroke-width="0.12" >−0.4</text>
<line x1="332.20" y1="554.75" x2="335.50" y2="554.75" stroke="#1a1a1a" stroke-width="0.9" />
<text x="329.50" y="556.75" font-size="5.7" text-anchor="end" fill="#333" stroke="#333" stroke-width="0.12" >−0.5</text>
<line x1="332.20" y1="565.80" x2="335.50" y2="565.80" stroke="#1a1a1a" stroke-width="0.9" />
<text x="329.50" y="567.80" font-size="5.7" text-anchor="end" fill="#333" stroke="#333" stroke-width="0.12" >−0.6</text>
<line x1="332.20" y1="576.85" x2="335.50" y2="576.85" stroke="#1a1a1a" stroke-width="0.9" />
<text x="329.50" y="578.85" font-size="5.7" text-anchor="end" fill="#333" stroke="#333" stroke-width="0.12" >−0.7</text>
<text x="329.50" y="625.40" font-size="5.7" text-anchor="end" fill="#333" stroke="#333" stroke-width="0.12" >2</text>
<text x="329.50" y="637.70" font-size="5.7" text-anchor="end" fill="#333" stroke="#333" stroke-width="0.12" >1</text>
<text x="329.50" y="650.00" font-size="5.7" text-anchor="end" fill="#333" stroke="#333" stroke-width="0.12" >0</text>
<text x="329.50" y="662.30" font-size="5.7" text-anchor="end" fill="#333" stroke="#333" stroke-width="0.12" >−1</text>
<line x1="335.50" y1="667.90" x2="335.50" y2="670.90" stroke="#1a1a1a" stroke-width="0.9" />
<text x="335.50" y="677.50" font-size="5.7" text-anchor="middle" fill="#333" stroke="#333" stroke-width="0.12" >0</text>
<line x1="362.48" y1="667.90" x2="362.48" y2="670.90" stroke="#1a1a1a" stroke-width="0.9" />
<text x="362.48" y="677.50" font-size="5.7" text-anchor="middle" fill="#333" stroke="#333" stroke-width="0.12" >2,000</text>
<line x1="389.47" y1="667.90" x2="389.47" y2="670.90" stroke="#1a1a1a" stroke-width="0.9" />
<text x="389.47" y="677.50" font-size="5.7" text-anchor="middle" fill="#333" stroke="#333" stroke-width="0.12" >4,000</text>
<line x1="416.45" y1="667.90" x2="416.45" y2="670.90" stroke="#1a1a1a" stroke-width="0.9" />
<text x="416.45" y="677.50" font-size="5.7" text-anchor="middle" fill="#333" stroke="#333" stroke-width="0.12" >6,000</text>
<line x1="443.44" y1="667.90" x2="443.44" y2="670.90" stroke="#1a1a1a" stroke-width="0.9" />
<text x="443.44" y="677.50" font-size="5.7" text-anchor="middle" fill="#333" stroke="#333" stroke-width="0.12" >8,000</text>
<line x1="470.42" y1="667.90" x2="470.42" y2="670.90" stroke="#1a1a1a" stroke-width="0.9" />
<text x="470.42" y="677.50" font-size="5.7" text-anchor="middle" fill="#333" stroke="#333" stroke-width="0.12" >10,000</text>
<line x1="497.41" y1="667.90" x2="497.41" y2="670.90" stroke="#1a1a1a" stroke-width="0.9" />
<text x="497.41" y="677.50" font-size="5.7" text-anchor="middle" fill="#333" stroke="#333" stroke-width="0.12" >12,000</text>
<text transform="translate(311.60,538.30) rotate(-90)" x="-27.75" y="0" font-size="6.3" fill="#333" stroke="#333" stroke-width="0.22" textLength="55.50" lengthAdjust="spacingAndGlyphs">Enrichment score (ES)</text>
<text transform="translate(318.20,642.40) rotate(-90)" x="-39.25" y="0" font-size="6.3" fill="#333" stroke="#333" stroke-width="0.22" textLength="78.50" lengthAdjust="spacingAndGlyphs">Ranked list metric (Signal2Noise)</text>
<text x="399.50" y="686.10" font-size="7.6" fill="#333" stroke="#333" stroke-width="0.25" textLength="56.00" lengthAdjust="spacingAndGlyphs">Rank in ordered dataset</text>
<text x="427.30" y="490.10" font-size="9.6" text-anchor="middle" fill="#222" stroke="#222" stroke-width="0.1" >Enrichment plot: LE_OXPHOS</text>
<text x="337.90" y="548.80" font-size="6.6" fill="#2a2a2a" stroke="#2a2a2a" stroke-width="0.05">ES = −0.67</text>
<text x="337.90" y="559.10" font-size="6.6" fill="#2a2a2a" stroke="#2a2a2a" stroke-width="0.05">NES = −1.72</text>
<text x="337.90" y="567.90" font-size="6.6" fill="#2a2a2a" stroke="#2a2a2a" stroke-width="0.05"><tspan font-style="italic">Nominal P = .02</tspan></text>
<text x="337.90" y="577.60" font-size="6.6" fill="#2a2a2a" stroke="#2a2a2a" stroke-width="0.05">FDR = 0.03</text>
<text x="336.70" y="620.90" font-size="9.1" text-anchor="start" fill="#d9414f" stroke="#d9414f" stroke-width="0.1" >'Healthy PCs' (positively correlated)</text>
<text x="496.10" y="663.90" font-size="8.6" text-anchor="end" fill="#3b4aa6" stroke="#3b4aa6" stroke-width="0.1" >'MMPCs' (negatively correlated)</text>
<text x="397.30" y="640.90" font-size="3.8" text-anchor="start" fill="#333" stroke="#333" stroke-width="0.1" >Zero cross at 5887</text>
<line x1="353.50" y1="697.30" x2="361.00" y2="697.30" stroke="#5c9c2e" stroke-width="0.9" />
<text x="364.00" y="699.20" font-size="5.25" text-anchor="start" fill="#444" stroke="#444" stroke-width="0.1" >Enrichment profile</text>
<line x1="413.70" y1="697.30" x2="417.60" y2="697.30" stroke="#222" stroke-width="0.9" />
<text x="419.50" y="699.20" font-size="5.25" text-anchor="start" fill="#444" stroke="#444" stroke-width="0.1" >Hits</text>
<line x1="438.70" y1="697.30" x2="444.50" y2="697.30" stroke="#c4c4c4" stroke-width="0.9" />
<text x="448.00" y="699.20" font-size="5.25" text-anchor="start" fill="#444" stroke="#444" stroke-width="0.1" >Ranking metric scores</text>
</svg></body></html>
